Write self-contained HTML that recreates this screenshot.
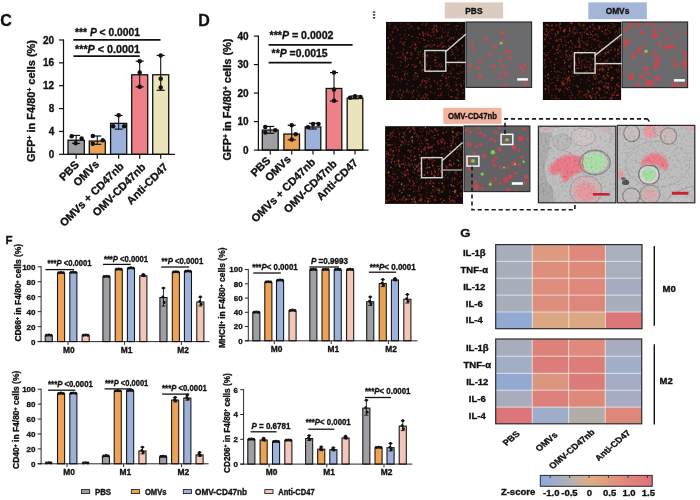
<!DOCTYPE html>
<html><head><meta charset="utf-8"><title>Figure</title>
<style>
html,body{margin:0;padding:0;background:#fff;}
body{width:700px;height:500px;overflow:hidden;font-family:"Liberation Sans",sans-serif;}
svg{display:block;font-family:"Liberation Sans",sans-serif;filter:blur(0.45px);}
</style></head><body>
<svg width="700" height="500" viewBox="0 0 700 500">
<rect width="700" height="500" fill="#fff"/>
<text x="0.30" y="26.00" font-size="16" text-anchor="start" font-weight="bold" fill="#111" stroke="#111" stroke-width="0.32" >C</text>
<rect x="68.00" y="140.23" width="16.30" height="14.07" fill="#9f9fa3" stroke="#111" stroke-width="1.3" />
<line x1="76.15" y1="143.44" x2="76.15" y2="135.44" stroke="#111" stroke-width="1.1" />
<line x1="72.15" y1="143.44" x2="80.15" y2="143.44" stroke="#111" stroke-width="1.2" />
<line x1="72.15" y1="135.44" x2="80.15" y2="135.44" stroke="#111" stroke-width="1.2" />
<circle cx="71.65" cy="136.30" r="2.25" fill="#111"/>
<circle cx="81.65" cy="138.58" r="2.25" fill="#111"/>
<circle cx="75.65" cy="143.16" r="2.25" fill="#111"/>
<rect x="89.30" y="141.08" width="16.00" height="13.22" fill="#eda355" stroke="#111" stroke-width="1.3" />
<line x1="97.30" y1="144.30" x2="97.30" y2="136.01" stroke="#111" stroke-width="1.1" />
<line x1="93.30" y1="144.30" x2="101.30" y2="144.30" stroke="#111" stroke-width="1.2" />
<line x1="93.30" y1="136.01" x2="101.30" y2="136.01" stroke="#111" stroke-width="1.2" />
<circle cx="92.80" cy="136.01" r="2.25" fill="#111"/>
<circle cx="102.80" cy="140.30" r="2.25" fill="#111"/>
<circle cx="92.80" cy="143.73" r="2.25" fill="#111"/>
<rect x="110.60" y="123.37" width="16.10" height="30.93" fill="#9db2da" stroke="#111" stroke-width="1.3" />
<line x1="118.65" y1="129.15" x2="118.65" y2="115.44" stroke="#111" stroke-width="1.1" />
<line x1="114.65" y1="129.15" x2="122.65" y2="129.15" stroke="#111" stroke-width="1.2" />
<line x1="114.65" y1="115.44" x2="122.65" y2="115.44" stroke="#111" stroke-width="1.2" />
<circle cx="113.15" cy="126.30" r="2.25" fill="#111"/>
<circle cx="124.15" cy="126.30" r="2.25" fill="#111"/>
<circle cx="118.65" cy="115.15" r="2.25" fill="#111"/>
<rect x="131.70" y="74.79" width="16.00" height="79.51" fill="#ee8088" stroke="#111" stroke-width="1.3" />
<line x1="139.70" y1="86.86" x2="139.70" y2="61.15" stroke="#111" stroke-width="1.1" />
<line x1="135.70" y1="86.86" x2="143.70" y2="86.86" stroke="#111" stroke-width="1.2" />
<line x1="135.70" y1="61.15" x2="143.70" y2="61.15" stroke="#111" stroke-width="1.2" />
<circle cx="139.70" cy="61.15" r="2.25" fill="#111"/>
<circle cx="139.70" cy="72.58" r="2.25" fill="#111"/>
<circle cx="139.70" cy="86.86" r="2.25" fill="#111"/>
<rect x="152.70" y="74.79" width="16.00" height="79.51" fill="#ebe4bb" stroke="#111" stroke-width="1.3" />
<line x1="160.70" y1="90.29" x2="160.70" y2="55.43" stroke="#111" stroke-width="1.1" />
<line x1="156.70" y1="90.29" x2="164.70" y2="90.29" stroke="#111" stroke-width="1.2" />
<line x1="156.70" y1="55.43" x2="164.70" y2="55.43" stroke="#111" stroke-width="1.2" />
<circle cx="160.70" cy="55.43" r="2.25" fill="#111"/>
<circle cx="160.70" cy="78.86" r="2.25" fill="#111"/>
<circle cx="160.70" cy="87.43" r="2.25" fill="#111"/>
<line x1="63.50" y1="39.40" x2="63.50" y2="154.90" stroke="#111" stroke-width="1.2" />
<line x1="62.90" y1="154.30" x2="175.00" y2="154.30" stroke="#111" stroke-width="1.2" />
<line x1="59.00" y1="154.30" x2="63.50" y2="154.30" stroke="#111" stroke-width="1.2" />
<text x="54.20" y="157.85" font-size="10.0" text-anchor="end" font-weight="bold" fill="#111" stroke="#111" stroke-width="0.32" >0</text>
<line x1="59.00" y1="131.44" x2="63.50" y2="131.44" stroke="#111" stroke-width="1.2" />
<text x="54.20" y="134.99" font-size="10.0" text-anchor="end" font-weight="bold" fill="#111" stroke="#111" stroke-width="0.32" >4</text>
<line x1="59.00" y1="108.58" x2="63.50" y2="108.58" stroke="#111" stroke-width="1.2" />
<text x="54.20" y="112.13" font-size="10.0" text-anchor="end" font-weight="bold" fill="#111" stroke="#111" stroke-width="0.32" >8</text>
<line x1="59.00" y1="85.72" x2="63.50" y2="85.72" stroke="#111" stroke-width="1.2" />
<text x="54.20" y="89.27" font-size="10.0" text-anchor="end" font-weight="bold" fill="#111" stroke="#111" stroke-width="0.32" >12</text>
<line x1="59.00" y1="62.86" x2="63.50" y2="62.86" stroke="#111" stroke-width="1.2" />
<text x="54.20" y="66.41" font-size="10.0" text-anchor="end" font-weight="bold" fill="#111" stroke="#111" stroke-width="0.32" >16</text>
<line x1="59.00" y1="40.00" x2="63.50" y2="40.00" stroke="#111" stroke-width="1.2" />
<text x="54.20" y="43.55" font-size="10.0" text-anchor="end" font-weight="bold" fill="#111" stroke="#111" stroke-width="0.32" >20</text>
<line x1="76.15" y1="154.30" x2="76.15" y2="158.80" stroke="#111" stroke-width="1.2" />
<text x="79.65" y="165.40" font-size="11.0" text-anchor="end" font-weight="bold" fill="#111" stroke="#111" stroke-width="0.32" transform="rotate(-45 79.65 165.40)" >PBS</text>
<line x1="97.30" y1="154.30" x2="97.30" y2="158.80" stroke="#111" stroke-width="1.2" />
<text x="99.80" y="164.90" font-size="11.0" text-anchor="end" font-weight="bold" fill="#111" stroke="#111" stroke-width="0.32" transform="rotate(-45 99.80 164.90)" >OMVs</text>
<line x1="118.65" y1="154.30" x2="118.65" y2="158.80" stroke="#111" stroke-width="1.2" />
<text x="124.45" y="166.90" font-size="11.0" text-anchor="end" font-weight="bold" fill="#111" stroke="#111" stroke-width="0.32" transform="rotate(-45 124.45 166.90)" >OMVs + CD47nb</text>
<line x1="139.70" y1="154.30" x2="139.70" y2="158.80" stroke="#111" stroke-width="1.2" />
<text x="146.40" y="167.70" font-size="11.0" text-anchor="end" font-weight="bold" fill="#111" stroke="#111" stroke-width="0.32" transform="rotate(-45 146.40 167.70)" >OMV-CD47nb</text>
<line x1="160.70" y1="154.30" x2="160.70" y2="158.80" stroke="#111" stroke-width="1.2" />
<text x="168.70" y="167.60" font-size="11.0" text-anchor="end" font-weight="bold" fill="#111" stroke="#111" stroke-width="0.32" transform="rotate(-45 168.70 167.60)" >Anti-CD47</text>
<text x="35.00" y="101.00" font-size="10.6" text-anchor="middle" font-weight="bold" fill="#111" stroke="#111" stroke-width="0.32" transform="rotate(-90 35.00 101.00)" textLength="122.00" lengthAdjust="spacingAndGlyphs" >GFP<tspan font-size="60%" dy="-3.2">+</tspan><tspan dy="3.2"> in F4/80</tspan><tspan font-size="60%" dy="-3.2">+</tspan><tspan dy="3.2"> cells (%)</tspan></text>
<line x1="73.40" y1="39.90" x2="160.50" y2="39.90" stroke="#111" stroke-width="1.75" />
<text x="75.00" y="36.00" font-size="10.6" text-anchor="start" font-weight="bold" fill="#111" stroke="#111" stroke-width="0.32" textLength="65.00" lengthAdjust="spacingAndGlyphs" >*** <tspan font-style="italic">P</tspan> &lt; 0.0001</text>
<line x1="73.40" y1="56.00" x2="139.70" y2="56.00" stroke="#111" stroke-width="1.75" />
<text x="75.00" y="52.50" font-size="10.6" text-anchor="start" font-weight="bold" fill="#111" stroke="#111" stroke-width="0.32" textLength="65.00" lengthAdjust="spacingAndGlyphs" >***<tspan font-style="italic">P</tspan> &lt; 0.0001</text>
<text x="198.30" y="26.00" font-size="16" text-anchor="start" font-weight="bold" fill="#111" stroke="#111" stroke-width="0.32" >D</text>
<rect x="262.30" y="130.08" width="15.90" height="20.02" fill="#9f9fa3" stroke="#111" stroke-width="1.3" />
<line x1="270.25" y1="133.28" x2="270.25" y2="126.44" stroke="#111" stroke-width="1.1" />
<line x1="266.25" y1="133.28" x2="274.25" y2="133.28" stroke="#111" stroke-width="1.2" />
<line x1="266.25" y1="126.44" x2="274.25" y2="126.44" stroke="#111" stroke-width="1.2" />
<circle cx="265.25" cy="127.01" r="2.25" fill="#111"/>
<circle cx="275.25" cy="130.15" r="2.25" fill="#111"/>
<circle cx="265.25" cy="132.43" r="2.25" fill="#111"/>
<rect x="283.90" y="134.07" width="15.60" height="16.03" fill="#eda355" stroke="#111" stroke-width="1.3" />
<line x1="291.70" y1="139.84" x2="291.70" y2="125.30" stroke="#111" stroke-width="1.1" />
<line x1="287.70" y1="139.84" x2="295.70" y2="139.84" stroke="#111" stroke-width="1.2" />
<line x1="287.70" y1="125.30" x2="295.70" y2="125.30" stroke="#111" stroke-width="1.2" />
<circle cx="291.70" cy="125.30" r="2.25" fill="#111"/>
<circle cx="295.70" cy="134.14" r="2.25" fill="#111"/>
<circle cx="291.70" cy="139.56" r="2.25" fill="#111"/>
<rect x="305.20" y="126.94" width="15.60" height="23.16" fill="#9db2da" stroke="#111" stroke-width="1.3" />
<line x1="313.00" y1="129.01" x2="313.00" y2="123.31" stroke="#111" stroke-width="1.1" />
<line x1="309.00" y1="129.01" x2="317.00" y2="129.01" stroke="#111" stroke-width="1.2" />
<line x1="309.00" y1="123.31" x2="317.00" y2="123.31" stroke="#111" stroke-width="1.2" />
<circle cx="308.00" cy="127.30" r="2.25" fill="#111"/>
<circle cx="313.00" cy="123.88" r="2.25" fill="#111"/>
<circle cx="318.50" cy="123.88" r="2.25" fill="#111"/>
<rect x="326.20" y="88.47" width="15.60" height="61.63" fill="#ee8088" stroke="#111" stroke-width="1.3" />
<line x1="334.00" y1="101.08" x2="334.00" y2="72.58" stroke="#111" stroke-width="1.1" />
<line x1="330.00" y1="101.08" x2="338.00" y2="101.08" stroke="#111" stroke-width="1.2" />
<line x1="330.00" y1="72.58" x2="338.00" y2="72.58" stroke="#111" stroke-width="1.2" />
<circle cx="334.00" cy="72.58" r="2.25" fill="#111"/>
<circle cx="334.00" cy="89.39" r="2.25" fill="#111"/>
<circle cx="334.00" cy="100.79" r="2.25" fill="#111"/>
<rect x="347.20" y="98.16" width="15.60" height="51.94" fill="#ebe4bb" stroke="#111" stroke-width="1.3" />
<line x1="355.00" y1="98.80" x2="355.00" y2="95.95" stroke="#111" stroke-width="1.1" />
<line x1="351.00" y1="98.80" x2="359.00" y2="98.80" stroke="#111" stroke-width="1.2" />
<line x1="351.00" y1="95.95" x2="359.00" y2="95.95" stroke="#111" stroke-width="1.2" />
<circle cx="350.00" cy="97.66" r="2.25" fill="#111"/>
<circle cx="355.00" cy="96.23" r="2.25" fill="#111"/>
<circle cx="360.50" cy="97.09" r="2.25" fill="#111"/>
<line x1="258.40" y1="35.50" x2="258.40" y2="150.70" stroke="#111" stroke-width="1.2" />
<line x1="257.80" y1="150.10" x2="368.50" y2="150.10" stroke="#111" stroke-width="1.2" />
<line x1="253.90" y1="150.10" x2="258.40" y2="150.10" stroke="#111" stroke-width="1.2" />
<text x="248.50" y="153.65" font-size="10.0" text-anchor="end" font-weight="bold" fill="#111" stroke="#111" stroke-width="0.32" >0</text>
<line x1="253.90" y1="121.60" x2="258.40" y2="121.60" stroke="#111" stroke-width="1.2" />
<text x="248.50" y="125.15" font-size="10.0" text-anchor="end" font-weight="bold" fill="#111" stroke="#111" stroke-width="0.32" >10</text>
<line x1="253.90" y1="93.10" x2="258.40" y2="93.10" stroke="#111" stroke-width="1.2" />
<text x="248.50" y="96.65" font-size="10.0" text-anchor="end" font-weight="bold" fill="#111" stroke="#111" stroke-width="0.32" >20</text>
<line x1="253.90" y1="64.60" x2="258.40" y2="64.60" stroke="#111" stroke-width="1.2" />
<text x="248.50" y="68.15" font-size="10.0" text-anchor="end" font-weight="bold" fill="#111" stroke="#111" stroke-width="0.32" >30</text>
<line x1="253.90" y1="36.10" x2="258.40" y2="36.10" stroke="#111" stroke-width="1.2" />
<text x="248.50" y="39.65" font-size="10.0" text-anchor="end" font-weight="bold" fill="#111" stroke="#111" stroke-width="0.32" >40</text>
<line x1="270.25" y1="150.10" x2="270.25" y2="154.60" stroke="#111" stroke-width="1.2" />
<text x="271.15" y="161.20" font-size="11.0" text-anchor="end" font-weight="bold" fill="#111" stroke="#111" stroke-width="0.32" transform="rotate(-45 271.15 161.20)" >PBS</text>
<line x1="291.70" y1="150.10" x2="291.70" y2="154.60" stroke="#111" stroke-width="1.2" />
<text x="291.60" y="159.90" font-size="11.0" text-anchor="end" font-weight="bold" fill="#111" stroke="#111" stroke-width="0.32" transform="rotate(-45 291.60 159.90)" >OMVs</text>
<line x1="313.00" y1="150.10" x2="313.00" y2="154.60" stroke="#111" stroke-width="1.2" />
<text x="316.00" y="162.80" font-size="11.0" text-anchor="end" font-weight="bold" fill="#111" stroke="#111" stroke-width="0.32" transform="rotate(-45 316.00 162.80)" >OMVs + CD47nb</text>
<line x1="334.00" y1="150.10" x2="334.00" y2="154.60" stroke="#111" stroke-width="1.2" />
<text x="337.50" y="164.40" font-size="11.0" text-anchor="end" font-weight="bold" fill="#111" stroke="#111" stroke-width="0.32" transform="rotate(-45 337.50 164.40)" >OMV-CD47nb</text>
<line x1="355.00" y1="150.10" x2="355.00" y2="154.60" stroke="#111" stroke-width="1.2" />
<text x="358.50" y="163.40" font-size="11.0" text-anchor="end" font-weight="bold" fill="#111" stroke="#111" stroke-width="0.32" transform="rotate(-45 358.50 163.40)" >Anti-CD47</text>
<text x="231.40" y="99.50" font-size="10.6" text-anchor="middle" font-weight="bold" fill="#111" stroke="#111" stroke-width="0.32" transform="rotate(-90 231.40 99.50)" textLength="122.00" lengthAdjust="spacingAndGlyphs" >GFP<tspan font-size="60%" dy="-3.2">+</tspan><tspan dy="3.2"> in F4/80</tspan><tspan font-size="60%" dy="-3.2">+</tspan><tspan dy="3.2"> cells (%)</tspan></text>
<line x1="268.60" y1="44.80" x2="352.60" y2="44.80" stroke="#111" stroke-width="1.75" />
<text x="269.50" y="39.00" font-size="10.6" text-anchor="start" font-weight="bold" fill="#111" stroke="#111" stroke-width="0.32" textLength="64.00" lengthAdjust="spacingAndGlyphs" >***<tspan font-style="italic">P</tspan> = 0.0002</text>
<line x1="268.60" y1="62.50" x2="331.60" y2="62.50" stroke="#111" stroke-width="1.75" />
<text x="271.60" y="57.40" font-size="10.6" text-anchor="start" font-weight="bold" fill="#111" stroke="#111" stroke-width="0.32" textLength="56.00" lengthAdjust="spacingAndGlyphs" >**<tspan font-style="italic">P</tspan> =0.0015</text>
<text x="5.50" y="243.80" font-size="11.5" text-anchor="start" font-weight="bold" fill="#111" stroke="#111" stroke-width="0.32" >F</text>
<rect x="45.20" y="335.69" width="7.10" height="5.91" fill="#9f9fa3" stroke="#111" stroke-width="1.05" />
<circle cx="46.45" cy="335.24" r="1.45" fill="#111"/>
<circle cx="48.75" cy="334.84" r="1.45" fill="#111"/>
<circle cx="51.05" cy="335.24" r="1.45" fill="#111"/>
<rect x="57.50" y="273.19" width="7.10" height="68.41" fill="#eda355" stroke="#111" stroke-width="1.05" />
<circle cx="58.75" cy="272.74" r="1.45" fill="#111"/>
<circle cx="61.05" cy="272.34" r="1.45" fill="#111"/>
<circle cx="63.35" cy="272.74" r="1.45" fill="#111"/>
<rect x="69.80" y="272.81" width="7.10" height="68.79" fill="#9db2da" stroke="#111" stroke-width="1.05" />
<circle cx="71.05" cy="272.36" r="1.45" fill="#111"/>
<circle cx="73.35" cy="271.96" r="1.45" fill="#111"/>
<circle cx="75.65" cy="272.36" r="1.45" fill="#111"/>
<rect x="82.10" y="335.69" width="7.10" height="5.91" fill="#f3c6ba" stroke="#111" stroke-width="1.05" />
<circle cx="83.35" cy="335.24" r="1.45" fill="#111"/>
<circle cx="85.65" cy="334.84" r="1.45" fill="#111"/>
<circle cx="87.95" cy="335.24" r="1.45" fill="#111"/>
<line x1="68.00" y1="341.60" x2="68.00" y2="344.80" stroke="#111" stroke-width="0.9" />
<text x="68.90" y="352.80" font-size="8.4" text-anchor="middle" font-weight="bold" fill="#111" stroke="#111" stroke-width="0.32" >M0</text>
<rect x="102.90" y="276.93" width="7.10" height="64.67" fill="#9f9fa3" stroke="#111" stroke-width="1.05" />
<circle cx="104.15" cy="276.48" r="1.45" fill="#111"/>
<circle cx="106.45" cy="276.08" r="1.45" fill="#111"/>
<circle cx="108.75" cy="276.48" r="1.45" fill="#111"/>
<rect x="115.20" y="269.74" width="7.10" height="71.86" fill="#eda355" stroke="#111" stroke-width="1.05" />
<circle cx="116.45" cy="269.29" r="1.45" fill="#111"/>
<circle cx="118.75" cy="268.89" r="1.45" fill="#111"/>
<circle cx="121.05" cy="269.29" r="1.45" fill="#111"/>
<rect x="127.40" y="268.55" width="7.10" height="73.05" fill="#9db2da" stroke="#111" stroke-width="1.05" />
<circle cx="128.65" cy="268.10" r="1.45" fill="#111"/>
<circle cx="130.95" cy="267.70" r="1.45" fill="#111"/>
<circle cx="133.25" cy="268.10" r="1.45" fill="#111"/>
<rect x="139.80" y="275.81" width="7.10" height="65.79" fill="#f3c6ba" stroke="#111" stroke-width="1.05" />
<line x1="143.35" y1="274.46" x2="143.35" y2="276.26" stroke="#111" stroke-width="0.9" />
<line x1="141.35" y1="274.46" x2="145.35" y2="274.46" stroke="#111" stroke-width="0.9" />
<line x1="141.35" y1="276.26" x2="145.35" y2="276.26" stroke="#111" stroke-width="0.9" />
<circle cx="143.35" cy="274.46" r="1.45" fill="#111"/>
<circle cx="144.15" cy="275.90" r="1.45" fill="#111"/>
<circle cx="142.75" cy="275.36" r="1.45" fill="#111"/>
<line x1="124.60" y1="341.60" x2="124.60" y2="344.80" stroke="#111" stroke-width="0.9" />
<text x="126.50" y="352.80" font-size="8.4" text-anchor="middle" font-weight="bold" fill="#111" stroke="#111" stroke-width="0.32" >M1</text>
<rect x="159.90" y="297.51" width="7.10" height="44.09" fill="#9f9fa3" stroke="#111" stroke-width="1.05" />
<line x1="163.45" y1="288.08" x2="163.45" y2="306.05" stroke="#111" stroke-width="0.9" />
<line x1="161.45" y1="288.08" x2="165.45" y2="288.08" stroke="#111" stroke-width="0.9" />
<line x1="161.45" y1="306.05" x2="165.45" y2="306.05" stroke="#111" stroke-width="0.9" />
<circle cx="163.45" cy="288.08" r="1.45" fill="#111"/>
<circle cx="164.25" cy="302.45" r="1.45" fill="#111"/>
<circle cx="162.85" cy="297.06" r="1.45" fill="#111"/>
<rect x="172.30" y="272.44" width="7.10" height="69.16" fill="#eda355" stroke="#111" stroke-width="1.05" />
<circle cx="173.55" cy="271.99" r="1.45" fill="#111"/>
<circle cx="175.85" cy="271.59" r="1.45" fill="#111"/>
<circle cx="178.15" cy="271.99" r="1.45" fill="#111"/>
<rect x="184.40" y="271.69" width="7.10" height="69.91" fill="#9db2da" stroke="#111" stroke-width="1.05" />
<circle cx="185.65" cy="271.24" r="1.45" fill="#111"/>
<circle cx="187.95" cy="270.84" r="1.45" fill="#111"/>
<circle cx="190.25" cy="271.24" r="1.45" fill="#111"/>
<rect x="196.80" y="302.01" width="7.10" height="39.59" fill="#f3c6ba" stroke="#111" stroke-width="1.05" />
<line x1="200.35" y1="297.06" x2="200.35" y2="306.05" stroke="#111" stroke-width="0.9" />
<line x1="198.35" y1="297.06" x2="202.35" y2="297.06" stroke="#111" stroke-width="0.9" />
<line x1="198.35" y1="306.05" x2="202.35" y2="306.05" stroke="#111" stroke-width="0.9" />
<circle cx="200.35" cy="297.06" r="1.45" fill="#111"/>
<circle cx="201.15" cy="304.25" r="1.45" fill="#111"/>
<circle cx="199.75" cy="301.56" r="1.45" fill="#111"/>
<line x1="181.40" y1="341.60" x2="181.40" y2="344.80" stroke="#111" stroke-width="0.9" />
<text x="183.00" y="352.80" font-size="8.4" text-anchor="middle" font-weight="bold" fill="#111" stroke="#111" stroke-width="0.32" >M2</text>
<line x1="41.10" y1="266.30" x2="41.10" y2="342.05" stroke="#111" stroke-width="0.9" />
<line x1="37.70" y1="341.60" x2="209.60" y2="341.60" stroke="#111" stroke-width="0.9" />
<line x1="37.70" y1="341.60" x2="41.10" y2="341.60" stroke="#111" stroke-width="0.9" />
<text x="35.50" y="344.50" font-size="8.0" text-anchor="end" font-weight="bold" fill="#111" stroke="#111" stroke-width="0.32" >0</text>
<line x1="37.70" y1="326.63" x2="41.10" y2="326.63" stroke="#111" stroke-width="0.9" />
<text x="35.50" y="329.53" font-size="8.0" text-anchor="end" font-weight="bold" fill="#111" stroke="#111" stroke-width="0.32" >20</text>
<line x1="37.70" y1="311.66" x2="41.10" y2="311.66" stroke="#111" stroke-width="0.9" />
<text x="35.50" y="314.56" font-size="8.0" text-anchor="end" font-weight="bold" fill="#111" stroke="#111" stroke-width="0.32" >40</text>
<line x1="37.70" y1="296.69" x2="41.10" y2="296.69" stroke="#111" stroke-width="0.9" />
<text x="35.50" y="299.59" font-size="8.0" text-anchor="end" font-weight="bold" fill="#111" stroke="#111" stroke-width="0.32" >60</text>
<line x1="37.70" y1="281.72" x2="41.10" y2="281.72" stroke="#111" stroke-width="0.9" />
<text x="35.50" y="284.62" font-size="8.0" text-anchor="end" font-weight="bold" fill="#111" stroke="#111" stroke-width="0.32" >80</text>
<line x1="37.70" y1="266.75" x2="41.10" y2="266.75" stroke="#111" stroke-width="0.9" />
<text x="35.50" y="269.65" font-size="8.0" text-anchor="end" font-weight="bold" fill="#111" stroke="#111" stroke-width="0.32" >100</text>
<text x="21.20" y="292.80" font-size="8.4" text-anchor="middle" font-weight="bold" fill="#111" stroke="#111" stroke-width="0.32" transform="rotate(-90 21.20 292.80)" textLength="97.60" lengthAdjust="spacingAndGlyphs" >CD86<tspan font-size="60%" dy="-2.6">+</tspan><tspan dy="2.6"> in F4/80</tspan><tspan font-size="60%" dy="-2.6">+</tspan><tspan dy="2.6"> cells (%)</tspan></text>
<line x1="45.50" y1="269.60" x2="74.10" y2="269.60" stroke="#111" stroke-width="1.3" />
<text x="47.60" y="266.00" font-size="8.4" text-anchor="start" font-weight="bold" fill="#111" stroke="#111" stroke-width="0.32" textLength="44.00" lengthAdjust="spacingAndGlyphs" >***<tspan font-style="italic">P</tspan> &lt;0.0001</text>
<line x1="103.00" y1="264.40" x2="130.70" y2="264.40" stroke="#111" stroke-width="1.3" />
<text x="103.90" y="261.60" font-size="8.4" text-anchor="start" font-weight="bold" fill="#111" stroke="#111" stroke-width="0.32" textLength="44.20" lengthAdjust="spacingAndGlyphs" >***<tspan font-style="italic">P</tspan> &lt;0.0001</text>
<line x1="161.10" y1="267.00" x2="189.20" y2="267.00" stroke="#111" stroke-width="1.3" />
<text x="161.60" y="264.00" font-size="8.4" text-anchor="start" font-weight="bold" fill="#111" stroke="#111" stroke-width="0.32" textLength="41.60" lengthAdjust="spacingAndGlyphs" >**<tspan font-style="italic">P</tspan> &lt;0.0001</text>
<rect x="252.80" y="312.75" width="7.10" height="28.05" fill="#9f9fa3" stroke="#111" stroke-width="1.05" />
<circle cx="254.05" cy="312.30" r="1.45" fill="#111"/>
<circle cx="256.35" cy="311.90" r="1.45" fill="#111"/>
<circle cx="258.65" cy="312.30" r="1.45" fill="#111"/>
<rect x="264.80" y="282.47" width="7.10" height="58.33" fill="#eda355" stroke="#111" stroke-width="1.05" />
<circle cx="266.05" cy="282.02" r="1.45" fill="#111"/>
<circle cx="268.35" cy="281.62" r="1.45" fill="#111"/>
<circle cx="270.65" cy="282.02" r="1.45" fill="#111"/>
<rect x="276.50" y="280.69" width="7.10" height="60.11" fill="#9db2da" stroke="#111" stroke-width="1.05" />
<circle cx="277.75" cy="280.24" r="1.45" fill="#111"/>
<circle cx="280.05" cy="279.84" r="1.45" fill="#111"/>
<circle cx="282.35" cy="280.24" r="1.45" fill="#111"/>
<rect x="289.00" y="310.90" width="7.10" height="29.90" fill="#f3c6ba" stroke="#111" stroke-width="1.05" />
<circle cx="290.25" cy="310.45" r="1.45" fill="#111"/>
<circle cx="292.55" cy="310.05" r="1.45" fill="#111"/>
<circle cx="294.85" cy="310.45" r="1.45" fill="#111"/>
<line x1="274.30" y1="340.80" x2="274.30" y2="344.00" stroke="#111" stroke-width="0.9" />
<text x="276.50" y="352.00" font-size="8.4" text-anchor="middle" font-weight="bold" fill="#111" stroke="#111" stroke-width="0.32" >M0</text>
<rect x="309.80" y="270.00" width="7.10" height="70.80" fill="#9f9fa3" stroke="#111" stroke-width="1.05" />
<circle cx="311.05" cy="269.55" r="1.45" fill="#111"/>
<circle cx="313.35" cy="269.15" r="1.45" fill="#111"/>
<circle cx="315.65" cy="269.55" r="1.45" fill="#111"/>
<rect x="322.00" y="270.00" width="7.10" height="70.80" fill="#eda355" stroke="#111" stroke-width="1.05" />
<circle cx="323.25" cy="269.55" r="1.45" fill="#111"/>
<circle cx="325.55" cy="269.15" r="1.45" fill="#111"/>
<circle cx="327.85" cy="269.55" r="1.45" fill="#111"/>
<rect x="334.20" y="270.00" width="7.10" height="70.80" fill="#9db2da" stroke="#111" stroke-width="1.05" />
<circle cx="335.45" cy="269.55" r="1.45" fill="#111"/>
<circle cx="337.75" cy="269.15" r="1.45" fill="#111"/>
<circle cx="340.05" cy="269.55" r="1.45" fill="#111"/>
<rect x="346.60" y="270.00" width="7.10" height="70.80" fill="#f3c6ba" stroke="#111" stroke-width="1.05" />
<circle cx="347.85" cy="269.55" r="1.45" fill="#111"/>
<circle cx="350.15" cy="269.15" r="1.45" fill="#111"/>
<circle cx="352.45" cy="269.55" r="1.45" fill="#111"/>
<line x1="331.20" y1="340.80" x2="331.20" y2="344.00" stroke="#111" stroke-width="0.9" />
<text x="333.30" y="352.00" font-size="8.4" text-anchor="middle" font-weight="bold" fill="#111" stroke="#111" stroke-width="0.32" >M1</text>
<rect x="366.70" y="301.71" width="7.10" height="39.09" fill="#9f9fa3" stroke="#111" stroke-width="1.05" />
<line x1="370.25" y1="296.98" x2="370.25" y2="305.53" stroke="#111" stroke-width="0.9" />
<line x1="368.25" y1="296.98" x2="372.25" y2="296.98" stroke="#111" stroke-width="0.9" />
<line x1="368.25" y1="305.53" x2="372.25" y2="305.53" stroke="#111" stroke-width="0.9" />
<circle cx="370.25" cy="296.98" r="1.45" fill="#111"/>
<circle cx="371.05" cy="303.82" r="1.45" fill="#111"/>
<circle cx="369.65" cy="301.26" r="1.45" fill="#111"/>
<rect x="379.20" y="283.54" width="7.10" height="57.26" fill="#eda355" stroke="#111" stroke-width="1.05" />
<line x1="382.75" y1="279.53" x2="382.75" y2="286.65" stroke="#111" stroke-width="0.9" />
<line x1="380.75" y1="279.53" x2="384.75" y2="279.53" stroke="#111" stroke-width="0.9" />
<line x1="380.75" y1="286.65" x2="384.75" y2="286.65" stroke="#111" stroke-width="0.9" />
<circle cx="382.75" cy="279.53" r="1.45" fill="#111"/>
<circle cx="383.55" cy="285.23" r="1.45" fill="#111"/>
<circle cx="382.15" cy="283.09" r="1.45" fill="#111"/>
<rect x="391.40" y="279.98" width="7.10" height="60.82" fill="#9db2da" stroke="#111" stroke-width="1.05" />
<line x1="394.95" y1="278.46" x2="394.95" y2="280.59" stroke="#111" stroke-width="0.9" />
<line x1="392.95" y1="278.46" x2="396.95" y2="278.46" stroke="#111" stroke-width="0.9" />
<line x1="392.95" y1="280.59" x2="396.95" y2="280.59" stroke="#111" stroke-width="0.9" />
<circle cx="394.95" cy="278.46" r="1.45" fill="#111"/>
<circle cx="395.75" cy="280.17" r="1.45" fill="#111"/>
<circle cx="394.35" cy="279.53" r="1.45" fill="#111"/>
<rect x="403.80" y="299.21" width="7.10" height="41.59" fill="#f3c6ba" stroke="#111" stroke-width="1.05" />
<line x1="407.35" y1="294.49" x2="407.35" y2="303.04" stroke="#111" stroke-width="0.9" />
<line x1="405.35" y1="294.49" x2="409.35" y2="294.49" stroke="#111" stroke-width="0.9" />
<line x1="405.35" y1="303.04" x2="409.35" y2="303.04" stroke="#111" stroke-width="0.9" />
<circle cx="407.35" cy="294.49" r="1.45" fill="#111"/>
<circle cx="408.15" cy="301.33" r="1.45" fill="#111"/>
<circle cx="406.75" cy="298.76" r="1.45" fill="#111"/>
<line x1="388.40" y1="340.80" x2="388.40" y2="344.00" stroke="#111" stroke-width="0.9" />
<text x="391.00" y="352.00" font-size="8.4" text-anchor="middle" font-weight="bold" fill="#111" stroke="#111" stroke-width="0.32" >M2</text>
<line x1="248.30" y1="269.10" x2="248.30" y2="341.25" stroke="#111" stroke-width="0.9" />
<line x1="244.90" y1="340.80" x2="417.50" y2="340.80" stroke="#111" stroke-width="0.9" />
<line x1="244.90" y1="340.80" x2="248.30" y2="340.80" stroke="#111" stroke-width="0.9" />
<text x="242.70" y="343.70" font-size="8.0" text-anchor="end" font-weight="bold" fill="#111" stroke="#111" stroke-width="0.32" >0</text>
<line x1="244.90" y1="326.55" x2="248.30" y2="326.55" stroke="#111" stroke-width="0.9" />
<text x="242.70" y="329.45" font-size="8.0" text-anchor="end" font-weight="bold" fill="#111" stroke="#111" stroke-width="0.32" >20</text>
<line x1="244.90" y1="312.30" x2="248.30" y2="312.30" stroke="#111" stroke-width="0.9" />
<text x="242.70" y="315.20" font-size="8.0" text-anchor="end" font-weight="bold" fill="#111" stroke="#111" stroke-width="0.32" >40</text>
<line x1="244.90" y1="298.05" x2="248.30" y2="298.05" stroke="#111" stroke-width="0.9" />
<text x="242.70" y="300.95" font-size="8.0" text-anchor="end" font-weight="bold" fill="#111" stroke="#111" stroke-width="0.32" >60</text>
<line x1="244.90" y1="283.80" x2="248.30" y2="283.80" stroke="#111" stroke-width="0.9" />
<text x="242.70" y="286.70" font-size="8.0" text-anchor="end" font-weight="bold" fill="#111" stroke="#111" stroke-width="0.32" >80</text>
<line x1="244.90" y1="269.55" x2="248.30" y2="269.55" stroke="#111" stroke-width="0.9" />
<text x="242.70" y="272.45" font-size="8.0" text-anchor="end" font-weight="bold" fill="#111" stroke="#111" stroke-width="0.32" >100</text>
<text x="225.40" y="297.80" font-size="8.4" text-anchor="middle" font-weight="bold" fill="#111" stroke="#111" stroke-width="0.32" transform="rotate(-90 225.40 297.80)" textLength="100.60" lengthAdjust="spacingAndGlyphs" >MHCII<tspan font-size="60%" dy="-2.6">+</tspan><tspan dy="2.6"> in F4/80</tspan><tspan font-size="60%" dy="-2.6">+</tspan><tspan dy="2.6"> cells (%)</tspan></text>
<line x1="253.20" y1="273.00" x2="280.80" y2="273.00" stroke="#111" stroke-width="1.3" />
<text x="252.20" y="269.50" font-size="8.4" text-anchor="start" font-weight="bold" fill="#111" stroke="#111" stroke-width="0.32" textLength="45.50" lengthAdjust="spacingAndGlyphs" >***<tspan font-style="italic">P</tspan>&lt; 0.0001</text>
<line x1="309.40" y1="267.00" x2="339.00" y2="267.00" stroke="#111" stroke-width="1.3" />
<text x="310.90" y="263.60" font-size="8.4" text-anchor="start" font-weight="bold" fill="#111" stroke="#111" stroke-width="0.32" textLength="37.20" lengthAdjust="spacingAndGlyphs" ><tspan font-style="italic">P</tspan> =0.9993</text>
<line x1="368.90" y1="272.20" x2="396.20" y2="272.20" stroke="#111" stroke-width="1.3" />
<text x="369.70" y="269.50" font-size="8.4" text-anchor="start" font-weight="bold" fill="#111" stroke="#111" stroke-width="0.32" textLength="46.00" lengthAdjust="spacingAndGlyphs" >***<tspan font-style="italic">P</tspan>&lt; 0.0001</text>
<circle cx="46.45" cy="463.05" r="1.45" fill="#111"/>
<circle cx="48.75" cy="462.65" r="1.45" fill="#111"/>
<circle cx="51.05" cy="463.05" r="1.45" fill="#111"/>
<rect x="57.50" y="393.90" width="7.10" height="69.90" fill="#eda355" stroke="#111" stroke-width="1.05" />
<circle cx="58.75" cy="393.45" r="1.45" fill="#111"/>
<circle cx="61.05" cy="393.05" r="1.45" fill="#111"/>
<circle cx="63.35" cy="393.45" r="1.45" fill="#111"/>
<rect x="69.80" y="393.68" width="7.10" height="70.12" fill="#9db2da" stroke="#111" stroke-width="1.05" />
<circle cx="71.05" cy="393.23" r="1.45" fill="#111"/>
<circle cx="73.35" cy="392.83" r="1.45" fill="#111"/>
<circle cx="75.65" cy="393.23" r="1.45" fill="#111"/>
<circle cx="83.35" cy="463.05" r="1.45" fill="#111"/>
<circle cx="85.65" cy="462.65" r="1.45" fill="#111"/>
<circle cx="87.95" cy="463.05" r="1.45" fill="#111"/>
<line x1="67.00" y1="463.80" x2="67.00" y2="467.00" stroke="#111" stroke-width="0.9" />
<text x="69.00" y="475.00" font-size="8.4" text-anchor="middle" font-weight="bold" fill="#111" stroke="#111" stroke-width="0.32" >M0</text>
<rect x="102.40" y="456.42" width="7.10" height="7.38" fill="#9f9fa3" stroke="#111" stroke-width="1.05" />
<circle cx="103.65" cy="455.97" r="1.45" fill="#111"/>
<circle cx="105.95" cy="455.57" r="1.45" fill="#111"/>
<circle cx="108.25" cy="455.97" r="1.45" fill="#111"/>
<rect x="114.20" y="391.29" width="7.10" height="72.51" fill="#eda355" stroke="#111" stroke-width="1.05" />
<circle cx="115.45" cy="390.84" r="1.45" fill="#111"/>
<circle cx="117.75" cy="390.44" r="1.45" fill="#111"/>
<circle cx="120.05" cy="390.84" r="1.45" fill="#111"/>
<rect x="126.60" y="390.99" width="7.10" height="72.81" fill="#9db2da" stroke="#111" stroke-width="1.05" />
<circle cx="127.85" cy="390.54" r="1.45" fill="#111"/>
<circle cx="130.15" cy="390.14" r="1.45" fill="#111"/>
<circle cx="132.45" cy="390.54" r="1.45" fill="#111"/>
<rect x="138.90" y="450.97" width="7.10" height="12.83" fill="#f3c6ba" stroke="#111" stroke-width="1.05" />
<line x1="142.45" y1="447.16" x2="142.45" y2="453.88" stroke="#111" stroke-width="0.9" />
<line x1="140.45" y1="447.16" x2="144.45" y2="447.16" stroke="#111" stroke-width="0.9" />
<line x1="140.45" y1="453.88" x2="144.45" y2="453.88" stroke="#111" stroke-width="0.9" />
<circle cx="142.45" cy="447.16" r="1.45" fill="#111"/>
<circle cx="143.25" cy="452.54" r="1.45" fill="#111"/>
<circle cx="141.85" cy="450.52" r="1.45" fill="#111"/>
<line x1="123.60" y1="463.80" x2="123.60" y2="467.00" stroke="#111" stroke-width="0.9" />
<text x="125.40" y="475.00" font-size="8.4" text-anchor="middle" font-weight="bold" fill="#111" stroke="#111" stroke-width="0.32" >M1</text>
<rect x="159.60" y="456.94" width="7.10" height="6.86" fill="#9f9fa3" stroke="#111" stroke-width="1.05" />
<circle cx="160.85" cy="456.49" r="1.45" fill="#111"/>
<circle cx="163.15" cy="456.09" r="1.45" fill="#111"/>
<circle cx="165.45" cy="456.49" r="1.45" fill="#111"/>
<rect x="171.60" y="400.09" width="7.10" height="63.71" fill="#eda355" stroke="#111" stroke-width="1.05" />
<line x1="175.15" y1="397.41" x2="175.15" y2="401.88" stroke="#111" stroke-width="0.9" />
<line x1="173.15" y1="397.41" x2="177.15" y2="397.41" stroke="#111" stroke-width="0.9" />
<line x1="173.15" y1="401.88" x2="177.15" y2="401.88" stroke="#111" stroke-width="0.9" />
<circle cx="175.15" cy="397.41" r="1.45" fill="#111"/>
<circle cx="175.95" cy="400.99" r="1.45" fill="#111"/>
<circle cx="174.55" cy="399.64" r="1.45" fill="#111"/>
<rect x="183.80" y="398.01" width="7.10" height="65.79" fill="#9db2da" stroke="#111" stroke-width="1.05" />
<line x1="187.35" y1="394.94" x2="187.35" y2="400.17" stroke="#111" stroke-width="0.9" />
<line x1="185.35" y1="394.94" x2="189.35" y2="394.94" stroke="#111" stroke-width="0.9" />
<line x1="185.35" y1="400.17" x2="189.35" y2="400.17" stroke="#111" stroke-width="0.9" />
<circle cx="187.35" cy="394.94" r="1.45" fill="#111"/>
<circle cx="188.15" cy="399.12" r="1.45" fill="#111"/>
<circle cx="186.75" cy="397.56" r="1.45" fill="#111"/>
<rect x="196.00" y="454.85" width="7.10" height="8.95" fill="#f3c6ba" stroke="#111" stroke-width="1.05" />
<line x1="199.55" y1="452.54" x2="199.55" y2="456.27" stroke="#111" stroke-width="0.9" />
<line x1="197.55" y1="452.54" x2="201.55" y2="452.54" stroke="#111" stroke-width="0.9" />
<line x1="197.55" y1="456.27" x2="201.55" y2="456.27" stroke="#111" stroke-width="0.9" />
<circle cx="199.55" cy="452.54" r="1.45" fill="#111"/>
<circle cx="200.35" cy="455.52" r="1.45" fill="#111"/>
<circle cx="198.95" cy="454.40" r="1.45" fill="#111"/>
<line x1="181.60" y1="463.80" x2="181.60" y2="467.00" stroke="#111" stroke-width="0.9" />
<text x="183.40" y="475.00" font-size="8.4" text-anchor="middle" font-weight="bold" fill="#111" stroke="#111" stroke-width="0.32" >M2</text>
<line x1="41.10" y1="388.75" x2="41.10" y2="464.25" stroke="#111" stroke-width="0.9" />
<line x1="37.70" y1="463.80" x2="208.60" y2="463.80" stroke="#111" stroke-width="0.9" />
<line x1="37.70" y1="463.80" x2="41.10" y2="463.80" stroke="#111" stroke-width="0.9" />
<text x="35.50" y="466.70" font-size="8.0" text-anchor="end" font-weight="bold" fill="#111" stroke="#111" stroke-width="0.32" >0</text>
<line x1="37.70" y1="448.88" x2="41.10" y2="448.88" stroke="#111" stroke-width="0.9" />
<text x="35.50" y="451.78" font-size="8.0" text-anchor="end" font-weight="bold" fill="#111" stroke="#111" stroke-width="0.32" >20</text>
<line x1="37.70" y1="433.96" x2="41.10" y2="433.96" stroke="#111" stroke-width="0.9" />
<text x="35.50" y="436.86" font-size="8.0" text-anchor="end" font-weight="bold" fill="#111" stroke="#111" stroke-width="0.32" >40</text>
<line x1="37.70" y1="419.04" x2="41.10" y2="419.04" stroke="#111" stroke-width="0.9" />
<text x="35.50" y="421.94" font-size="8.0" text-anchor="end" font-weight="bold" fill="#111" stroke="#111" stroke-width="0.32" >60</text>
<line x1="37.70" y1="404.12" x2="41.10" y2="404.12" stroke="#111" stroke-width="0.9" />
<text x="35.50" y="407.02" font-size="8.0" text-anchor="end" font-weight="bold" fill="#111" stroke="#111" stroke-width="0.32" >80</text>
<line x1="37.70" y1="389.20" x2="41.10" y2="389.20" stroke="#111" stroke-width="0.9" />
<text x="35.50" y="392.10" font-size="8.0" text-anchor="end" font-weight="bold" fill="#111" stroke="#111" stroke-width="0.32" >100</text>
<text x="19.20" y="419.85" font-size="8.4" text-anchor="middle" font-weight="bold" fill="#111" stroke="#111" stroke-width="0.32" transform="rotate(-90 19.20 419.85)" textLength="98.30" lengthAdjust="spacingAndGlyphs" >CD40<tspan font-size="60%" dy="-2.6">+</tspan><tspan dy="2.6"> in F4/80</tspan><tspan font-size="60%" dy="-2.6">+</tspan><tspan dy="2.6"> cells (%)</tspan></text>
<line x1="48.10" y1="390.20" x2="75.40" y2="390.20" stroke="#111" stroke-width="1.3" />
<text x="48.10" y="386.50" font-size="8.4" text-anchor="start" font-weight="bold" fill="#111" stroke="#111" stroke-width="0.32" textLength="44.70" lengthAdjust="spacingAndGlyphs" >***<tspan font-style="italic">P</tspan> &lt;0.0001</text>
<line x1="104.60" y1="388.90" x2="132.20" y2="388.90" stroke="#111" stroke-width="1.3" />
<text x="104.90" y="385.70" font-size="8.4" text-anchor="start" font-weight="bold" fill="#111" stroke="#111" stroke-width="0.32" textLength="43.40" lengthAdjust="spacingAndGlyphs" >***<tspan font-style="italic">P</tspan> &lt;0.0001</text>
<line x1="162.10" y1="394.10" x2="189.10" y2="394.10" stroke="#111" stroke-width="1.3" />
<text x="162.10" y="391.00" font-size="8.4" text-anchor="start" font-weight="bold" fill="#111" stroke="#111" stroke-width="0.32" textLength="44.70" lengthAdjust="spacingAndGlyphs" >***<tspan font-style="italic">P</tspan> &lt;0.0001</text>
<rect x="247.80" y="439.75" width="7.10" height="24.35" fill="#9f9fa3" stroke="#111" stroke-width="1.05" />
<circle cx="249.05" cy="439.30" r="1.45" fill="#111"/>
<circle cx="251.35" cy="438.90" r="1.45" fill="#111"/>
<circle cx="253.65" cy="439.30" r="1.45" fill="#111"/>
<rect x="260.10" y="440.00" width="7.10" height="24.10" fill="#eda355" stroke="#111" stroke-width="1.05" />
<line x1="263.65" y1="438.31" x2="263.65" y2="440.79" stroke="#111" stroke-width="0.9" />
<line x1="261.65" y1="438.31" x2="265.65" y2="438.31" stroke="#111" stroke-width="0.9" />
<line x1="261.65" y1="440.79" x2="265.65" y2="440.79" stroke="#111" stroke-width="0.9" />
<circle cx="263.65" cy="438.31" r="1.45" fill="#111"/>
<circle cx="264.45" cy="440.29" r="1.45" fill="#111"/>
<circle cx="263.05" cy="439.55" r="1.45" fill="#111"/>
<rect x="272.50" y="441.98" width="7.10" height="22.12" fill="#9db2da" stroke="#111" stroke-width="1.05" />
<circle cx="273.75" cy="441.53" r="1.45" fill="#111"/>
<circle cx="276.05" cy="441.13" r="1.45" fill="#111"/>
<circle cx="278.35" cy="441.53" r="1.45" fill="#111"/>
<rect x="284.80" y="440.74" width="7.10" height="23.36" fill="#f3c6ba" stroke="#111" stroke-width="1.05" />
<circle cx="286.05" cy="440.29" r="1.45" fill="#111"/>
<circle cx="288.35" cy="439.89" r="1.45" fill="#111"/>
<circle cx="290.65" cy="440.29" r="1.45" fill="#111"/>
<line x1="269.10" y1="464.10" x2="269.10" y2="467.30" stroke="#111" stroke-width="0.9" />
<text x="271.60" y="475.30" font-size="8.4" text-anchor="middle" font-weight="bold" fill="#111" stroke="#111" stroke-width="0.32" >M0</text>
<rect x="305.60" y="438.51" width="7.10" height="25.59" fill="#9f9fa3" stroke="#111" stroke-width="1.05" />
<line x1="309.15" y1="435.58" x2="309.15" y2="440.54" stroke="#111" stroke-width="0.9" />
<line x1="307.15" y1="435.58" x2="311.15" y2="435.58" stroke="#111" stroke-width="0.9" />
<line x1="307.15" y1="440.54" x2="311.15" y2="440.54" stroke="#111" stroke-width="0.9" />
<circle cx="309.15" cy="435.58" r="1.45" fill="#111"/>
<circle cx="309.95" cy="439.55" r="1.45" fill="#111"/>
<circle cx="308.55" cy="438.06" r="1.45" fill="#111"/>
<rect x="317.70" y="449.17" width="7.10" height="14.93" fill="#eda355" stroke="#111" stroke-width="1.05" />
<line x1="321.25" y1="446.86" x2="321.25" y2="450.58" stroke="#111" stroke-width="0.9" />
<line x1="319.25" y1="446.86" x2="323.25" y2="446.86" stroke="#111" stroke-width="0.9" />
<line x1="319.25" y1="450.58" x2="323.25" y2="450.58" stroke="#111" stroke-width="0.9" />
<circle cx="321.25" cy="446.86" r="1.45" fill="#111"/>
<circle cx="322.05" cy="449.84" r="1.45" fill="#111"/>
<circle cx="320.65" cy="448.72" r="1.45" fill="#111"/>
<rect x="329.80" y="449.67" width="7.10" height="14.43" fill="#9db2da" stroke="#111" stroke-width="1.05" />
<line x1="333.35" y1="447.73" x2="333.35" y2="450.71" stroke="#111" stroke-width="0.9" />
<line x1="331.35" y1="447.73" x2="335.35" y2="447.73" stroke="#111" stroke-width="0.9" />
<line x1="331.35" y1="450.71" x2="335.35" y2="450.71" stroke="#111" stroke-width="0.9" />
<circle cx="333.35" cy="447.73" r="1.45" fill="#111"/>
<circle cx="334.15" cy="450.11" r="1.45" fill="#111"/>
<circle cx="332.75" cy="449.22" r="1.45" fill="#111"/>
<rect x="342.00" y="438.01" width="7.10" height="26.09" fill="#f3c6ba" stroke="#111" stroke-width="1.05" />
<line x1="345.55" y1="436.32" x2="345.55" y2="438.80" stroke="#111" stroke-width="0.9" />
<line x1="343.55" y1="436.32" x2="347.55" y2="436.32" stroke="#111" stroke-width="0.9" />
<line x1="343.55" y1="438.80" x2="347.55" y2="438.80" stroke="#111" stroke-width="0.9" />
<circle cx="345.55" cy="436.32" r="1.45" fill="#111"/>
<circle cx="346.35" cy="438.31" r="1.45" fill="#111"/>
<circle cx="344.95" cy="437.56" r="1.45" fill="#111"/>
<line x1="326.80" y1="464.10" x2="326.80" y2="467.30" stroke="#111" stroke-width="0.9" />
<text x="329.10" y="475.30" font-size="8.4" text-anchor="middle" font-weight="bold" fill="#111" stroke="#111" stroke-width="0.32" >M1</text>
<rect x="362.80" y="408.13" width="7.10" height="55.97" fill="#9f9fa3" stroke="#111" stroke-width="1.05" />
<line x1="366.35" y1="400.24" x2="366.35" y2="415.12" stroke="#111" stroke-width="0.9" />
<line x1="364.35" y1="400.24" x2="368.35" y2="400.24" stroke="#111" stroke-width="0.9" />
<line x1="364.35" y1="415.12" x2="368.35" y2="415.12" stroke="#111" stroke-width="0.9" />
<circle cx="366.35" cy="400.24" r="1.45" fill="#111"/>
<circle cx="367.15" cy="412.14" r="1.45" fill="#111"/>
<circle cx="365.75" cy="407.68" r="1.45" fill="#111"/>
<rect x="375.00" y="447.93" width="7.10" height="16.17" fill="#eda355" stroke="#111" stroke-width="1.05" />
<circle cx="376.25" cy="447.48" r="1.45" fill="#111"/>
<circle cx="378.55" cy="447.08" r="1.45" fill="#111"/>
<circle cx="380.85" cy="447.48" r="1.45" fill="#111"/>
<rect x="387.00" y="447.69" width="7.10" height="16.41" fill="#9db2da" stroke="#111" stroke-width="1.05" />
<line x1="390.55" y1="443.52" x2="390.55" y2="450.96" stroke="#111" stroke-width="0.9" />
<line x1="388.55" y1="443.52" x2="392.55" y2="443.52" stroke="#111" stroke-width="0.9" />
<line x1="388.55" y1="450.96" x2="392.55" y2="450.96" stroke="#111" stroke-width="0.9" />
<circle cx="390.55" cy="443.52" r="1.45" fill="#111"/>
<circle cx="391.35" cy="449.47" r="1.45" fill="#111"/>
<circle cx="389.95" cy="447.24" r="1.45" fill="#111"/>
<rect x="399.20" y="426.11" width="7.10" height="37.99" fill="#f3c6ba" stroke="#111" stroke-width="1.05" />
<line x1="402.75" y1="420.70" x2="402.75" y2="430.62" stroke="#111" stroke-width="0.9" />
<line x1="400.75" y1="420.70" x2="404.75" y2="420.70" stroke="#111" stroke-width="0.9" />
<line x1="400.75" y1="430.62" x2="404.75" y2="430.62" stroke="#111" stroke-width="0.9" />
<circle cx="402.75" cy="420.70" r="1.45" fill="#111"/>
<circle cx="403.55" cy="428.64" r="1.45" fill="#111"/>
<circle cx="402.15" cy="425.66" r="1.45" fill="#111"/>
<line x1="384.00" y1="464.10" x2="384.00" y2="467.30" stroke="#111" stroke-width="0.9" />
<text x="386.50" y="475.30" font-size="8.4" text-anchor="middle" font-weight="bold" fill="#111" stroke="#111" stroke-width="0.32" >M2</text>
<line x1="243.60" y1="389.25" x2="243.60" y2="464.55" stroke="#111" stroke-width="0.9" />
<line x1="240.20" y1="464.10" x2="412.30" y2="464.10" stroke="#111" stroke-width="0.9" />
<line x1="240.20" y1="464.10" x2="243.60" y2="464.10" stroke="#111" stroke-width="0.9" />
<text x="238.00" y="467.00" font-size="8.0" text-anchor="end" font-weight="bold" fill="#111" stroke="#111" stroke-width="0.32" >0</text>
<line x1="240.20" y1="439.30" x2="243.60" y2="439.30" stroke="#111" stroke-width="0.9" />
<text x="238.00" y="442.20" font-size="8.0" text-anchor="end" font-weight="bold" fill="#111" stroke="#111" stroke-width="0.32" >2</text>
<line x1="240.20" y1="414.50" x2="243.60" y2="414.50" stroke="#111" stroke-width="0.9" />
<text x="238.00" y="417.40" font-size="8.0" text-anchor="end" font-weight="bold" fill="#111" stroke="#111" stroke-width="0.32" >4</text>
<line x1="240.20" y1="389.70" x2="243.60" y2="389.70" stroke="#111" stroke-width="0.9" />
<text x="238.00" y="392.60" font-size="8.0" text-anchor="end" font-weight="bold" fill="#111" stroke="#111" stroke-width="0.32" >6</text>
<text x="229.70" y="423.10" font-size="8.4" text-anchor="middle" font-weight="bold" fill="#111" stroke="#111" stroke-width="0.32" transform="rotate(-90 229.70 423.10)" textLength="99.60" lengthAdjust="spacingAndGlyphs" >CD206<tspan font-size="60%" dy="-2.6">+</tspan><tspan dy="2.6"> in F4/80</tspan><tspan font-size="60%" dy="-2.6">+</tspan><tspan dy="2.6"> cells (%)</tspan></text>
<line x1="250.60" y1="431.80" x2="276.60" y2="431.80" stroke="#111" stroke-width="1.3" />
<text x="251.40" y="429.20" font-size="8.4" text-anchor="start" font-weight="bold" fill="#111" stroke="#111" stroke-width="0.32" textLength="39.00" lengthAdjust="spacingAndGlyphs" ><tspan font-style="italic">P</tspan> = 0.6781</text>
<line x1="308.30" y1="429.20" x2="334.30" y2="429.20" stroke="#111" stroke-width="1.3" />
<text x="305.70" y="425.30" font-size="8.4" text-anchor="start" font-weight="bold" fill="#111" stroke="#111" stroke-width="0.32" textLength="45.00" lengthAdjust="spacingAndGlyphs" >***<tspan font-style="italic">P</tspan>&lt; 0.0001</text>
<line x1="365.00" y1="397.50" x2="391.00" y2="397.50" stroke="#111" stroke-width="1.3" />
<text x="365.00" y="393.60" font-size="8.4" text-anchor="start" font-weight="bold" fill="#111" stroke="#111" stroke-width="0.32" textLength="45.50" lengthAdjust="spacingAndGlyphs" >***<tspan font-style="italic">P</tspan>&lt; 0.0001</text>
<rect x="81.50" y="489.60" width="8.20" height="4.00" fill="#9f9fa3" stroke="#111" stroke-width="0.8" />
<text x="94.90" y="494.60" font-size="8.4" text-anchor="start" font-weight="bold" fill="#111" stroke="#111" stroke-width="0.32" textLength="16.20" lengthAdjust="spacingAndGlyphs" >PBS</text>
<rect x="131.30" y="489.60" width="8.20" height="4.00" fill="#eda355" stroke="#111" stroke-width="0.8" />
<text x="144.90" y="494.60" font-size="8.4" text-anchor="start" font-weight="bold" fill="#111" stroke="#111" stroke-width="0.32" textLength="21.60" lengthAdjust="spacingAndGlyphs" >OMVs</text>
<rect x="183.30" y="489.60" width="8.20" height="4.00" fill="#9db2da" stroke="#111" stroke-width="0.8" />
<text x="195.10" y="494.60" font-size="8.4" text-anchor="start" font-weight="bold" fill="#111" stroke="#111" stroke-width="0.32" textLength="52.00" lengthAdjust="spacingAndGlyphs" >OMV-CD47nb</text>
<rect x="264.80" y="489.60" width="8.20" height="4.00" fill="#f3c6ba" stroke="#111" stroke-width="0.8" />
<text x="278.20" y="494.60" font-size="8.4" text-anchor="start" font-weight="bold" fill="#111" stroke="#111" stroke-width="0.32" textLength="36.40" lengthAdjust="spacingAndGlyphs" >Anti-CD47</text>
<defs>
<filter id="b3" x="-5%" y="-5%" width="110%" height="110%"><feGaussianBlur stdDeviation="0.35"/></filter>
<filter id="b6" x="-5%" y="-5%" width="110%" height="110%"><feGaussianBlur stdDeviation="0.6"/></filter>
<filter id="b8" x="-5%" y="-5%" width="110%" height="110%"><feGaussianBlur stdDeviation="0.8"/></filter>
<filter id="b12" x="-10%" y="-10%" width="120%" height="120%"><feGaussianBlur stdDeviation="1.2"/></filter>
<filter id="noise" x="0" y="0" width="100%" height="100%"><feTurbulence type="fractalNoise" baseFrequency="0.42" numOctaves="2" seed="4"/><feColorMatrix type="matrix" values="2.2 0 0 0 -0.4  2.2 0 0 0 -0.4  2.2 0 0 0 -0.4  0 0 0 0 1"/></filter>
<filter id="noise2" x="0" y="0" width="100%" height="100%"><feTurbulence type="fractalNoise" baseFrequency="0.42" numOctaves="2" seed="9"/><feColorMatrix type="matrix" values="2.2 0 0 0 -0.4  2.2 0 0 0 -0.4  2.2 0 0 0 -0.4  0 0 0 0 1"/></filter>
</defs>
<rect x="444.80" y="2.40" width="58.30" height="16.10" fill="#dccbc0" />
<text x="473.90" y="13.60" font-size="8.4" text-anchor="middle" font-weight="bold" fill="#111" stroke="#111" stroke-width="0.3">PBS</text>
<rect x="588.30" y="2.40" width="58.50" height="16.80" fill="#a5b5d7" />
<text x="617.50" y="13.80" font-size="8.4" text-anchor="middle" font-weight="bold" fill="#111" stroke="#111" stroke-width="0.3">OMVs</text>
<rect x="443.30" y="107.80" width="58.20" height="16.00" fill="#f1b29e" />
<text x="472.40" y="118.90" font-size="8.4" text-anchor="middle" font-weight="bold" fill="#111" stroke="#111" stroke-width="0.3" textLength="49.00" lengthAdjust="spacingAndGlyphs">OMV-CD47nb</text>
<rect x="373.00" y="11.40" width="2.20" height="1.30" fill="#111" />
<rect x="373.00" y="14.30" width="2.20" height="1.30" fill="#111" />
<rect x="373.00" y="17.20" width="2.20" height="1.30" fill="#111" />
<rect x="386.00" y="21.90" width="79.20" height="78.10" fill="#120a09" />
<g filter="url(#b3)">
<path d="M421.0 65.5a0.9 0.9 0 1 0 1.7 0a0.9 0.9 0 1 0 -1.7 0M422.2 61.5a0.7 0.7 0 1 0 1.5 0a0.7 0.7 0 1 0 -1.5 0M400.4 61.9a0.8 0.8 0 1 0 1.5 0a0.8 0.8 0 1 0 -1.5 0M447.7 30.0a0.6 0.6 0 1 0 1.2 0a0.6 0.6 0 1 0 -1.2 0M393.1 84.6a0.8 0.8 0 1 0 1.6 0a0.8 0.8 0 1 0 -1.6 0M389.3 97.7a0.9 0.9 0 1 0 1.8 0a0.9 0.9 0 1 0 -1.8 0M437.0 69.8a0.6 0.6 0 1 0 1.1 0a0.6 0.6 0 1 0 -1.1 0M387.5 63.1a0.5 0.5 0 1 0 1.0 0a0.5 0.5 0 1 0 -1.0 0M401.1 41.3a0.5 0.5 0 1 0 1.0 0a0.5 0.5 0 1 0 -1.0 0M422.0 56.4a0.8 0.8 0 1 0 1.7 0a0.8 0.8 0 1 0 -1.7 0M426.4 71.7a0.7 0.7 0 1 0 1.4 0a0.7 0.7 0 1 0 -1.4 0M437.6 57.7a0.6 0.6 0 1 0 1.2 0a0.6 0.6 0 1 0 -1.2 0M463.3 98.8a0.8 0.8 0 1 0 1.7 0a0.8 0.8 0 1 0 -1.7 0M441.1 46.9a0.6 0.6 0 1 0 1.2 0a0.6 0.6 0 1 0 -1.2 0M408.5 28.2a0.8 0.8 0 1 0 1.6 0a0.8 0.8 0 1 0 -1.6 0M417.2 87.4a0.7 0.7 0 1 0 1.3 0a0.7 0.7 0 1 0 -1.3 0M460.6 87.4a0.5 0.5 0 1 0 1.0 0a0.5 0.5 0 1 0 -1.0 0M402.4 92.3a0.7 0.7 0 1 0 1.4 0a0.7 0.7 0 1 0 -1.4 0M462.3 53.1a0.5 0.5 0 1 0 1.1 0a0.5 0.5 0 1 0 -1.1 0M435.0 82.2a0.6 0.6 0 1 0 1.2 0a0.6 0.6 0 1 0 -1.2 0M392.8 48.2a0.9 0.9 0 1 0 1.8 0a0.9 0.9 0 1 0 -1.8 0M445.0 31.8a0.6 0.6 0 1 0 1.2 0a0.6 0.6 0 1 0 -1.2 0M393.9 27.4a0.8 0.8 0 1 0 1.6 0a0.8 0.8 0 1 0 -1.6 0M400.0 65.5a0.7 0.7 0 1 0 1.4 0a0.7 0.7 0 1 0 -1.4 0M401.1 78.6a0.6 0.6 0 1 0 1.1 0a0.6 0.6 0 1 0 -1.1 0M436.1 31.7a0.7 0.7 0 1 0 1.3 0a0.7 0.7 0 1 0 -1.3 0M402.5 43.4a0.9 0.9 0 1 0 1.8 0a0.9 0.9 0 1 0 -1.8 0M448.2 46.0a0.9 0.9 0 1 0 1.7 0a0.9 0.9 0 1 0 -1.7 0M402.4 52.9a0.8 0.8 0 1 0 1.7 0a0.8 0.8 0 1 0 -1.7 0M435.7 30.5a0.9 0.9 0 1 0 1.8 0a0.9 0.9 0 1 0 -1.8 0M402.6 42.5a0.8 0.8 0 1 0 1.6 0a0.8 0.8 0 1 0 -1.6 0M411.8 45.4a0.5 0.5 0 1 0 1.1 0a0.5 0.5 0 1 0 -1.1 0M393.3 67.3a0.6 0.6 0 1 0 1.2 0a0.6 0.6 0 1 0 -1.2 0M432.8 51.2a0.7 0.7 0 1 0 1.4 0a0.7 0.7 0 1 0 -1.4 0M460.4 59.7a0.7 0.7 0 1 0 1.5 0a0.7 0.7 0 1 0 -1.5 0M453.4 36.7a0.6 0.6 0 1 0 1.1 0a0.6 0.6 0 1 0 -1.1 0M456.6 85.2a0.6 0.6 0 1 0 1.2 0a0.6 0.6 0 1 0 -1.2 0M400.7 79.2a0.9 0.9 0 1 0 1.8 0a0.9 0.9 0 1 0 -1.8 0M401.3 95.3a0.9 0.9 0 1 0 1.7 0a0.9 0.9 0 1 0 -1.7 0M433.1 55.0a0.5 0.5 0 1 0 1.1 0a0.5 0.5 0 1 0 -1.1 0M389.3 96.3a0.6 0.6 0 1 0 1.2 0a0.6 0.6 0 1 0 -1.2 0M440.6 42.4a0.8 0.8 0 1 0 1.7 0a0.8 0.8 0 1 0 -1.7 0M432.5 45.2a0.6 0.6 0 1 0 1.1 0a0.6 0.6 0 1 0 -1.1 0M442.1 28.0a0.6 0.6 0 1 0 1.2 0a0.6 0.6 0 1 0 -1.2 0M429.4 87.8a0.7 0.7 0 1 0 1.5 0a0.7 0.7 0 1 0 -1.5 0M408.0 92.8a0.6 0.6 0 1 0 1.2 0a0.6 0.6 0 1 0 -1.2 0M387.5 43.3a0.7 0.7 0 1 0 1.4 0a0.7 0.7 0 1 0 -1.4 0M390.9 36.2a0.6 0.6 0 1 0 1.3 0a0.6 0.6 0 1 0 -1.3 0M430.5 32.8a0.6 0.6 0 1 0 1.3 0a0.6 0.6 0 1 0 -1.3 0M455.1 97.6a0.8 0.8 0 1 0 1.5 0a0.8 0.8 0 1 0 -1.5 0M439.8 67.4a0.6 0.6 0 1 0 1.1 0a0.6 0.6 0 1 0 -1.1 0M388.8 24.2a0.9 0.9 0 1 0 1.7 0a0.9 0.9 0 1 0 -1.7 0M440.6 96.3a0.5 0.5 0 1 0 1.0 0a0.5 0.5 0 1 0 -1.0 0M435.3 59.6a0.8 0.8 0 1 0 1.6 0a0.8 0.8 0 1 0 -1.6 0M411.1 99.1a0.5 0.5 0 1 0 1.1 0a0.5 0.5 0 1 0 -1.1 0M428.3 79.0a0.9 0.9 0 1 0 1.7 0a0.9 0.9 0 1 0 -1.7 0M443.1 76.5a0.8 0.8 0 1 0 1.6 0a0.8 0.8 0 1 0 -1.6 0M456.9 49.6a0.8 0.8 0 1 0 1.5 0a0.8 0.8 0 1 0 -1.5 0M456.0 89.3a0.7 0.7 0 1 0 1.3 0a0.7 0.7 0 1 0 -1.3 0M447.4 88.7a0.7 0.7 0 1 0 1.5 0a0.7 0.7 0 1 0 -1.5 0M434.5 52.0a0.7 0.7 0 1 0 1.5 0a0.7 0.7 0 1 0 -1.5 0M433.3 28.9a0.8 0.8 0 1 0 1.5 0a0.8 0.8 0 1 0 -1.5 0M463.0 89.9a0.8 0.8 0 1 0 1.6 0a0.8 0.8 0 1 0 -1.6 0M416.2 78.9a0.7 0.7 0 1 0 1.5 0a0.7 0.7 0 1 0 -1.5 0M420.5 86.8a0.5 0.5 0 1 0 1.1 0a0.5 0.5 0 1 0 -1.1 0M444.2 25.1a0.7 0.7 0 1 0 1.5 0a0.7 0.7 0 1 0 -1.5 0M423.3 40.4a0.8 0.8 0 1 0 1.6 0a0.8 0.8 0 1 0 -1.6 0M424.5 69.7a0.9 0.9 0 1 0 1.7 0a0.9 0.9 0 1 0 -1.7 0M406.1 23.7a0.6 0.6 0 1 0 1.2 0a0.6 0.6 0 1 0 -1.2 0M438.8 38.3a0.6 0.6 0 1 0 1.1 0a0.6 0.6 0 1 0 -1.1 0M456.3 73.2a0.7 0.7 0 1 0 1.4 0a0.7 0.7 0 1 0 -1.4 0M455.2 47.7a0.8 0.8 0 1 0 1.5 0a0.8 0.8 0 1 0 -1.5 0M401.4 55.7a0.8 0.8 0 1 0 1.6 0a0.8 0.8 0 1 0 -1.6 0M457.0 90.0a0.7 0.7 0 1 0 1.3 0a0.7 0.7 0 1 0 -1.3 0M431.5 46.9a0.6 0.6 0 1 0 1.1 0a0.6 0.6 0 1 0 -1.1 0M424.5 86.7a0.8 0.8 0 1 0 1.7 0a0.8 0.8 0 1 0 -1.7 0M441.3 95.3a0.6 0.6 0 1 0 1.2 0a0.6 0.6 0 1 0 -1.2 0M399.4 57.2a0.6 0.6 0 1 0 1.2 0a0.6 0.6 0 1 0 -1.2 0M402.7 54.4a0.8 0.8 0 1 0 1.5 0a0.8 0.8 0 1 0 -1.5 0M424.3 46.9a0.8 0.8 0 1 0 1.7 0a0.8 0.8 0 1 0 -1.7 0M462.4 57.3a0.5 0.5 0 1 0 1.1 0a0.5 0.5 0 1 0 -1.1 0M388.8 89.4a0.5 0.5 0 1 0 1.0 0a0.5 0.5 0 1 0 -1.0 0M441.1 66.3a0.6 0.6 0 1 0 1.2 0a0.6 0.6 0 1 0 -1.2 0M447.6 24.3a0.6 0.6 0 1 0 1.1 0a0.6 0.6 0 1 0 -1.1 0M421.3 24.7a0.8 0.8 0 1 0 1.7 0a0.8 0.8 0 1 0 -1.7 0M404.8 33.5a0.5 0.5 0 1 0 1.0 0a0.5 0.5 0 1 0 -1.0 0M434.8 56.9a0.8 0.8 0 1 0 1.5 0a0.8 0.8 0 1 0 -1.5 0M436.7 84.4a0.9 0.9 0 1 0 1.8 0a0.9 0.9 0 1 0 -1.8 0M439.2 38.0a0.7 0.7 0 1 0 1.4 0a0.7 0.7 0 1 0 -1.4 0M400.0 23.6a0.7 0.7 0 1 0 1.4 0a0.7 0.7 0 1 0 -1.4 0M441.6 36.5a0.6 0.6 0 1 0 1.2 0a0.6 0.6 0 1 0 -1.2 0M413.0 76.0a0.7 0.7 0 1 0 1.4 0a0.7 0.7 0 1 0 -1.4 0M433.8 80.5a0.7 0.7 0 1 0 1.3 0a0.7 0.7 0 1 0 -1.3 0M447.7 91.9a0.5 0.5 0 1 0 1.1 0a0.5 0.5 0 1 0 -1.1 0M458.5 77.9a0.6 0.6 0 1 0 1.1 0a0.6 0.6 0 1 0 -1.1 0M421.1 70.5a0.9 0.9 0 1 0 1.7 0a0.9 0.9 0 1 0 -1.7 0M415.2 66.2a0.9 0.9 0 1 0 1.7 0a0.9 0.9 0 1 0 -1.7 0M447.9 94.8a0.7 0.7 0 1 0 1.4 0a0.7 0.7 0 1 0 -1.4 0M436.5 38.4a0.8 0.8 0 1 0 1.6 0a0.8 0.8 0 1 0 -1.6 0M449.5 71.8a0.8 0.8 0 1 0 1.6 0a0.8 0.8 0 1 0 -1.6 0M402.5 91.5a0.9 0.9 0 1 0 1.8 0a0.9 0.9 0 1 0 -1.8 0M461.7 63.8a0.8 0.8 0 1 0 1.6 0a0.8 0.8 0 1 0 -1.6 0M410.9 92.2a0.8 0.8 0 1 0 1.7 0a0.8 0.8 0 1 0 -1.7 0M413.2 29.1a0.7 0.7 0 1 0 1.4 0a0.7 0.7 0 1 0 -1.4 0M428.8 81.4a0.7 0.7 0 1 0 1.4 0a0.7 0.7 0 1 0 -1.4 0M388.6 84.5a0.5 0.5 0 1 0 1.1 0a0.5 0.5 0 1 0 -1.1 0M448.2 36.0a0.6 0.6 0 1 0 1.3 0a0.6 0.6 0 1 0 -1.3 0M447.3 33.5a0.6 0.6 0 1 0 1.1 0a0.6 0.6 0 1 0 -1.1 0M426.0 78.0a0.8 0.8 0 1 0 1.7 0a0.8 0.8 0 1 0 -1.7 0M439.6 95.0a0.7 0.7 0 1 0 1.4 0a0.7 0.7 0 1 0 -1.4 0M459.8 29.4a0.6 0.6 0 1 0 1.2 0a0.6 0.6 0 1 0 -1.2 0M426.9 44.9a0.8 0.8 0 1 0 1.6 0a0.8 0.8 0 1 0 -1.6 0M435.5 62.7a0.8 0.8 0 1 0 1.7 0a0.8 0.8 0 1 0 -1.7 0M429.6 46.6a0.7 0.7 0 1 0 1.3 0a0.7 0.7 0 1 0 -1.3 0M451.7 91.5a0.6 0.6 0 1 0 1.2 0a0.6 0.6 0 1 0 -1.2 0M452.0 96.7a0.7 0.7 0 1 0 1.4 0a0.7 0.7 0 1 0 -1.4 0M430.5 38.1a0.7 0.7 0 1 0 1.4 0a0.7 0.7 0 1 0 -1.4 0M425.3 69.0a0.5 0.5 0 1 0 1.0 0a0.5 0.5 0 1 0 -1.0 0M461.3 62.2a0.7 0.7 0 1 0 1.3 0a0.7 0.7 0 1 0 -1.3 0M448.2 65.7a0.7 0.7 0 1 0 1.4 0a0.7 0.7 0 1 0 -1.4 0M439.7 27.8a0.7 0.7 0 1 0 1.4 0a0.7 0.7 0 1 0 -1.4 0M418.1 95.8a0.9 0.9 0 1 0 1.7 0a0.9 0.9 0 1 0 -1.7 0M407.2 58.9a0.6 0.6 0 1 0 1.1 0a0.6 0.6 0 1 0 -1.1 0M419.6 85.0a0.9 0.9 0 1 0 1.7 0a0.9 0.9 0 1 0 -1.7 0M423.2 47.0a0.6 0.6 0 1 0 1.2 0a0.6 0.6 0 1 0 -1.2 0M434.2 93.4a0.6 0.6 0 1 0 1.1 0a0.6 0.6 0 1 0 -1.1 0M446.6 24.5a0.6 0.6 0 1 0 1.2 0a0.6 0.6 0 1 0 -1.2 0M403.9 75.2a0.6 0.6 0 1 0 1.3 0a0.6 0.6 0 1 0 -1.3 0M413.9 70.1a0.5 0.5 0 1 0 1.1 0a0.5 0.5 0 1 0 -1.1 0M442.8 32.2a0.7 0.7 0 1 0 1.4 0a0.7 0.7 0 1 0 -1.4 0M405.6 37.9a0.7 0.7 0 1 0 1.4 0a0.7 0.7 0 1 0 -1.4 0M420.0 51.5a0.7 0.7 0 1 0 1.3 0a0.7 0.7 0 1 0 -1.3 0M427.3 35.0a0.6 0.6 0 1 0 1.2 0a0.6 0.6 0 1 0 -1.2 0M435.1 71.5a0.7 0.7 0 1 0 1.4 0a0.7 0.7 0 1 0 -1.4 0M451.9 69.5a0.8 0.8 0 1 0 1.7 0a0.8 0.8 0 1 0 -1.7 0M404.1 79.3a0.8 0.8 0 1 0 1.6 0a0.8 0.8 0 1 0 -1.6 0M456.1 46.9a0.6 0.6 0 1 0 1.3 0a0.6 0.6 0 1 0 -1.3 0M457.4 39.4a0.9 0.9 0 1 0 1.8 0a0.9 0.9 0 1 0 -1.8 0M455.0 33.0a0.6 0.6 0 1 0 1.2 0a0.6 0.6 0 1 0 -1.2 0M442.6 42.6a0.5 0.5 0 1 0 1.1 0a0.5 0.5 0 1 0 -1.1 0M450.5 55.0a0.8 0.8 0 1 0 1.6 0a0.8 0.8 0 1 0 -1.6 0M395.9 53.5a0.8 0.8 0 1 0 1.5 0a0.8 0.8 0 1 0 -1.5 0M387.5 38.1a0.8 0.8 0 1 0 1.5 0a0.8 0.8 0 1 0 -1.5 0M456.9 96.7a0.5 0.5 0 1 0 1.1 0a0.5 0.5 0 1 0 -1.1 0M425.3 80.6a0.7 0.7 0 1 0 1.4 0a0.7 0.7 0 1 0 -1.4 0M439.4 37.2a0.5 0.5 0 1 0 1.1 0a0.5 0.5 0 1 0 -1.1 0M394.4 25.7a0.7 0.7 0 1 0 1.4 0a0.7 0.7 0 1 0 -1.4 0M426.2 66.2a0.6 0.6 0 1 0 1.1 0a0.6 0.6 0 1 0 -1.1 0M400.3 38.4a0.8 0.8 0 1 0 1.7 0a0.8 0.8 0 1 0 -1.7 0M463.0 93.5a0.5 0.5 0 1 0 1.1 0a0.5 0.5 0 1 0 -1.1 0M391.0 95.4a0.7 0.7 0 1 0 1.4 0a0.7 0.7 0 1 0 -1.4 0M445.4 47.7a0.7 0.7 0 1 0 1.4 0a0.7 0.7 0 1 0 -1.4 0M426.0 55.6a0.7 0.7 0 1 0 1.5 0a0.7 0.7 0 1 0 -1.5 0M387.1 76.3a0.8 0.8 0 1 0 1.7 0a0.8 0.8 0 1 0 -1.7 0M400.1 57.4a0.8 0.8 0 1 0 1.6 0a0.8 0.8 0 1 0 -1.6 0M417.7 37.7a0.6 0.6 0 1 0 1.1 0a0.6 0.6 0 1 0 -1.1 0M425.7 24.0a0.9 0.9 0 1 0 1.7 0a0.9 0.9 0 1 0 -1.7 0M448.1 76.6a0.8 0.8 0 1 0 1.7 0a0.8 0.8 0 1 0 -1.7 0M434.9 53.7a0.7 0.7 0 1 0 1.5 0a0.7 0.7 0 1 0 -1.5 0M425.1 97.8a0.8 0.8 0 1 0 1.6 0a0.8 0.8 0 1 0 -1.6 0M406.1 92.3a0.8 0.8 0 1 0 1.6 0a0.8 0.8 0 1 0 -1.6 0M446.5 85.0a0.7 0.7 0 1 0 1.3 0a0.7 0.7 0 1 0 -1.3 0M455.5 89.9a0.8 0.8 0 1 0 1.6 0a0.8 0.8 0 1 0 -1.6 0M445.6 81.2a0.7 0.7 0 1 0 1.3 0a0.7 0.7 0 1 0 -1.3 0M442.2 28.2a0.6 0.6 0 1 0 1.3 0a0.6 0.6 0 1 0 -1.3 0M422.5 23.6a0.6 0.6 0 1 0 1.3 0a0.6 0.6 0 1 0 -1.3 0M435.7 70.4a0.6 0.6 0 1 0 1.2 0a0.6 0.6 0 1 0 -1.2 0M459.4 73.6a0.6 0.6 0 1 0 1.3 0a0.6 0.6 0 1 0 -1.3 0M437.3 66.3a0.7 0.7 0 1 0 1.4 0a0.7 0.7 0 1 0 -1.4 0M416.3 99.1a0.8 0.8 0 1 0 1.5 0a0.8 0.8 0 1 0 -1.5 0M440.3 80.9a0.9 0.9 0 1 0 1.8 0a0.9 0.9 0 1 0 -1.8 0M387.9 69.8a0.8 0.8 0 1 0 1.6 0a0.8 0.8 0 1 0 -1.6 0M406.2 53.4a0.5 0.5 0 1 0 1.0 0a0.5 0.5 0 1 0 -1.0 0M401.5 51.5a0.5 0.5 0 1 0 1.1 0a0.5 0.5 0 1 0 -1.1 0M405.6 91.9a0.7 0.7 0 1 0 1.4 0a0.7 0.7 0 1 0 -1.4 0M425.5 96.6a0.7 0.7 0 1 0 1.5 0a0.7 0.7 0 1 0 -1.5 0M463.1 71.5a0.8 0.8 0 1 0 1.6 0a0.8 0.8 0 1 0 -1.6 0M392.0 68.4a0.8 0.8 0 1 0 1.6 0a0.8 0.8 0 1 0 -1.6 0M389.8 93.8a0.6 0.6 0 1 0 1.1 0a0.6 0.6 0 1 0 -1.1 0M422.7 35.7a0.7 0.7 0 1 0 1.4 0a0.7 0.7 0 1 0 -1.4 0M433.3 27.3a0.9 0.9 0 1 0 1.8 0a0.9 0.9 0 1 0 -1.8 0M418.7 63.0a0.7 0.7 0 1 0 1.5 0a0.7 0.7 0 1 0 -1.5 0M414.4 44.6a0.8 0.8 0 1 0 1.5 0a0.8 0.8 0 1 0 -1.5 0M429.5 44.4a0.8 0.8 0 1 0 1.6 0a0.8 0.8 0 1 0 -1.6 0M409.2 23.9a0.6 0.6 0 1 0 1.2 0a0.6 0.6 0 1 0 -1.2 0M389.4 34.7a0.8 0.8 0 1 0 1.6 0a0.8 0.8 0 1 0 -1.6 0M416.3 91.3a0.8 0.8 0 1 0 1.6 0a0.8 0.8 0 1 0 -1.6 0M389.9 98.2a0.9 0.9 0 1 0 1.8 0a0.9 0.9 0 1 0 -1.8 0M391.9 91.9a0.7 0.7 0 1 0 1.3 0a0.7 0.7 0 1 0 -1.3 0M423.3 97.1a0.6 0.6 0 1 0 1.2 0a0.6 0.6 0 1 0 -1.2 0M426.6 94.3a0.8 0.8 0 1 0 1.6 0a0.8 0.8 0 1 0 -1.6 0M422.3 97.5a0.8 0.8 0 1 0 1.7 0a0.8 0.8 0 1 0 -1.7 0M432.9 31.6a0.7 0.7 0 1 0 1.5 0a0.7 0.7 0 1 0 -1.5 0M421.6 38.3a0.5 0.5 0 1 0 1.0 0a0.5 0.5 0 1 0 -1.0 0M427.1 32.3a0.7 0.7 0 1 0 1.4 0a0.7 0.7 0 1 0 -1.4 0M438.0 57.6a0.6 0.6 0 1 0 1.2 0a0.6 0.6 0 1 0 -1.2 0M431.2 54.8a0.8 0.8 0 1 0 1.6 0a0.8 0.8 0 1 0 -1.6 0M427.1 98.9a0.9 0.9 0 1 0 1.8 0a0.9 0.9 0 1 0 -1.8 0M443.2 41.0a0.5 0.5 0 1 0 1.1 0a0.5 0.5 0 1 0 -1.1 0M455.2 82.6a0.7 0.7 0 1 0 1.5 0a0.7 0.7 0 1 0 -1.5 0M413.9 43.5a0.8 0.8 0 1 0 1.5 0a0.8 0.8 0 1 0 -1.5 0M429.9 67.9a0.8 0.8 0 1 0 1.5 0a0.8 0.8 0 1 0 -1.5 0M444.6 37.3a0.6 0.6 0 1 0 1.2 0a0.6 0.6 0 1 0 -1.2 0M461.9 92.7a0.9 0.9 0 1 0 1.7 0a0.9 0.9 0 1 0 -1.7 0M389.3 27.4a0.6 0.6 0 1 0 1.2 0a0.6 0.6 0 1 0 -1.2 0M419.3 70.4a0.5 0.5 0 1 0 1.1 0a0.5 0.5 0 1 0 -1.1 0M428.3 28.3a0.5 0.5 0 1 0 1.1 0a0.5 0.5 0 1 0 -1.1 0M438.5 64.8a0.8 0.8 0 1 0 1.5 0a0.8 0.8 0 1 0 -1.5 0M415.2 59.3a0.6 0.6 0 1 0 1.2 0a0.6 0.6 0 1 0 -1.2 0M412.7 79.6a0.8 0.8 0 1 0 1.7 0a0.8 0.8 0 1 0 -1.7 0M391.8 31.9a0.8 0.8 0 1 0 1.6 0a0.8 0.8 0 1 0 -1.6 0M434.6 81.5a0.6 0.6 0 1 0 1.2 0a0.6 0.6 0 1 0 -1.2 0M418.9 42.5a0.8 0.8 0 1 0 1.6 0a0.8 0.8 0 1 0 -1.6 0M414.6 72.7a0.9 0.9 0 1 0 1.8 0a0.9 0.9 0 1 0 -1.8 0M411.3 64.7a0.8 0.8 0 1 0 1.6 0a0.8 0.8 0 1 0 -1.6 0M457.5 55.4a0.6 0.6 0 1 0 1.3 0a0.6 0.6 0 1 0 -1.3 0M393.9 89.6a0.5 0.5 0 1 0 1.1 0a0.5 0.5 0 1 0 -1.1 0M392.6 65.8a0.7 0.7 0 1 0 1.4 0a0.7 0.7 0 1 0 -1.4 0M439.1 45.6a0.8 0.8 0 1 0 1.6 0a0.8 0.8 0 1 0 -1.6 0M392.0 39.1a0.8 0.8 0 1 0 1.5 0a0.8 0.8 0 1 0 -1.5 0M392.4 46.0a0.8 0.8 0 1 0 1.6 0a0.8 0.8 0 1 0 -1.6 0M440.1 44.4a0.6 0.6 0 1 0 1.1 0a0.6 0.6 0 1 0 -1.1 0M413.9 78.2a0.6 0.6 0 1 0 1.3 0a0.6 0.6 0 1 0 -1.3 0M395.3 76.9a0.7 0.7 0 1 0 1.5 0a0.7 0.7 0 1 0 -1.5 0M457.1 94.5a0.9 0.9 0 1 0 1.7 0a0.9 0.9 0 1 0 -1.7 0M420.2 84.1a0.6 0.6 0 1 0 1.2 0a0.6 0.6 0 1 0 -1.2 0M410.6 53.3a0.9 0.9 0 1 0 1.7 0a0.9 0.9 0 1 0 -1.7 0M455.5 41.7a0.6 0.6 0 1 0 1.3 0a0.6 0.6 0 1 0 -1.3 0M414.5 50.5a0.7 0.7 0 1 0 1.3 0a0.7 0.7 0 1 0 -1.3 0M416.2 37.7a0.7 0.7 0 1 0 1.5 0a0.7 0.7 0 1 0 -1.5 0M447.8 64.0a0.8 0.8 0 1 0 1.7 0a0.8 0.8 0 1 0 -1.7 0M429.7 36.3a0.8 0.8 0 1 0 1.6 0a0.8 0.8 0 1 0 -1.6 0M454.6 44.3a0.5 0.5 0 1 0 1.0 0a0.5 0.5 0 1 0 -1.0 0M426.1 64.3a0.7 0.7 0 1 0 1.5 0a0.7 0.7 0 1 0 -1.5 0M460.9 72.5a0.8 0.8 0 1 0 1.6 0a0.8 0.8 0 1 0 -1.6 0M391.0 64.5a0.8 0.8 0 1 0 1.6 0a0.8 0.8 0 1 0 -1.6 0M392.6 29.0a0.8 0.8 0 1 0 1.6 0a0.8 0.8 0 1 0 -1.6 0M455.7 29.3a0.8 0.8 0 1 0 1.5 0a0.8 0.8 0 1 0 -1.5 0M397.3 79.7a0.8 0.8 0 1 0 1.5 0a0.8 0.8 0 1 0 -1.5 0M405.1 39.6a0.8 0.8 0 1 0 1.6 0a0.8 0.8 0 1 0 -1.6 0M426.6 81.1a0.7 0.7 0 1 0 1.3 0a0.7 0.7 0 1 0 -1.3 0M412.3 96.7a0.8 0.8 0 1 0 1.5 0a0.8 0.8 0 1 0 -1.5 0M424.3 63.8a0.8 0.8 0 1 0 1.6 0a0.8 0.8 0 1 0 -1.6 0M441.0 92.6a0.7 0.7 0 1 0 1.3 0a0.7 0.7 0 1 0 -1.3 0M450.0 73.7a0.8 0.8 0 1 0 1.7 0a0.8 0.8 0 1 0 -1.7 0M448.4 86.4a0.9 0.9 0 1 0 1.7 0a0.9 0.9 0 1 0 -1.7 0M460.3 71.7a0.7 0.7 0 1 0 1.4 0a0.7 0.7 0 1 0 -1.4 0M441.2 84.0a0.7 0.7 0 1 0 1.3 0a0.7 0.7 0 1 0 -1.3 0M418.6 34.0a0.8 0.8 0 1 0 1.6 0a0.8 0.8 0 1 0 -1.6 0M463.0 51.5a0.6 0.6 0 1 0 1.1 0a0.6 0.6 0 1 0 -1.1 0M402.1 55.2a0.6 0.6 0 1 0 1.2 0a0.6 0.6 0 1 0 -1.2 0M461.3 27.3a0.6 0.6 0 1 0 1.2 0a0.6 0.6 0 1 0 -1.2 0M395.0 72.2a0.8 0.8 0 1 0 1.6 0a0.8 0.8 0 1 0 -1.6 0M400.1 27.6a0.7 0.7 0 1 0 1.4 0a0.7 0.7 0 1 0 -1.4 0M431.6 92.2a0.5 0.5 0 1 0 1.0 0a0.5 0.5 0 1 0 -1.0 0M394.7 36.9a0.6 0.6 0 1 0 1.2 0a0.6 0.6 0 1 0 -1.2 0M404.4 77.5a0.7 0.7 0 1 0 1.5 0a0.7 0.7 0 1 0 -1.5 0M403.6 36.9a0.6 0.6 0 1 0 1.2 0a0.6 0.6 0 1 0 -1.2 0M399.6 80.6a0.6 0.6 0 1 0 1.2 0a0.6 0.6 0 1 0 -1.2 0M428.6 85.1a0.7 0.7 0 1 0 1.4 0a0.7 0.7 0 1 0 -1.4 0M406.2 90.5a0.9 0.9 0 1 0 1.7 0a0.9 0.9 0 1 0 -1.7 0M412.5 64.6a0.9 0.9 0 1 0 1.8 0a0.9 0.9 0 1 0 -1.8 0M423.7 39.7a0.5 0.5 0 1 0 1.0 0a0.5 0.5 0 1 0 -1.0 0M459.6 83.9a0.7 0.7 0 1 0 1.3 0a0.7 0.7 0 1 0 -1.3 0M427.1 62.2a0.6 0.6 0 1 0 1.2 0a0.6 0.6 0 1 0 -1.2 0M462.9 73.0a0.6 0.6 0 1 0 1.2 0a0.6 0.6 0 1 0 -1.2 0M387.1 58.9a0.6 0.6 0 1 0 1.3 0a0.6 0.6 0 1 0 -1.3 0M447.8 77.2a0.7 0.7 0 1 0 1.5 0a0.7 0.7 0 1 0 -1.5 0M398.4 34.8a0.6 0.6 0 1 0 1.3 0a0.6 0.6 0 1 0 -1.3 0M406.3 89.1a0.7 0.7 0 1 0 1.4 0a0.7 0.7 0 1 0 -1.4 0M435.6 98.6a0.6 0.6 0 1 0 1.2 0a0.6 0.6 0 1 0 -1.2 0M427.5 34.3a0.8 0.8 0 1 0 1.6 0a0.8 0.8 0 1 0 -1.6 0M386.2 85.5a0.8 0.8 0 1 0 1.7 0a0.8 0.8 0 1 0 -1.7 0M449.9 29.1a0.6 0.6 0 1 0 1.2 0a0.6 0.6 0 1 0 -1.2 0M441.7 30.2a0.7 0.7 0 1 0 1.4 0a0.7 0.7 0 1 0 -1.4 0M422.4 95.7a0.7 0.7 0 1 0 1.5 0a0.7 0.7 0 1 0 -1.5 0" fill="#64201b" opacity="0.85"/>
<path d="M452.4 46.0a0.8 0.8 0 1 0 1.6 0a0.8 0.8 0 1 0 -1.6 0M418.6 92.7a0.5 0.5 0 1 0 1.1 0a0.5 0.5 0 1 0 -1.1 0M450.1 38.7a0.7 0.7 0 1 0 1.4 0a0.7 0.7 0 1 0 -1.4 0M426.8 34.8a0.8 0.8 0 1 0 1.7 0a0.8 0.8 0 1 0 -1.7 0M410.5 46.5a0.5 0.5 0 1 0 1.1 0a0.5 0.5 0 1 0 -1.1 0M409.8 58.4a0.8 0.8 0 1 0 1.6 0a0.8 0.8 0 1 0 -1.6 0M414.2 75.2a0.5 0.5 0 1 0 1.1 0a0.5 0.5 0 1 0 -1.1 0M416.5 58.0a0.9 0.9 0 1 0 1.8 0a0.9 0.9 0 1 0 -1.8 0M450.6 72.7a0.5 0.5 0 1 0 1.0 0a0.5 0.5 0 1 0 -1.0 0M415.5 77.0a0.6 0.6 0 1 0 1.2 0a0.6 0.6 0 1 0 -1.2 0M430.1 57.8a0.5 0.5 0 1 0 1.0 0a0.5 0.5 0 1 0 -1.0 0M463.1 83.8a0.6 0.6 0 1 0 1.2 0a0.6 0.6 0 1 0 -1.2 0M433.9 45.0a0.7 0.7 0 1 0 1.3 0a0.7 0.7 0 1 0 -1.3 0M428.0 45.6a0.6 0.6 0 1 0 1.3 0a0.6 0.6 0 1 0 -1.3 0M416.7 73.7a0.6 0.6 0 1 0 1.2 0a0.6 0.6 0 1 0 -1.2 0M401.7 78.6a0.6 0.6 0 1 0 1.3 0a0.6 0.6 0 1 0 -1.3 0M459.3 65.7a0.8 0.8 0 1 0 1.6 0a0.8 0.8 0 1 0 -1.6 0M412.0 85.9a0.5 0.5 0 1 0 1.1 0a0.5 0.5 0 1 0 -1.1 0M397.0 30.0a0.8 0.8 0 1 0 1.5 0a0.8 0.8 0 1 0 -1.5 0M441.1 36.5a0.7 0.7 0 1 0 1.3 0a0.7 0.7 0 1 0 -1.3 0M451.1 68.0a0.5 0.5 0 1 0 1.1 0a0.5 0.5 0 1 0 -1.1 0M403.9 34.8a0.5 0.5 0 1 0 1.1 0a0.5 0.5 0 1 0 -1.1 0M417.5 28.3a0.9 0.9 0 1 0 1.7 0a0.9 0.9 0 1 0 -1.7 0M419.2 61.8a0.8 0.8 0 1 0 1.5 0a0.8 0.8 0 1 0 -1.5 0M445.6 85.5a0.7 0.7 0 1 0 1.3 0a0.7 0.7 0 1 0 -1.3 0M412.0 54.2a0.5 0.5 0 1 0 1.0 0a0.5 0.5 0 1 0 -1.0 0M417.0 76.2a0.9 0.9 0 1 0 1.8 0a0.9 0.9 0 1 0 -1.8 0M447.3 73.2a0.7 0.7 0 1 0 1.5 0a0.7 0.7 0 1 0 -1.5 0M387.7 48.1a0.6 0.6 0 1 0 1.3 0a0.6 0.6 0 1 0 -1.3 0M436.6 30.9a0.7 0.7 0 1 0 1.3 0a0.7 0.7 0 1 0 -1.3 0M425.5 83.0a0.8 0.8 0 1 0 1.7 0a0.8 0.8 0 1 0 -1.7 0M433.4 34.9a0.8 0.8 0 1 0 1.6 0a0.8 0.8 0 1 0 -1.6 0M456.2 64.6a0.6 0.6 0 1 0 1.3 0a0.6 0.6 0 1 0 -1.3 0M424.8 33.6a0.8 0.8 0 1 0 1.6 0a0.8 0.8 0 1 0 -1.6 0M462.5 62.2a0.8 0.8 0 1 0 1.6 0a0.8 0.8 0 1 0 -1.6 0M450.7 37.8a0.9 0.9 0 1 0 1.8 0a0.9 0.9 0 1 0 -1.8 0M434.9 37.9a0.5 0.5 0 1 0 1.1 0a0.5 0.5 0 1 0 -1.1 0M405.1 66.8a0.8 0.8 0 1 0 1.6 0a0.8 0.8 0 1 0 -1.6 0M411.7 93.7a0.6 0.6 0 1 0 1.3 0a0.6 0.6 0 1 0 -1.3 0M421.8 32.3a0.9 0.9 0 1 0 1.8 0a0.9 0.9 0 1 0 -1.8 0M396.7 91.8a0.7 0.7 0 1 0 1.4 0a0.7 0.7 0 1 0 -1.4 0M429.7 65.6a0.6 0.6 0 1 0 1.2 0a0.6 0.6 0 1 0 -1.2 0M456.5 98.5a0.8 0.8 0 1 0 1.7 0a0.8 0.8 0 1 0 -1.7 0M432.6 32.2a0.8 0.8 0 1 0 1.7 0a0.8 0.8 0 1 0 -1.7 0M408.6 91.2a0.6 0.6 0 1 0 1.2 0a0.6 0.6 0 1 0 -1.2 0M430.7 86.2a0.6 0.6 0 1 0 1.1 0a0.6 0.6 0 1 0 -1.1 0M428.8 28.6a0.5 0.5 0 1 0 1.0 0a0.5 0.5 0 1 0 -1.0 0M400.0 98.1a0.9 0.9 0 1 0 1.8 0a0.9 0.9 0 1 0 -1.8 0M437.1 46.3a0.8 0.8 0 1 0 1.5 0a0.8 0.8 0 1 0 -1.5 0M443.3 51.9a0.7 0.7 0 1 0 1.5 0a0.7 0.7 0 1 0 -1.5 0M448.5 24.0a0.6 0.6 0 1 0 1.2 0a0.6 0.6 0 1 0 -1.2 0M422.5 33.7a0.7 0.7 0 1 0 1.3 0a0.7 0.7 0 1 0 -1.3 0M430.3 36.1a0.7 0.7 0 1 0 1.4 0a0.7 0.7 0 1 0 -1.4 0M406.7 66.1a0.6 0.6 0 1 0 1.3 0a0.6 0.6 0 1 0 -1.3 0M435.8 25.7a0.8 0.8 0 1 0 1.5 0a0.8 0.8 0 1 0 -1.5 0M397.4 96.0a0.7 0.7 0 1 0 1.5 0a0.7 0.7 0 1 0 -1.5 0M422.5 54.2a0.7 0.7 0 1 0 1.5 0a0.7 0.7 0 1 0 -1.5 0M439.5 80.6a0.8 0.8 0 1 0 1.6 0a0.8 0.8 0 1 0 -1.6 0M423.7 98.7a0.8 0.8 0 1 0 1.7 0a0.8 0.8 0 1 0 -1.7 0M452.4 54.0a0.7 0.7 0 1 0 1.3 0a0.7 0.7 0 1 0 -1.3 0M430.0 91.9a0.7 0.7 0 1 0 1.4 0a0.7 0.7 0 1 0 -1.4 0M426.7 55.8a0.9 0.9 0 1 0 1.7 0a0.9 0.9 0 1 0 -1.7 0M410.9 27.0a0.8 0.8 0 1 0 1.6 0a0.8 0.8 0 1 0 -1.6 0M455.8 78.7a0.7 0.7 0 1 0 1.5 0a0.7 0.7 0 1 0 -1.5 0M444.4 46.1a0.7 0.7 0 1 0 1.5 0a0.7 0.7 0 1 0 -1.5 0M391.6 32.3a0.7 0.7 0 1 0 1.4 0a0.7 0.7 0 1 0 -1.4 0M425.3 53.1a0.5 0.5 0 1 0 1.0 0a0.5 0.5 0 1 0 -1.0 0M440.1 63.0a0.6 0.6 0 1 0 1.2 0a0.6 0.6 0 1 0 -1.2 0M410.0 53.0a0.6 0.6 0 1 0 1.2 0a0.6 0.6 0 1 0 -1.2 0M391.3 92.3a0.9 0.9 0 1 0 1.8 0a0.9 0.9 0 1 0 -1.8 0M437.8 88.9a0.7 0.7 0 1 0 1.3 0a0.7 0.7 0 1 0 -1.3 0M448.4 39.7a0.8 0.8 0 1 0 1.6 0a0.8 0.8 0 1 0 -1.6 0M430.2 91.7a0.5 0.5 0 1 0 1.1 0a0.5 0.5 0 1 0 -1.1 0M447.5 32.2a0.7 0.7 0 1 0 1.4 0a0.7 0.7 0 1 0 -1.4 0M459.9 22.8a0.6 0.6 0 1 0 1.2 0a0.6 0.6 0 1 0 -1.2 0M409.5 47.6a0.5 0.5 0 1 0 1.1 0a0.5 0.5 0 1 0 -1.1 0M455.5 85.0a0.7 0.7 0 1 0 1.3 0a0.7 0.7 0 1 0 -1.3 0M414.0 67.5a0.5 0.5 0 1 0 1.0 0a0.5 0.5 0 1 0 -1.0 0M388.7 91.4a0.6 0.6 0 1 0 1.2 0a0.6 0.6 0 1 0 -1.2 0M424.6 94.1a0.9 0.9 0 1 0 1.8 0a0.9 0.9 0 1 0 -1.8 0M422.9 38.6a0.6 0.6 0 1 0 1.2 0a0.6 0.6 0 1 0 -1.2 0M457.7 91.2a0.6 0.6 0 1 0 1.2 0a0.6 0.6 0 1 0 -1.2 0M451.1 49.8a0.7 0.7 0 1 0 1.4 0a0.7 0.7 0 1 0 -1.4 0M399.3 89.9a0.9 0.9 0 1 0 1.8 0a0.9 0.9 0 1 0 -1.8 0M402.0 71.1a0.6 0.6 0 1 0 1.2 0a0.6 0.6 0 1 0 -1.2 0M454.5 26.6a0.5 0.5 0 1 0 1.1 0a0.5 0.5 0 1 0 -1.1 0M442.2 46.7a0.9 0.9 0 1 0 1.7 0a0.9 0.9 0 1 0 -1.7 0M453.7 77.2a0.6 0.6 0 1 0 1.1 0a0.6 0.6 0 1 0 -1.1 0M440.1 94.4a0.7 0.7 0 1 0 1.4 0a0.7 0.7 0 1 0 -1.4 0M392.4 39.8a0.6 0.6 0 1 0 1.2 0a0.6 0.6 0 1 0 -1.2 0M441.3 37.8a0.6 0.6 0 1 0 1.1 0a0.6 0.6 0 1 0 -1.1 0M404.3 73.5a0.8 0.8 0 1 0 1.6 0a0.8 0.8 0 1 0 -1.6 0M414.9 73.3a0.9 0.9 0 1 0 1.7 0a0.9 0.9 0 1 0 -1.7 0M431.9 40.3a0.6 0.6 0 1 0 1.2 0a0.6 0.6 0 1 0 -1.2 0M458.0 73.7a0.6 0.6 0 1 0 1.2 0a0.6 0.6 0 1 0 -1.2 0M435.5 29.7a0.9 0.9 0 1 0 1.8 0a0.9 0.9 0 1 0 -1.8 0M420.3 63.1a0.7 0.7 0 1 0 1.4 0a0.7 0.7 0 1 0 -1.4 0M389.8 68.6a0.6 0.6 0 1 0 1.2 0a0.6 0.6 0 1 0 -1.2 0M405.8 84.1a0.5 0.5 0 1 0 1.1 0a0.5 0.5 0 1 0 -1.1 0M408.4 80.5a0.6 0.6 0 1 0 1.2 0a0.6 0.6 0 1 0 -1.2 0M407.9 64.6a0.6 0.6 0 1 0 1.1 0a0.6 0.6 0 1 0 -1.1 0M455.8 98.2a0.5 0.5 0 1 0 1.0 0a0.5 0.5 0 1 0 -1.0 0M422.0 80.1a0.7 0.7 0 1 0 1.3 0a0.7 0.7 0 1 0 -1.3 0M458.3 60.9a0.6 0.6 0 1 0 1.1 0a0.6 0.6 0 1 0 -1.1 0M429.3 72.0a0.6 0.6 0 1 0 1.3 0a0.6 0.6 0 1 0 -1.3 0M437.1 82.5a0.7 0.7 0 1 0 1.4 0a0.7 0.7 0 1 0 -1.4 0M425.3 87.3a0.8 0.8 0 1 0 1.5 0a0.8 0.8 0 1 0 -1.5 0M426.6 95.4a0.6 0.6 0 1 0 1.1 0a0.6 0.6 0 1 0 -1.1 0M446.5 35.4a0.7 0.7 0 1 0 1.5 0a0.7 0.7 0 1 0 -1.5 0M404.3 56.4a0.8 0.8 0 1 0 1.6 0a0.8 0.8 0 1 0 -1.6 0M447.2 83.2a0.6 0.6 0 1 0 1.2 0a0.6 0.6 0 1 0 -1.2 0M424.0 39.7a0.7 0.7 0 1 0 1.5 0a0.7 0.7 0 1 0 -1.5 0M424.8 25.5a0.7 0.7 0 1 0 1.5 0a0.7 0.7 0 1 0 -1.5 0M441.4 66.5a0.8 0.8 0 1 0 1.7 0a0.8 0.8 0 1 0 -1.7 0M400.3 34.4a0.5 0.5 0 1 0 1.0 0a0.5 0.5 0 1 0 -1.0 0M424.6 56.0a0.7 0.7 0 1 0 1.4 0a0.7 0.7 0 1 0 -1.4 0M406.7 83.7a0.5 0.5 0 1 0 1.1 0a0.5 0.5 0 1 0 -1.1 0M456.4 66.2a0.7 0.7 0 1 0 1.4 0a0.7 0.7 0 1 0 -1.4 0M447.6 41.0a0.6 0.6 0 1 0 1.1 0a0.6 0.6 0 1 0 -1.1 0M410.3 26.0a0.6 0.6 0 1 0 1.3 0a0.6 0.6 0 1 0 -1.3 0M434.4 62.9a0.6 0.6 0 1 0 1.2 0a0.6 0.6 0 1 0 -1.2 0M431.6 29.6a0.8 0.8 0 1 0 1.7 0a0.8 0.8 0 1 0 -1.7 0M399.6 42.2a0.6 0.6 0 1 0 1.1 0a0.6 0.6 0 1 0 -1.1 0M439.5 86.2a0.8 0.8 0 1 0 1.6 0a0.8 0.8 0 1 0 -1.6 0M391.0 54.1a0.6 0.6 0 1 0 1.3 0a0.6 0.6 0 1 0 -1.3 0M403.1 96.9a0.5 0.5 0 1 0 1.0 0a0.5 0.5 0 1 0 -1.0 0M423.9 80.9a0.9 0.9 0 1 0 1.8 0a0.9 0.9 0 1 0 -1.8 0M397.3 57.5a0.8 0.8 0 1 0 1.6 0a0.8 0.8 0 1 0 -1.6 0M389.1 41.2a0.9 0.9 0 1 0 1.7 0a0.9 0.9 0 1 0 -1.7 0M397.2 52.8a0.6 0.6 0 1 0 1.2 0a0.6 0.6 0 1 0 -1.2 0M419.2 28.6a0.5 0.5 0 1 0 1.0 0a0.5 0.5 0 1 0 -1.0 0M463.2 81.0a0.8 0.8 0 1 0 1.6 0a0.8 0.8 0 1 0 -1.6 0M404.0 42.1a0.7 0.7 0 1 0 1.4 0a0.7 0.7 0 1 0 -1.4 0M404.7 58.0a0.9 0.9 0 1 0 1.7 0a0.9 0.9 0 1 0 -1.7 0M414.2 48.5a0.9 0.9 0 1 0 1.8 0a0.9 0.9 0 1 0 -1.8 0M433.5 25.8a0.7 0.7 0 1 0 1.3 0a0.7 0.7 0 1 0 -1.3 0M436.6 27.3a0.6 0.6 0 1 0 1.3 0a0.6 0.6 0 1 0 -1.3 0M439.9 88.8a0.7 0.7 0 1 0 1.5 0a0.7 0.7 0 1 0 -1.5 0M454.8 58.1a0.7 0.7 0 1 0 1.3 0a0.7 0.7 0 1 0 -1.3 0M451.3 51.9a0.8 0.8 0 1 0 1.6 0a0.8 0.8 0 1 0 -1.6 0M403.0 49.3a0.6 0.6 0 1 0 1.1 0a0.6 0.6 0 1 0 -1.1 0M428.9 35.3a0.6 0.6 0 1 0 1.2 0a0.6 0.6 0 1 0 -1.2 0M402.9 58.5a0.6 0.6 0 1 0 1.2 0a0.6 0.6 0 1 0 -1.2 0M420.7 98.6a0.8 0.8 0 1 0 1.5 0a0.8 0.8 0 1 0 -1.5 0M453.0 38.4a0.7 0.7 0 1 0 1.3 0a0.7 0.7 0 1 0 -1.3 0M391.9 75.6a0.6 0.6 0 1 0 1.3 0a0.6 0.6 0 1 0 -1.3 0M407.6 24.2a0.6 0.6 0 1 0 1.1 0a0.6 0.6 0 1 0 -1.1 0M406.3 52.8a0.9 0.9 0 1 0 1.7 0a0.9 0.9 0 1 0 -1.7 0M441.6 43.3a0.6 0.6 0 1 0 1.3 0a0.6 0.6 0 1 0 -1.3 0M398.1 94.3a0.6 0.6 0 1 0 1.3 0a0.6 0.6 0 1 0 -1.3 0M445.3 78.0a0.9 0.9 0 1 0 1.7 0a0.9 0.9 0 1 0 -1.7 0M387.8 47.4a0.7 0.7 0 1 0 1.3 0a0.7 0.7 0 1 0 -1.3 0M392.7 90.1a0.6 0.6 0 1 0 1.3 0a0.6 0.6 0 1 0 -1.3 0M446.0 62.4a0.5 0.5 0 1 0 1.0 0a0.5 0.5 0 1 0 -1.0 0M416.9 41.0a0.5 0.5 0 1 0 1.0 0a0.5 0.5 0 1 0 -1.0 0M398.1 68.2a0.5 0.5 0 1 0 1.0 0a0.5 0.5 0 1 0 -1.0 0M410.4 55.2a0.7 0.7 0 1 0 1.4 0a0.7 0.7 0 1 0 -1.4 0M396.8 76.7a0.6 0.6 0 1 0 1.2 0a0.6 0.6 0 1 0 -1.2 0M442.5 73.6a0.6 0.6 0 1 0 1.1 0a0.6 0.6 0 1 0 -1.1 0M402.0 44.2a0.8 0.8 0 1 0 1.6 0a0.8 0.8 0 1 0 -1.6 0M417.4 52.3a0.8 0.8 0 1 0 1.7 0a0.8 0.8 0 1 0 -1.7 0M403.8 45.1a0.6 0.6 0 1 0 1.3 0a0.6 0.6 0 1 0 -1.3 0M403.1 25.9a0.5 0.5 0 1 0 1.0 0a0.5 0.5 0 1 0 -1.0 0M434.9 66.0a0.8 0.8 0 1 0 1.6 0a0.8 0.8 0 1 0 -1.6 0M461.6 45.5a0.8 0.8 0 1 0 1.5 0a0.8 0.8 0 1 0 -1.5 0M457.3 39.3a0.8 0.8 0 1 0 1.6 0a0.8 0.8 0 1 0 -1.6 0M437.6 95.7a0.8 0.8 0 1 0 1.7 0a0.8 0.8 0 1 0 -1.7 0M404.5 71.1a0.5 0.5 0 1 0 1.1 0a0.5 0.5 0 1 0 -1.1 0M419.5 52.7a0.5 0.5 0 1 0 1.0 0a0.5 0.5 0 1 0 -1.0 0M415.9 47.8a0.7 0.7 0 1 0 1.4 0a0.7 0.7 0 1 0 -1.4 0M407.9 34.9a0.7 0.7 0 1 0 1.3 0a0.7 0.7 0 1 0 -1.3 0M422.9 35.5a0.8 0.8 0 1 0 1.5 0a0.8 0.8 0 1 0 -1.5 0M404.8 29.9a0.6 0.6 0 1 0 1.3 0a0.6 0.6 0 1 0 -1.3 0M418.9 34.3a0.7 0.7 0 1 0 1.5 0a0.7 0.7 0 1 0 -1.5 0M440.4 65.0a0.8 0.8 0 1 0 1.6 0a0.8 0.8 0 1 0 -1.6 0M388.0 52.7a0.6 0.6 0 1 0 1.3 0a0.6 0.6 0 1 0 -1.3 0M391.2 53.7a0.5 0.5 0 1 0 1.0 0a0.5 0.5 0 1 0 -1.0 0M424.6 67.5a0.7 0.7 0 1 0 1.4 0a0.7 0.7 0 1 0 -1.4 0M411.6 42.1a0.5 0.5 0 1 0 1.0 0a0.5 0.5 0 1 0 -1.0 0M413.0 90.8a0.7 0.7 0 1 0 1.5 0a0.7 0.7 0 1 0 -1.5 0M406.6 73.8a0.6 0.6 0 1 0 1.1 0a0.6 0.6 0 1 0 -1.1 0M422.3 69.7a0.9 0.9 0 1 0 1.8 0a0.9 0.9 0 1 0 -1.8 0M414.1 66.8a0.9 0.9 0 1 0 1.8 0a0.9 0.9 0 1 0 -1.8 0M445.9 70.7a0.7 0.7 0 1 0 1.5 0a0.7 0.7 0 1 0 -1.5 0" fill="#8a2b25" opacity="0.85"/>
<path d="M418.1 54.5a0.6 0.6 0 1 0 1.2 0a0.6 0.6 0 1 0 -1.2 0M450.4 89.9a0.7 0.7 0 1 0 1.3 0a0.7 0.7 0 1 0 -1.3 0M456.7 25.8a0.6 0.6 0 1 0 1.1 0a0.6 0.6 0 1 0 -1.1 0M425.5 46.4a0.7 0.7 0 1 0 1.3 0a0.7 0.7 0 1 0 -1.3 0M461.9 34.3a0.6 0.6 0 1 0 1.2 0a0.6 0.6 0 1 0 -1.2 0M404.0 74.7a0.6 0.6 0 1 0 1.2 0a0.6 0.6 0 1 0 -1.2 0M386.3 64.3a0.7 0.7 0 1 0 1.4 0a0.7 0.7 0 1 0 -1.4 0M404.7 60.5a0.8 0.8 0 1 0 1.6 0a0.8 0.8 0 1 0 -1.6 0M428.6 70.4a0.8 0.8 0 1 0 1.5 0a0.8 0.8 0 1 0 -1.5 0M450.5 96.7a0.7 0.7 0 1 0 1.3 0a0.7 0.7 0 1 0 -1.3 0M413.1 90.4a0.6 0.6 0 1 0 1.3 0a0.6 0.6 0 1 0 -1.3 0M441.5 75.8a0.8 0.8 0 1 0 1.6 0a0.8 0.8 0 1 0 -1.6 0M460.9 85.7a0.6 0.6 0 1 0 1.1 0a0.6 0.6 0 1 0 -1.1 0M434.2 60.2a0.8 0.8 0 1 0 1.5 0a0.8 0.8 0 1 0 -1.5 0M414.7 44.6a0.8 0.8 0 1 0 1.7 0a0.8 0.8 0 1 0 -1.7 0M427.6 40.9a0.6 0.6 0 1 0 1.2 0a0.6 0.6 0 1 0 -1.2 0M411.3 36.4a0.7 0.7 0 1 0 1.5 0a0.7 0.7 0 1 0 -1.5 0M396.2 27.7a0.5 0.5 0 1 0 1.1 0a0.5 0.5 0 1 0 -1.1 0M394.3 76.6a0.6 0.6 0 1 0 1.1 0a0.6 0.6 0 1 0 -1.1 0M421.1 81.7a0.7 0.7 0 1 0 1.4 0a0.7 0.7 0 1 0 -1.4 0" fill="#b8302a" opacity="0.9"/>
</g>
<rect x="466.00" y="22.00" width="65.60" height="65.40" fill="#6b6b6d" />
<clipPath id="ci466"><rect x="466" y="22" width="65.60000000000002" height="65.4"/></clipPath>
<g clip-path="url(#ci466)"><g filter="url(#b6)">
<circle cx="502.3" cy="32.5" r="1.9" fill="#cf4a48" opacity="0.8"/>
<circle cx="485.7" cy="39.5" r="2.0" fill="#cf4a48" opacity="0.8"/>
<circle cx="503.9" cy="40.6" r="1.8" fill="#cf4a48" opacity="0.8"/>
<circle cx="472.1" cy="44.9" r="1.8" fill="#cf4a48" opacity="0.8"/>
<circle cx="495.3" cy="46.6" r="1.9" fill="#cf4a48" opacity="0.8"/>
<circle cx="473.5" cy="50.9" r="1.6" fill="#cf4a48" opacity="0.8"/>
<circle cx="505.2" cy="52.3" r="1.8" fill="#cf4a48" opacity="0.8"/>
<circle cx="509.7" cy="51.7" r="1.9" fill="#cf4a48" opacity="0.8"/>
<circle cx="490.1" cy="54.3" r="2.0" fill="#cf4a48" opacity="0.8"/>
<circle cx="509.7" cy="58.0" r="2.0" fill="#cf4a48" opacity="0.8"/>
<circle cx="500.5" cy="60.6" r="1.5" fill="#cf4a48" opacity="0.8"/>
<circle cx="479.8" cy="61.2" r="1.6" fill="#cf4a48" opacity="0.8"/>
<circle cx="470.1" cy="65.7" r="2.0" fill="#cf4a48" opacity="0.8"/>
<circle cx="478.3" cy="68.3" r="1.9" fill="#cf4a48" opacity="0.8"/>
<circle cx="493.5" cy="66.8" r="2.1" fill="#cf4a48" opacity="0.8"/>
<circle cx="503.9" cy="65.4" r="1.9" fill="#cf4a48" opacity="0.8"/>
<circle cx="520.5" cy="67.6" r="1.9" fill="#cf4a48" opacity="0.8"/>
<circle cx="524.9" cy="65.7" r="1.9" fill="#cf4a48" opacity="0.8"/>
<circle cx="523.4" cy="70.5" r="1.7" fill="#cf4a48" opacity="0.8"/>
<circle cx="500.8" cy="73.1" r="1.6" fill="#cf4a48" opacity="0.8"/>
<circle cx="506.4" cy="73.5" r="1.9" fill="#cf4a48" opacity="0.8"/>
<circle cx="480.2" cy="76.8" r="2.2" fill="#cf4a48" opacity="0.8"/>
<circle cx="500.2" cy="78.4" r="1.7" fill="#cf4a48" opacity="0.8"/>
<circle cx="506.4" cy="84.2" r="1.6" fill="#cf4a48" opacity="0.8"/>
<circle cx="525.6" cy="83.9" r="1.9" fill="#cf4a48" opacity="0.8"/>
<circle cx="502.7" cy="86.4" r="1.4" fill="#cf4a48" opacity="0.8"/>
<circle cx="468.0" cy="40.5" r="1.1" fill="#cf4a48" opacity="0.8"/>
<circle cx="482.0" cy="60.5" r="1.2" fill="#cf4a48" opacity="0.8"/>
<circle cx="501.2" cy="43.2" r="1.4" fill="#86d24a" opacity="0.95"/>
</g></g>
<rect x="466.00" y="22.00" width="65.60" height="65.40" fill="none" stroke="#262424" stroke-width="1.1" />
<rect x="424.90" y="50.50" width="20.90" height="20.70" fill="none" stroke="#d4d4d4" stroke-width="1.4" />
<line x1="445.80" y1="51.50" x2="466.00" y2="34.00" stroke="#d4d4d4" stroke-width="1.4" />
<line x1="445.80" y1="62.40" x2="466.00" y2="62.40" stroke="#d4d4d4" stroke-width="1.4" />
<rect x="517.20" y="78.20" width="10.70" height="2.40" fill="#fff" />
<rect x="542.90" y="21.90" width="78.20" height="78.10" fill="#120a09" />
<g filter="url(#b3)">
<path d="M555.4 88.9a0.8 0.8 0 1 0 1.7 0a0.8 0.8 0 1 0 -1.7 0M547.2 42.2a0.7 0.7 0 1 0 1.4 0a0.7 0.7 0 1 0 -1.4 0M603.9 52.7a0.8 0.8 0 1 0 1.6 0a0.8 0.8 0 1 0 -1.6 0M562.4 77.4a0.6 0.6 0 1 0 1.3 0a0.6 0.6 0 1 0 -1.3 0M568.5 80.7a0.8 0.8 0 1 0 1.7 0a0.8 0.8 0 1 0 -1.7 0M606.4 66.1a0.7 0.7 0 1 0 1.3 0a0.7 0.7 0 1 0 -1.3 0M597.0 70.3a0.8 0.8 0 1 0 1.7 0a0.8 0.8 0 1 0 -1.7 0M604.4 32.4a0.7 0.7 0 1 0 1.3 0a0.7 0.7 0 1 0 -1.3 0M594.4 40.4a0.6 0.6 0 1 0 1.1 0a0.6 0.6 0 1 0 -1.1 0M544.0 67.5a0.9 0.9 0 1 0 1.8 0a0.9 0.9 0 1 0 -1.8 0M617.2 33.0a0.8 0.8 0 1 0 1.6 0a0.8 0.8 0 1 0 -1.6 0M575.2 71.0a0.7 0.7 0 1 0 1.3 0a0.7 0.7 0 1 0 -1.3 0M614.6 98.2a0.5 0.5 0 1 0 1.0 0a0.5 0.5 0 1 0 -1.0 0M597.8 31.8a0.5 0.5 0 1 0 1.0 0a0.5 0.5 0 1 0 -1.0 0M564.8 78.6a0.9 0.9 0 1 0 1.8 0a0.9 0.9 0 1 0 -1.8 0M552.5 48.0a0.5 0.5 0 1 0 1.0 0a0.5 0.5 0 1 0 -1.0 0M584.6 59.7a0.6 0.6 0 1 0 1.3 0a0.6 0.6 0 1 0 -1.3 0M566.6 83.9a0.8 0.8 0 1 0 1.7 0a0.8 0.8 0 1 0 -1.7 0M564.7 52.7a0.7 0.7 0 1 0 1.5 0a0.7 0.7 0 1 0 -1.5 0M601.6 97.6a0.7 0.7 0 1 0 1.3 0a0.7 0.7 0 1 0 -1.3 0M596.0 64.5a0.8 0.8 0 1 0 1.6 0a0.8 0.8 0 1 0 -1.6 0M554.5 36.2a0.5 0.5 0 1 0 1.1 0a0.5 0.5 0 1 0 -1.1 0M614.4 42.0a0.7 0.7 0 1 0 1.4 0a0.7 0.7 0 1 0 -1.4 0M552.5 47.5a0.5 0.5 0 1 0 1.0 0a0.5 0.5 0 1 0 -1.0 0M586.3 33.8a0.8 0.8 0 1 0 1.5 0a0.8 0.8 0 1 0 -1.5 0M564.0 40.2a0.7 0.7 0 1 0 1.4 0a0.7 0.7 0 1 0 -1.4 0M571.2 42.6a0.5 0.5 0 1 0 1.0 0a0.5 0.5 0 1 0 -1.0 0M548.1 90.9a0.6 0.6 0 1 0 1.2 0a0.6 0.6 0 1 0 -1.2 0M549.1 36.7a0.7 0.7 0 1 0 1.4 0a0.7 0.7 0 1 0 -1.4 0M619.1 38.2a0.8 0.8 0 1 0 1.7 0a0.8 0.8 0 1 0 -1.7 0M580.0 54.4a0.8 0.8 0 1 0 1.6 0a0.8 0.8 0 1 0 -1.6 0M573.3 27.2a0.7 0.7 0 1 0 1.4 0a0.7 0.7 0 1 0 -1.4 0M593.4 70.3a0.6 0.6 0 1 0 1.2 0a0.6 0.6 0 1 0 -1.2 0M614.6 88.8a0.9 0.9 0 1 0 1.8 0a0.9 0.9 0 1 0 -1.8 0M576.9 86.4a0.8 0.8 0 1 0 1.6 0a0.8 0.8 0 1 0 -1.6 0M556.7 24.8a0.6 0.6 0 1 0 1.1 0a0.6 0.6 0 1 0 -1.1 0M552.2 28.5a0.6 0.6 0 1 0 1.3 0a0.6 0.6 0 1 0 -1.3 0M600.7 46.5a0.7 0.7 0 1 0 1.4 0a0.7 0.7 0 1 0 -1.4 0M543.7 38.8a0.9 0.9 0 1 0 1.8 0a0.9 0.9 0 1 0 -1.8 0M543.8 63.0a0.8 0.8 0 1 0 1.6 0a0.8 0.8 0 1 0 -1.6 0M603.7 78.9a0.7 0.7 0 1 0 1.3 0a0.7 0.7 0 1 0 -1.3 0M604.3 86.0a0.8 0.8 0 1 0 1.6 0a0.8 0.8 0 1 0 -1.6 0M618.2 30.5a0.9 0.9 0 1 0 1.8 0a0.9 0.9 0 1 0 -1.8 0M573.9 76.6a0.6 0.6 0 1 0 1.2 0a0.6 0.6 0 1 0 -1.2 0M612.6 24.6a0.7 0.7 0 1 0 1.5 0a0.7 0.7 0 1 0 -1.5 0M560.5 52.4a0.6 0.6 0 1 0 1.3 0a0.6 0.6 0 1 0 -1.3 0M593.3 84.7a0.6 0.6 0 1 0 1.3 0a0.6 0.6 0 1 0 -1.3 0M591.9 49.8a0.6 0.6 0 1 0 1.2 0a0.6 0.6 0 1 0 -1.2 0M612.4 47.3a0.5 0.5 0 1 0 1.1 0a0.5 0.5 0 1 0 -1.1 0M568.8 79.4a0.6 0.6 0 1 0 1.2 0a0.6 0.6 0 1 0 -1.2 0M599.8 64.5a0.8 0.8 0 1 0 1.5 0a0.8 0.8 0 1 0 -1.5 0M556.8 30.9a0.6 0.6 0 1 0 1.1 0a0.6 0.6 0 1 0 -1.1 0M570.1 55.7a0.5 0.5 0 1 0 1.0 0a0.5 0.5 0 1 0 -1.0 0M581.6 53.6a0.6 0.6 0 1 0 1.3 0a0.6 0.6 0 1 0 -1.3 0M584.3 95.5a0.6 0.6 0 1 0 1.2 0a0.6 0.6 0 1 0 -1.2 0M610.3 47.3a0.8 0.8 0 1 0 1.6 0a0.8 0.8 0 1 0 -1.6 0M551.4 98.1a0.7 0.7 0 1 0 1.3 0a0.7 0.7 0 1 0 -1.3 0M616.7 39.6a0.7 0.7 0 1 0 1.3 0a0.7 0.7 0 1 0 -1.3 0M597.1 36.4a0.6 0.6 0 1 0 1.2 0a0.6 0.6 0 1 0 -1.2 0M594.9 95.1a0.6 0.6 0 1 0 1.3 0a0.6 0.6 0 1 0 -1.3 0M556.9 50.1a0.9 0.9 0 1 0 1.8 0a0.9 0.9 0 1 0 -1.8 0M554.5 71.2a0.7 0.7 0 1 0 1.3 0a0.7 0.7 0 1 0 -1.3 0M592.2 39.0a0.7 0.7 0 1 0 1.5 0a0.7 0.7 0 1 0 -1.5 0M610.9 88.1a0.8 0.8 0 1 0 1.5 0a0.8 0.8 0 1 0 -1.5 0M581.8 66.1a0.5 0.5 0 1 0 1.1 0a0.5 0.5 0 1 0 -1.1 0M607.1 75.4a0.7 0.7 0 1 0 1.4 0a0.7 0.7 0 1 0 -1.4 0M594.0 54.8a0.7 0.7 0 1 0 1.3 0a0.7 0.7 0 1 0 -1.3 0M560.6 68.6a0.7 0.7 0 1 0 1.5 0a0.7 0.7 0 1 0 -1.5 0M582.4 25.3a0.8 0.8 0 1 0 1.5 0a0.8 0.8 0 1 0 -1.5 0M577.2 68.1a0.7 0.7 0 1 0 1.5 0a0.7 0.7 0 1 0 -1.5 0M614.3 34.4a0.7 0.7 0 1 0 1.4 0a0.7 0.7 0 1 0 -1.4 0M619.0 79.1a0.6 0.6 0 1 0 1.3 0a0.6 0.6 0 1 0 -1.3 0M599.4 98.3a0.7 0.7 0 1 0 1.3 0a0.7 0.7 0 1 0 -1.3 0M609.2 32.5a0.9 0.9 0 1 0 1.8 0a0.9 0.9 0 1 0 -1.8 0M580.5 40.7a0.8 0.8 0 1 0 1.7 0a0.8 0.8 0 1 0 -1.7 0M592.6 94.3a0.8 0.8 0 1 0 1.7 0a0.8 0.8 0 1 0 -1.7 0M603.8 61.8a0.9 0.9 0 1 0 1.8 0a0.9 0.9 0 1 0 -1.8 0M548.0 89.2a0.8 0.8 0 1 0 1.6 0a0.8 0.8 0 1 0 -1.6 0M562.3 84.4a0.7 0.7 0 1 0 1.4 0a0.7 0.7 0 1 0 -1.4 0M584.2 88.8a0.6 0.6 0 1 0 1.2 0a0.6 0.6 0 1 0 -1.2 0M564.6 71.9a0.5 0.5 0 1 0 1.1 0a0.5 0.5 0 1 0 -1.1 0M585.5 82.9a0.7 0.7 0 1 0 1.4 0a0.7 0.7 0 1 0 -1.4 0M561.4 83.8a0.8 0.8 0 1 0 1.7 0a0.8 0.8 0 1 0 -1.7 0M601.8 64.7a0.9 0.9 0 1 0 1.7 0a0.9 0.9 0 1 0 -1.7 0M604.0 34.4a0.6 0.6 0 1 0 1.3 0a0.6 0.6 0 1 0 -1.3 0M550.8 25.6a0.6 0.6 0 1 0 1.3 0a0.6 0.6 0 1 0 -1.3 0M609.3 86.4a0.5 0.5 0 1 0 1.1 0a0.5 0.5 0 1 0 -1.1 0M556.8 52.5a0.8 0.8 0 1 0 1.7 0a0.8 0.8 0 1 0 -1.7 0M590.4 91.6a0.5 0.5 0 1 0 1.1 0a0.5 0.5 0 1 0 -1.1 0M618.5 38.6a0.8 0.8 0 1 0 1.5 0a0.8 0.8 0 1 0 -1.5 0M610.2 78.3a0.6 0.6 0 1 0 1.2 0a0.6 0.6 0 1 0 -1.2 0M594.4 55.7a0.5 0.5 0 1 0 1.0 0a0.5 0.5 0 1 0 -1.0 0M569.0 46.9a0.8 0.8 0 1 0 1.5 0a0.8 0.8 0 1 0 -1.5 0M564.3 68.8a0.8 0.8 0 1 0 1.6 0a0.8 0.8 0 1 0 -1.6 0M556.8 32.6a0.8 0.8 0 1 0 1.6 0a0.8 0.8 0 1 0 -1.6 0M578.9 32.7a0.5 0.5 0 1 0 1.1 0a0.5 0.5 0 1 0 -1.1 0M615.1 69.3a0.6 0.6 0 1 0 1.3 0a0.6 0.6 0 1 0 -1.3 0M558.0 98.7a0.8 0.8 0 1 0 1.6 0a0.8 0.8 0 1 0 -1.6 0M599.4 50.3a0.6 0.6 0 1 0 1.2 0a0.6 0.6 0 1 0 -1.2 0M574.2 34.0a0.8 0.8 0 1 0 1.5 0a0.8 0.8 0 1 0 -1.5 0M575.6 85.4a0.7 0.7 0 1 0 1.3 0a0.7 0.7 0 1 0 -1.3 0M577.8 61.4a0.9 0.9 0 1 0 1.8 0a0.9 0.9 0 1 0 -1.8 0M569.7 76.5a0.6 0.6 0 1 0 1.2 0a0.6 0.6 0 1 0 -1.2 0M587.2 44.5a0.8 0.8 0 1 0 1.7 0a0.8 0.8 0 1 0 -1.7 0M564.9 88.0a0.8 0.8 0 1 0 1.5 0a0.8 0.8 0 1 0 -1.5 0M577.9 94.0a0.7 0.7 0 1 0 1.3 0a0.7 0.7 0 1 0 -1.3 0M599.9 68.7a0.7 0.7 0 1 0 1.4 0a0.7 0.7 0 1 0 -1.4 0M548.1 54.8a0.6 0.6 0 1 0 1.2 0a0.6 0.6 0 1 0 -1.2 0M576.9 95.6a0.6 0.6 0 1 0 1.2 0a0.6 0.6 0 1 0 -1.2 0M596.3 74.1a0.6 0.6 0 1 0 1.2 0a0.6 0.6 0 1 0 -1.2 0M574.4 32.9a0.9 0.9 0 1 0 1.7 0a0.9 0.9 0 1 0 -1.7 0M562.4 54.9a0.6 0.6 0 1 0 1.3 0a0.6 0.6 0 1 0 -1.3 0M605.8 87.7a0.7 0.7 0 1 0 1.5 0a0.7 0.7 0 1 0 -1.5 0M584.7 30.4a0.9 0.9 0 1 0 1.7 0a0.9 0.9 0 1 0 -1.7 0M549.9 50.5a0.6 0.6 0 1 0 1.3 0a0.6 0.6 0 1 0 -1.3 0M598.4 73.9a0.6 0.6 0 1 0 1.3 0a0.6 0.6 0 1 0 -1.3 0M611.9 95.3a0.5 0.5 0 1 0 1.0 0a0.5 0.5 0 1 0 -1.0 0M591.5 58.6a0.6 0.6 0 1 0 1.3 0a0.6 0.6 0 1 0 -1.3 0M578.5 46.9a0.8 0.8 0 1 0 1.5 0a0.8 0.8 0 1 0 -1.5 0M589.2 96.8a0.9 0.9 0 1 0 1.8 0a0.9 0.9 0 1 0 -1.8 0M618.8 52.9a0.8 0.8 0 1 0 1.7 0a0.8 0.8 0 1 0 -1.7 0M592.6 76.3a0.9 0.9 0 1 0 1.8 0a0.9 0.9 0 1 0 -1.8 0M548.2 58.1a0.7 0.7 0 1 0 1.3 0a0.7 0.7 0 1 0 -1.3 0M593.0 39.4a0.9 0.9 0 1 0 1.8 0a0.9 0.9 0 1 0 -1.8 0M559.2 51.0a0.6 0.6 0 1 0 1.1 0a0.6 0.6 0 1 0 -1.1 0M573.4 79.4a0.5 0.5 0 1 0 1.1 0a0.5 0.5 0 1 0 -1.1 0M555.8 72.3a0.7 0.7 0 1 0 1.5 0a0.7 0.7 0 1 0 -1.5 0M599.7 42.1a0.8 0.8 0 1 0 1.6 0a0.8 0.8 0 1 0 -1.6 0M599.1 82.0a0.5 0.5 0 1 0 1.1 0a0.5 0.5 0 1 0 -1.1 0M578.8 24.0a0.8 0.8 0 1 0 1.7 0a0.8 0.8 0 1 0 -1.7 0M615.5 91.2a0.5 0.5 0 1 0 1.0 0a0.5 0.5 0 1 0 -1.0 0M569.9 63.7a0.7 0.7 0 1 0 1.4 0a0.7 0.7 0 1 0 -1.4 0M551.7 83.0a0.6 0.6 0 1 0 1.2 0a0.6 0.6 0 1 0 -1.2 0M581.8 32.3a0.7 0.7 0 1 0 1.5 0a0.7 0.7 0 1 0 -1.5 0M553.0 29.5a0.7 0.7 0 1 0 1.4 0a0.7 0.7 0 1 0 -1.4 0M565.7 82.1a0.6 0.6 0 1 0 1.2 0a0.6 0.6 0 1 0 -1.2 0M574.8 26.9a0.6 0.6 0 1 0 1.2 0a0.6 0.6 0 1 0 -1.2 0M577.6 65.4a0.7 0.7 0 1 0 1.4 0a0.7 0.7 0 1 0 -1.4 0M608.0 30.8a0.8 0.8 0 1 0 1.7 0a0.8 0.8 0 1 0 -1.7 0M554.9 96.8a0.7 0.7 0 1 0 1.4 0a0.7 0.7 0 1 0 -1.4 0M574.0 69.5a0.8 0.8 0 1 0 1.7 0a0.8 0.8 0 1 0 -1.7 0M616.9 54.3a0.5 0.5 0 1 0 1.0 0a0.5 0.5 0 1 0 -1.0 0M554.8 85.2a0.8 0.8 0 1 0 1.6 0a0.8 0.8 0 1 0 -1.6 0M597.5 34.7a0.7 0.7 0 1 0 1.4 0a0.7 0.7 0 1 0 -1.4 0M545.4 31.2a0.6 0.6 0 1 0 1.2 0a0.6 0.6 0 1 0 -1.2 0M616.8 71.9a0.8 0.8 0 1 0 1.7 0a0.8 0.8 0 1 0 -1.7 0M546.8 54.6a0.5 0.5 0 1 0 1.1 0a0.5 0.5 0 1 0 -1.1 0M562.9 31.3a0.9 0.9 0 1 0 1.7 0a0.9 0.9 0 1 0 -1.7 0M568.2 60.1a0.8 0.8 0 1 0 1.5 0a0.8 0.8 0 1 0 -1.5 0M610.8 95.0a0.7 0.7 0 1 0 1.5 0a0.7 0.7 0 1 0 -1.5 0M581.4 91.8a0.7 0.7 0 1 0 1.3 0a0.7 0.7 0 1 0 -1.3 0M566.1 79.2a0.6 0.6 0 1 0 1.2 0a0.6 0.6 0 1 0 -1.2 0M571.2 55.6a0.7 0.7 0 1 0 1.4 0a0.7 0.7 0 1 0 -1.4 0M570.5 55.6a0.7 0.7 0 1 0 1.4 0a0.7 0.7 0 1 0 -1.4 0M547.1 86.6a0.5 0.5 0 1 0 1.0 0a0.5 0.5 0 1 0 -1.0 0M583.5 64.6a0.7 0.7 0 1 0 1.3 0a0.7 0.7 0 1 0 -1.3 0M560.2 30.4a0.6 0.6 0 1 0 1.3 0a0.6 0.6 0 1 0 -1.3 0M567.2 59.7a0.6 0.6 0 1 0 1.2 0a0.6 0.6 0 1 0 -1.2 0M600.6 60.0a0.5 0.5 0 1 0 1.0 0a0.5 0.5 0 1 0 -1.0 0M574.4 96.5a0.5 0.5 0 1 0 1.0 0a0.5 0.5 0 1 0 -1.0 0M588.5 96.1a0.6 0.6 0 1 0 1.3 0a0.6 0.6 0 1 0 -1.3 0M588.9 50.9a0.6 0.6 0 1 0 1.2 0a0.6 0.6 0 1 0 -1.2 0M589.7 67.8a0.6 0.6 0 1 0 1.3 0a0.6 0.6 0 1 0 -1.3 0M581.0 62.2a0.8 0.8 0 1 0 1.6 0a0.8 0.8 0 1 0 -1.6 0M547.3 29.9a0.6 0.6 0 1 0 1.2 0a0.6 0.6 0 1 0 -1.2 0M563.8 83.5a0.7 0.7 0 1 0 1.3 0a0.7 0.7 0 1 0 -1.3 0M608.9 53.5a0.6 0.6 0 1 0 1.2 0a0.6 0.6 0 1 0 -1.2 0M594.8 29.3a0.9 0.9 0 1 0 1.8 0a0.9 0.9 0 1 0 -1.8 0M606.7 47.8a0.6 0.6 0 1 0 1.3 0a0.6 0.6 0 1 0 -1.3 0M605.6 82.9a0.8 0.8 0 1 0 1.5 0a0.8 0.8 0 1 0 -1.5 0M547.6 81.1a0.5 0.5 0 1 0 1.0 0a0.5 0.5 0 1 0 -1.0 0M590.7 64.9a0.9 0.9 0 1 0 1.7 0a0.9 0.9 0 1 0 -1.7 0M591.7 24.5a0.9 0.9 0 1 0 1.7 0a0.9 0.9 0 1 0 -1.7 0M600.8 67.0a0.5 0.5 0 1 0 1.0 0a0.5 0.5 0 1 0 -1.0 0M599.3 54.7a0.8 0.8 0 1 0 1.5 0a0.8 0.8 0 1 0 -1.5 0M618.4 92.7a0.5 0.5 0 1 0 1.1 0a0.5 0.5 0 1 0 -1.1 0M602.7 56.4a0.8 0.8 0 1 0 1.6 0a0.8 0.8 0 1 0 -1.6 0M572.0 57.0a0.7 0.7 0 1 0 1.3 0a0.7 0.7 0 1 0 -1.3 0M552.0 47.2a0.8 0.8 0 1 0 1.6 0a0.8 0.8 0 1 0 -1.6 0M548.4 31.6a0.8 0.8 0 1 0 1.7 0a0.8 0.8 0 1 0 -1.7 0M594.2 64.6a0.5 0.5 0 1 0 1.1 0a0.5 0.5 0 1 0 -1.1 0M552.0 46.5a0.9 0.9 0 1 0 1.8 0a0.9 0.9 0 1 0 -1.8 0M586.0 93.2a0.6 0.6 0 1 0 1.2 0a0.6 0.6 0 1 0 -1.2 0M574.7 63.7a0.8 0.8 0 1 0 1.7 0a0.8 0.8 0 1 0 -1.7 0M552.5 89.5a0.7 0.7 0 1 0 1.4 0a0.7 0.7 0 1 0 -1.4 0M545.5 55.8a0.7 0.7 0 1 0 1.3 0a0.7 0.7 0 1 0 -1.3 0M594.6 93.6a0.7 0.7 0 1 0 1.4 0a0.7 0.7 0 1 0 -1.4 0M595.7 52.4a0.8 0.8 0 1 0 1.6 0a0.8 0.8 0 1 0 -1.6 0M551.3 79.4a0.6 0.6 0 1 0 1.1 0a0.6 0.6 0 1 0 -1.1 0M587.9 38.2a0.6 0.6 0 1 0 1.3 0a0.6 0.6 0 1 0 -1.3 0M555.6 49.5a0.7 0.7 0 1 0 1.5 0a0.7 0.7 0 1 0 -1.5 0M582.8 52.4a0.7 0.7 0 1 0 1.5 0a0.7 0.7 0 1 0 -1.5 0M607.4 50.1a0.7 0.7 0 1 0 1.5 0a0.7 0.7 0 1 0 -1.5 0M579.9 97.6a0.6 0.6 0 1 0 1.3 0a0.6 0.6 0 1 0 -1.3 0M596.5 40.6a0.6 0.6 0 1 0 1.2 0a0.6 0.6 0 1 0 -1.2 0M599.0 66.7a0.6 0.6 0 1 0 1.2 0a0.6 0.6 0 1 0 -1.2 0M548.1 85.7a0.7 0.7 0 1 0 1.3 0a0.7 0.7 0 1 0 -1.3 0M597.8 55.8a0.7 0.7 0 1 0 1.5 0a0.7 0.7 0 1 0 -1.5 0M585.7 97.2a0.9 0.9 0 1 0 1.7 0a0.9 0.9 0 1 0 -1.7 0M578.0 59.9a0.6 0.6 0 1 0 1.2 0a0.6 0.6 0 1 0 -1.2 0M600.7 30.6a0.6 0.6 0 1 0 1.2 0a0.6 0.6 0 1 0 -1.2 0M607.8 25.5a0.8 0.8 0 1 0 1.6 0a0.8 0.8 0 1 0 -1.6 0M586.6 64.9a0.6 0.6 0 1 0 1.3 0a0.6 0.6 0 1 0 -1.3 0M554.6 95.3a0.8 0.8 0 1 0 1.6 0a0.8 0.8 0 1 0 -1.6 0M604.5 30.3a0.8 0.8 0 1 0 1.6 0a0.8 0.8 0 1 0 -1.6 0M559.8 38.0a0.7 0.7 0 1 0 1.4 0a0.7 0.7 0 1 0 -1.4 0M589.6 32.0a0.8 0.8 0 1 0 1.6 0a0.8 0.8 0 1 0 -1.6 0M587.4 91.4a0.9 0.9 0 1 0 1.7 0a0.9 0.9 0 1 0 -1.7 0M595.6 50.6a0.9 0.9 0 1 0 1.8 0a0.9 0.9 0 1 0 -1.8 0M597.9 45.0a0.8 0.8 0 1 0 1.7 0a0.8 0.8 0 1 0 -1.7 0M598.7 43.0a0.6 0.6 0 1 0 1.2 0a0.6 0.6 0 1 0 -1.2 0M544.8 63.8a0.6 0.6 0 1 0 1.2 0a0.6 0.6 0 1 0 -1.2 0M565.6 42.1a0.6 0.6 0 1 0 1.1 0a0.6 0.6 0 1 0 -1.1 0M580.2 43.6a0.6 0.6 0 1 0 1.2 0a0.6 0.6 0 1 0 -1.2 0M564.2 61.7a0.8 0.8 0 1 0 1.7 0a0.8 0.8 0 1 0 -1.7 0M555.2 88.4a0.8 0.8 0 1 0 1.7 0a0.8 0.8 0 1 0 -1.7 0M589.6 64.3a0.8 0.8 0 1 0 1.6 0a0.8 0.8 0 1 0 -1.6 0M583.8 73.2a0.9 0.9 0 1 0 1.7 0a0.9 0.9 0 1 0 -1.7 0M602.5 42.6a0.5 0.5 0 1 0 1.0 0a0.5 0.5 0 1 0 -1.0 0M614.5 50.5a0.8 0.8 0 1 0 1.6 0a0.8 0.8 0 1 0 -1.6 0M561.0 57.4a0.6 0.6 0 1 0 1.3 0a0.6 0.6 0 1 0 -1.3 0M598.8 94.8a0.7 0.7 0 1 0 1.4 0a0.7 0.7 0 1 0 -1.4 0M586.5 49.4a0.6 0.6 0 1 0 1.2 0a0.6 0.6 0 1 0 -1.2 0M615.5 31.2a0.9 0.9 0 1 0 1.8 0a0.9 0.9 0 1 0 -1.8 0M593.1 28.3a0.9 0.9 0 1 0 1.7 0a0.9 0.9 0 1 0 -1.7 0M551.0 65.9a0.5 0.5 0 1 0 1.1 0a0.5 0.5 0 1 0 -1.1 0M618.5 46.4a0.8 0.8 0 1 0 1.7 0a0.8 0.8 0 1 0 -1.7 0M548.0 73.6a0.5 0.5 0 1 0 1.1 0a0.5 0.5 0 1 0 -1.1 0M545.2 66.4a0.9 0.9 0 1 0 1.8 0a0.9 0.9 0 1 0 -1.8 0M595.3 88.1a0.8 0.8 0 1 0 1.6 0a0.8 0.8 0 1 0 -1.6 0M582.9 28.7a0.7 0.7 0 1 0 1.4 0a0.7 0.7 0 1 0 -1.4 0M557.3 63.0a0.6 0.6 0 1 0 1.3 0a0.6 0.6 0 1 0 -1.3 0M581.1 37.9a0.8 0.8 0 1 0 1.6 0a0.8 0.8 0 1 0 -1.6 0M575.1 59.9a0.5 0.5 0 1 0 1.1 0a0.5 0.5 0 1 0 -1.1 0M580.1 65.3a0.9 0.9 0 1 0 1.8 0a0.9 0.9 0 1 0 -1.8 0M586.1 33.1a0.6 0.6 0 1 0 1.2 0a0.6 0.6 0 1 0 -1.2 0M568.6 76.4a0.9 0.9 0 1 0 1.8 0a0.9 0.9 0 1 0 -1.8 0M617.5 95.3a0.9 0.9 0 1 0 1.7 0a0.9 0.9 0 1 0 -1.7 0M608.9 94.1a0.5 0.5 0 1 0 1.0 0a0.5 0.5 0 1 0 -1.0 0M580.4 67.9a0.8 0.8 0 1 0 1.5 0a0.8 0.8 0 1 0 -1.5 0M589.7 69.6a0.9 0.9 0 1 0 1.7 0a0.9 0.9 0 1 0 -1.7 0M549.5 62.4a0.9 0.9 0 1 0 1.8 0a0.9 0.9 0 1 0 -1.8 0M545.4 31.3a0.8 0.8 0 1 0 1.7 0a0.8 0.8 0 1 0 -1.7 0M616.4 24.6a0.5 0.5 0 1 0 1.0 0a0.5 0.5 0 1 0 -1.0 0M606.5 75.3a0.7 0.7 0 1 0 1.4 0a0.7 0.7 0 1 0 -1.4 0M587.3 80.6a0.8 0.8 0 1 0 1.6 0a0.8 0.8 0 1 0 -1.6 0M543.0 28.0a0.8 0.8 0 1 0 1.6 0a0.8 0.8 0 1 0 -1.6 0M617.7 86.4a0.7 0.7 0 1 0 1.3 0a0.7 0.7 0 1 0 -1.3 0M568.9 49.3a0.5 0.5 0 1 0 1.0 0a0.5 0.5 0 1 0 -1.0 0M601.9 42.8a0.7 0.7 0 1 0 1.5 0a0.7 0.7 0 1 0 -1.5 0M583.2 48.4a0.8 0.8 0 1 0 1.5 0a0.8 0.8 0 1 0 -1.5 0M577.7 40.7a0.9 0.9 0 1 0 1.7 0a0.9 0.9 0 1 0 -1.7 0M556.6 34.2a0.6 0.6 0 1 0 1.2 0a0.6 0.6 0 1 0 -1.2 0M579.8 82.6a0.6 0.6 0 1 0 1.3 0a0.6 0.6 0 1 0 -1.3 0M561.4 72.7a0.6 0.6 0 1 0 1.2 0a0.6 0.6 0 1 0 -1.2 0M582.9 42.3a0.9 0.9 0 1 0 1.7 0a0.9 0.9 0 1 0 -1.7 0M557.3 40.5a0.6 0.6 0 1 0 1.2 0a0.6 0.6 0 1 0 -1.2 0M568.2 78.2a0.8 0.8 0 1 0 1.5 0a0.8 0.8 0 1 0 -1.5 0M603.6 64.0a0.5 0.5 0 1 0 1.1 0a0.5 0.5 0 1 0 -1.1 0M601.5 41.5a0.6 0.6 0 1 0 1.2 0a0.6 0.6 0 1 0 -1.2 0M574.8 98.3a0.6 0.6 0 1 0 1.3 0a0.6 0.6 0 1 0 -1.3 0M570.1 92.3a0.9 0.9 0 1 0 1.8 0a0.9 0.9 0 1 0 -1.8 0M572.6 33.1a0.8 0.8 0 1 0 1.6 0a0.8 0.8 0 1 0 -1.6 0M602.8 48.6a0.8 0.8 0 1 0 1.6 0a0.8 0.8 0 1 0 -1.6 0M572.1 44.7a0.7 0.7 0 1 0 1.5 0a0.7 0.7 0 1 0 -1.5 0M599.6 59.1a0.8 0.8 0 1 0 1.7 0a0.8 0.8 0 1 0 -1.7 0M544.2 60.9a0.7 0.7 0 1 0 1.3 0a0.7 0.7 0 1 0 -1.3 0M548.2 92.6a0.6 0.6 0 1 0 1.1 0a0.6 0.6 0 1 0 -1.1 0M558.6 89.8a0.9 0.9 0 1 0 1.8 0a0.9 0.9 0 1 0 -1.8 0M614.1 48.9a0.9 0.9 0 1 0 1.7 0a0.9 0.9 0 1 0 -1.7 0M553.8 77.3a0.9 0.9 0 1 0 1.8 0a0.9 0.9 0 1 0 -1.8 0M557.7 33.2a0.8 0.8 0 1 0 1.5 0a0.8 0.8 0 1 0 -1.5 0M610.3 78.2a0.9 0.9 0 1 0 1.8 0a0.9 0.9 0 1 0 -1.8 0M577.9 51.2a0.5 0.5 0 1 0 1.1 0a0.5 0.5 0 1 0 -1.1 0M564.1 94.4a0.5 0.5 0 1 0 1.1 0a0.5 0.5 0 1 0 -1.1 0M557.4 49.3a0.5 0.5 0 1 0 1.0 0a0.5 0.5 0 1 0 -1.0 0M566.7 36.8a0.5 0.5 0 1 0 1.1 0a0.5 0.5 0 1 0 -1.1 0M583.3 64.0a0.7 0.7 0 1 0 1.5 0a0.7 0.7 0 1 0 -1.5 0M601.2 63.0a0.9 0.9 0 1 0 1.8 0a0.9 0.9 0 1 0 -1.8 0M549.5 39.8a0.5 0.5 0 1 0 1.1 0a0.5 0.5 0 1 0 -1.1 0M566.6 80.8a0.9 0.9 0 1 0 1.7 0a0.9 0.9 0 1 0 -1.7 0M581.7 35.0a0.6 0.6 0 1 0 1.3 0a0.6 0.6 0 1 0 -1.3 0M586.4 45.3a0.8 0.8 0 1 0 1.6 0a0.8 0.8 0 1 0 -1.6 0M617.4 57.9a0.7 0.7 0 1 0 1.5 0a0.7 0.7 0 1 0 -1.5 0M607.9 58.3a0.6 0.6 0 1 0 1.2 0a0.6 0.6 0 1 0 -1.2 0M615.4 97.4a0.5 0.5 0 1 0 1.0 0a0.5 0.5 0 1 0 -1.0 0M601.5 53.4a0.5 0.5 0 1 0 1.0 0a0.5 0.5 0 1 0 -1.0 0M555.4 36.0a0.8 0.8 0 1 0 1.6 0a0.8 0.8 0 1 0 -1.6 0M559.4 24.3a0.6 0.6 0 1 0 1.2 0a0.6 0.6 0 1 0 -1.2 0M604.1 60.9a0.8 0.8 0 1 0 1.5 0a0.8 0.8 0 1 0 -1.5 0M578.8 36.7a0.5 0.5 0 1 0 1.0 0a0.5 0.5 0 1 0 -1.0 0M566.4 26.0a0.6 0.6 0 1 0 1.2 0a0.6 0.6 0 1 0 -1.2 0M590.4 51.0a0.7 0.7 0 1 0 1.4 0a0.7 0.7 0 1 0 -1.4 0M590.8 47.0a0.6 0.6 0 1 0 1.3 0a0.6 0.6 0 1 0 -1.3 0M610.7 67.1a0.7 0.7 0 1 0 1.3 0a0.7 0.7 0 1 0 -1.3 0M584.4 57.9a0.6 0.6 0 1 0 1.3 0a0.6 0.6 0 1 0 -1.3 0M612.7 40.6a0.9 0.9 0 1 0 1.7 0a0.9 0.9 0 1 0 -1.7 0M608.4 90.1a0.6 0.6 0 1 0 1.1 0a0.6 0.6 0 1 0 -1.1 0M582.1 97.9a0.6 0.6 0 1 0 1.2 0a0.6 0.6 0 1 0 -1.2 0M556.3 78.0a0.6 0.6 0 1 0 1.2 0a0.6 0.6 0 1 0 -1.2 0M587.5 34.8a0.9 0.9 0 1 0 1.8 0a0.9 0.9 0 1 0 -1.8 0M564.7 30.2a0.8 0.8 0 1 0 1.5 0a0.8 0.8 0 1 0 -1.5 0M569.6 65.5a0.7 0.7 0 1 0 1.4 0a0.7 0.7 0 1 0 -1.4 0M613.6 62.0a0.7 0.7 0 1 0 1.3 0a0.7 0.7 0 1 0 -1.3 0M543.3 60.7a0.6 0.6 0 1 0 1.2 0a0.6 0.6 0 1 0 -1.2 0M587.0 71.0a0.7 0.7 0 1 0 1.4 0a0.7 0.7 0 1 0 -1.4 0M550.0 60.8a0.7 0.7 0 1 0 1.4 0a0.7 0.7 0 1 0 -1.4 0M592.2 96.8a0.6 0.6 0 1 0 1.2 0a0.6 0.6 0 1 0 -1.2 0M576.8 29.3a0.8 0.8 0 1 0 1.6 0a0.8 0.8 0 1 0 -1.6 0M560.9 86.1a0.8 0.8 0 1 0 1.6 0a0.8 0.8 0 1 0 -1.6 0M562.6 91.7a0.7 0.7 0 1 0 1.4 0a0.7 0.7 0 1 0 -1.4 0M575.5 65.2a0.9 0.9 0 1 0 1.8 0a0.9 0.9 0 1 0 -1.8 0M580.6 59.6a0.6 0.6 0 1 0 1.2 0a0.6 0.6 0 1 0 -1.2 0M607.4 61.2a0.6 0.6 0 1 0 1.3 0a0.6 0.6 0 1 0 -1.3 0M558.0 39.2a0.8 0.8 0 1 0 1.7 0a0.8 0.8 0 1 0 -1.7 0M604.3 97.5a0.9 0.9 0 1 0 1.7 0a0.9 0.9 0 1 0 -1.7 0M595.4 83.6a0.8 0.8 0 1 0 1.6 0a0.8 0.8 0 1 0 -1.6 0M605.1 83.9a0.6 0.6 0 1 0 1.1 0a0.6 0.6 0 1 0 -1.1 0M605.4 45.9a0.6 0.6 0 1 0 1.2 0a0.6 0.6 0 1 0 -1.2 0M613.3 24.5a0.7 0.7 0 1 0 1.4 0a0.7 0.7 0 1 0 -1.4 0M569.3 83.2a0.7 0.7 0 1 0 1.5 0a0.7 0.7 0 1 0 -1.5 0M612.6 93.9a0.8 0.8 0 1 0 1.5 0a0.8 0.8 0 1 0 -1.5 0M548.2 73.7a0.5 0.5 0 1 0 1.1 0a0.5 0.5 0 1 0 -1.1 0M618.2 89.3a0.6 0.6 0 1 0 1.2 0a0.6 0.6 0 1 0 -1.2 0M557.2 75.8a0.8 0.8 0 1 0 1.6 0a0.8 0.8 0 1 0 -1.6 0M618.5 70.3a0.6 0.6 0 1 0 1.1 0a0.6 0.6 0 1 0 -1.1 0M598.5 27.3a0.8 0.8 0 1 0 1.7 0a0.8 0.8 0 1 0 -1.7 0M601.7 82.7a0.8 0.8 0 1 0 1.7 0a0.8 0.8 0 1 0 -1.7 0M586.5 94.8a0.8 0.8 0 1 0 1.5 0a0.8 0.8 0 1 0 -1.5 0M580.7 52.1a0.6 0.6 0 1 0 1.3 0a0.6 0.6 0 1 0 -1.3 0M544.7 35.1a0.8 0.8 0 1 0 1.6 0a0.8 0.8 0 1 0 -1.6 0M560.5 72.7a0.8 0.8 0 1 0 1.6 0a0.8 0.8 0 1 0 -1.6 0M596.2 62.2a0.6 0.6 0 1 0 1.3 0a0.6 0.6 0 1 0 -1.3 0M563.9 37.1a0.8 0.8 0 1 0 1.5 0a0.8 0.8 0 1 0 -1.5 0M595.6 94.7a0.6 0.6 0 1 0 1.3 0a0.6 0.6 0 1 0 -1.3 0M614.0 92.3a0.6 0.6 0 1 0 1.2 0a0.6 0.6 0 1 0 -1.2 0M615.7 70.1a0.9 0.9 0 1 0 1.8 0a0.9 0.9 0 1 0 -1.8 0M602.3 48.2a0.6 0.6 0 1 0 1.2 0a0.6 0.6 0 1 0 -1.2 0M583.2 60.0a0.5 0.5 0 1 0 1.0 0a0.5 0.5 0 1 0 -1.0 0M609.0 63.7a0.7 0.7 0 1 0 1.4 0a0.7 0.7 0 1 0 -1.4 0M600.1 41.9a0.6 0.6 0 1 0 1.2 0a0.6 0.6 0 1 0 -1.2 0M587.5 41.2a0.6 0.6 0 1 0 1.3 0a0.6 0.6 0 1 0 -1.3 0M548.5 26.8a0.6 0.6 0 1 0 1.3 0a0.6 0.6 0 1 0 -1.3 0M583.3 95.2a0.8 0.8 0 1 0 1.5 0a0.8 0.8 0 1 0 -1.5 0M574.9 53.8a0.6 0.6 0 1 0 1.2 0a0.6 0.6 0 1 0 -1.2 0M579.5 96.0a0.5 0.5 0 1 0 1.1 0a0.5 0.5 0 1 0 -1.1 0M576.1 75.1a0.8 0.8 0 1 0 1.6 0a0.8 0.8 0 1 0 -1.6 0M585.3 71.7a0.9 0.9 0 1 0 1.8 0a0.9 0.9 0 1 0 -1.8 0M612.0 42.0a0.7 0.7 0 1 0 1.4 0a0.7 0.7 0 1 0 -1.4 0M619.4 63.1a0.6 0.6 0 1 0 1.2 0a0.6 0.6 0 1 0 -1.2 0M601.8 27.1a0.6 0.6 0 1 0 1.1 0a0.6 0.6 0 1 0 -1.1 0M585.1 43.6a0.8 0.8 0 1 0 1.6 0a0.8 0.8 0 1 0 -1.6 0M598.5 47.2a0.8 0.8 0 1 0 1.6 0a0.8 0.8 0 1 0 -1.6 0M592.6 76.7a0.7 0.7 0 1 0 1.4 0a0.7 0.7 0 1 0 -1.4 0M576.2 30.9a0.7 0.7 0 1 0 1.4 0a0.7 0.7 0 1 0 -1.4 0M616.2 90.6a0.5 0.5 0 1 0 1.0 0a0.5 0.5 0 1 0 -1.0 0M548.4 43.4a0.8 0.8 0 1 0 1.6 0a0.8 0.8 0 1 0 -1.6 0M576.6 32.6a0.7 0.7 0 1 0 1.3 0a0.7 0.7 0 1 0 -1.3 0M586.9 79.6a0.7 0.7 0 1 0 1.3 0a0.7 0.7 0 1 0 -1.3 0M592.7 74.8a0.7 0.7 0 1 0 1.5 0a0.7 0.7 0 1 0 -1.5 0M546.8 77.0a0.6 0.6 0 1 0 1.1 0a0.6 0.6 0 1 0 -1.1 0M547.5 58.9a0.5 0.5 0 1 0 1.0 0a0.5 0.5 0 1 0 -1.0 0M548.7 52.6a0.7 0.7 0 1 0 1.4 0a0.7 0.7 0 1 0 -1.4 0M551.0 95.6a0.8 0.8 0 1 0 1.7 0a0.8 0.8 0 1 0 -1.7 0M580.4 67.6a0.6 0.6 0 1 0 1.3 0a0.6 0.6 0 1 0 -1.3 0M618.3 31.9a0.6 0.6 0 1 0 1.2 0a0.6 0.6 0 1 0 -1.2 0M560.0 88.9a0.7 0.7 0 1 0 1.4 0a0.7 0.7 0 1 0 -1.4 0M574.3 53.2a0.9 0.9 0 1 0 1.7 0a0.9 0.9 0 1 0 -1.7 0M562.7 83.2a0.8 0.8 0 1 0 1.6 0a0.8 0.8 0 1 0 -1.6 0M577.4 50.7a0.7 0.7 0 1 0 1.3 0a0.7 0.7 0 1 0 -1.3 0M577.7 46.9a0.7 0.7 0 1 0 1.5 0a0.7 0.7 0 1 0 -1.5 0M574.4 46.0a0.8 0.8 0 1 0 1.6 0a0.8 0.8 0 1 0 -1.6 0M577.7 58.9a0.9 0.9 0 1 0 1.7 0a0.9 0.9 0 1 0 -1.7 0M577.7 51.5a0.9 0.9 0 1 0 1.7 0a0.9 0.9 0 1 0 -1.7 0M617.7 82.7a0.7 0.7 0 1 0 1.3 0a0.7 0.7 0 1 0 -1.3 0M594.5 79.3a0.6 0.6 0 1 0 1.2 0a0.6 0.6 0 1 0 -1.2 0M598.4 95.3a0.8 0.8 0 1 0 1.5 0a0.8 0.8 0 1 0 -1.5 0M594.1 56.0a0.8 0.8 0 1 0 1.5 0a0.8 0.8 0 1 0 -1.5 0M560.3 81.6a0.7 0.7 0 1 0 1.4 0a0.7 0.7 0 1 0 -1.4 0M617.9 48.9a0.8 0.8 0 1 0 1.6 0a0.8 0.8 0 1 0 -1.6 0M544.3 54.6a0.8 0.8 0 1 0 1.6 0a0.8 0.8 0 1 0 -1.6 0M563.0 69.6a0.6 0.6 0 1 0 1.2 0a0.6 0.6 0 1 0 -1.2 0M573.7 98.6a0.6 0.6 0 1 0 1.2 0a0.6 0.6 0 1 0 -1.2 0M612.8 27.4a0.7 0.7 0 1 0 1.5 0a0.7 0.7 0 1 0 -1.5 0M605.9 86.7a0.7 0.7 0 1 0 1.3 0a0.7 0.7 0 1 0 -1.3 0M588.1 77.1a0.8 0.8 0 1 0 1.6 0a0.8 0.8 0 1 0 -1.6 0M600.2 67.0a0.6 0.6 0 1 0 1.2 0a0.6 0.6 0 1 0 -1.2 0M597.0 65.6a0.7 0.7 0 1 0 1.4 0a0.7 0.7 0 1 0 -1.4 0M618.4 33.2a0.8 0.8 0 1 0 1.6 0a0.8 0.8 0 1 0 -1.6 0M567.7 78.2a0.9 0.9 0 1 0 1.8 0a0.9 0.9 0 1 0 -1.8 0M564.1 66.1a0.7 0.7 0 1 0 1.4 0a0.7 0.7 0 1 0 -1.4 0M580.9 35.5a0.8 0.8 0 1 0 1.5 0a0.8 0.8 0 1 0 -1.5 0M611.4 73.4a0.6 0.6 0 1 0 1.2 0a0.6 0.6 0 1 0 -1.2 0M604.8 54.8a0.6 0.6 0 1 0 1.1 0a0.6 0.6 0 1 0 -1.1 0M589.4 57.9a0.7 0.7 0 1 0 1.4 0a0.7 0.7 0 1 0 -1.4 0M618.6 66.2a0.9 0.9 0 1 0 1.8 0a0.9 0.9 0 1 0 -1.8 0M570.2 80.7a0.5 0.5 0 1 0 1.1 0a0.5 0.5 0 1 0 -1.1 0M566.0 75.6a0.8 0.8 0 1 0 1.6 0a0.8 0.8 0 1 0 -1.6 0M606.5 51.8a0.6 0.6 0 1 0 1.2 0a0.6 0.6 0 1 0 -1.2 0M570.7 63.8a0.5 0.5 0 1 0 1.0 0a0.5 0.5 0 1 0 -1.0 0M571.9 72.9a0.6 0.6 0 1 0 1.1 0a0.6 0.6 0 1 0 -1.1 0M566.7 89.4a0.9 0.9 0 1 0 1.7 0a0.9 0.9 0 1 0 -1.7 0M562.3 36.4a0.5 0.5 0 1 0 1.1 0a0.5 0.5 0 1 0 -1.1 0M549.6 83.4a0.8 0.8 0 1 0 1.6 0a0.8 0.8 0 1 0 -1.6 0M563.2 60.1a0.8 0.8 0 1 0 1.6 0a0.8 0.8 0 1 0 -1.6 0M545.1 85.3a0.8 0.8 0 1 0 1.7 0a0.8 0.8 0 1 0 -1.7 0M559.2 76.5a0.8 0.8 0 1 0 1.6 0a0.8 0.8 0 1 0 -1.6 0M569.0 89.8a0.6 0.6 0 1 0 1.2 0a0.6 0.6 0 1 0 -1.2 0" fill="#64201b" opacity="0.85"/>
<path d="M579.3 46.7a0.7 0.7 0 1 0 1.4 0a0.7 0.7 0 1 0 -1.4 0M605.1 66.3a0.7 0.7 0 1 0 1.5 0a0.7 0.7 0 1 0 -1.5 0M618.6 39.8a0.6 0.6 0 1 0 1.2 0a0.6 0.6 0 1 0 -1.2 0M590.3 34.3a0.9 0.9 0 1 0 1.8 0a0.9 0.9 0 1 0 -1.8 0M569.2 56.4a0.7 0.7 0 1 0 1.3 0a0.7 0.7 0 1 0 -1.3 0M606.3 92.6a0.8 0.8 0 1 0 1.5 0a0.8 0.8 0 1 0 -1.5 0M556.1 49.9a0.8 0.8 0 1 0 1.6 0a0.8 0.8 0 1 0 -1.6 0M559.5 90.1a0.8 0.8 0 1 0 1.7 0a0.8 0.8 0 1 0 -1.7 0M560.5 50.6a0.6 0.6 0 1 0 1.2 0a0.6 0.6 0 1 0 -1.2 0M597.9 26.4a0.8 0.8 0 1 0 1.6 0a0.8 0.8 0 1 0 -1.6 0M547.9 87.0a0.7 0.7 0 1 0 1.4 0a0.7 0.7 0 1 0 -1.4 0M587.8 30.1a0.5 0.5 0 1 0 1.0 0a0.5 0.5 0 1 0 -1.0 0M570.0 97.9a0.7 0.7 0 1 0 1.5 0a0.7 0.7 0 1 0 -1.5 0M609.1 27.6a0.5 0.5 0 1 0 1.1 0a0.5 0.5 0 1 0 -1.1 0M544.8 76.0a0.6 0.6 0 1 0 1.1 0a0.6 0.6 0 1 0 -1.1 0M563.9 73.7a0.8 0.8 0 1 0 1.6 0a0.8 0.8 0 1 0 -1.6 0M567.8 58.5a0.6 0.6 0 1 0 1.2 0a0.6 0.6 0 1 0 -1.2 0M586.0 50.0a0.6 0.6 0 1 0 1.3 0a0.6 0.6 0 1 0 -1.3 0M562.2 45.1a0.6 0.6 0 1 0 1.2 0a0.6 0.6 0 1 0 -1.2 0M544.3 46.5a0.7 0.7 0 1 0 1.5 0a0.7 0.7 0 1 0 -1.5 0M563.5 31.4a0.8 0.8 0 1 0 1.7 0a0.8 0.8 0 1 0 -1.7 0M579.0 61.8a0.6 0.6 0 1 0 1.2 0a0.6 0.6 0 1 0 -1.2 0M610.8 80.3a0.7 0.7 0 1 0 1.5 0a0.7 0.7 0 1 0 -1.5 0M593.5 75.6a0.7 0.7 0 1 0 1.4 0a0.7 0.7 0 1 0 -1.4 0M574.7 52.6a0.7 0.7 0 1 0 1.4 0a0.7 0.7 0 1 0 -1.4 0M578.9 63.2a0.7 0.7 0 1 0 1.4 0a0.7 0.7 0 1 0 -1.4 0M603.5 90.9a0.6 0.6 0 1 0 1.2 0a0.6 0.6 0 1 0 -1.2 0M545.0 45.8a0.5 0.5 0 1 0 1.0 0a0.5 0.5 0 1 0 -1.0 0M604.0 70.1a0.6 0.6 0 1 0 1.2 0a0.6 0.6 0 1 0 -1.2 0M557.6 89.1a0.8 0.8 0 1 0 1.7 0a0.8 0.8 0 1 0 -1.7 0M595.2 75.6a0.8 0.8 0 1 0 1.6 0a0.8 0.8 0 1 0 -1.6 0M577.8 53.1a0.7 0.7 0 1 0 1.4 0a0.7 0.7 0 1 0 -1.4 0M610.2 98.4a0.9 0.9 0 1 0 1.7 0a0.9 0.9 0 1 0 -1.7 0M607.0 28.5a0.6 0.6 0 1 0 1.2 0a0.6 0.6 0 1 0 -1.2 0M617.3 64.3a0.7 0.7 0 1 0 1.4 0a0.7 0.7 0 1 0 -1.4 0M566.8 88.6a0.7 0.7 0 1 0 1.4 0a0.7 0.7 0 1 0 -1.4 0M618.6 28.6a0.9 0.9 0 1 0 1.8 0a0.9 0.9 0 1 0 -1.8 0M544.2 34.1a0.7 0.7 0 1 0 1.3 0a0.7 0.7 0 1 0 -1.3 0M591.9 31.2a0.7 0.7 0 1 0 1.4 0a0.7 0.7 0 1 0 -1.4 0M614.8 56.0a0.8 0.8 0 1 0 1.6 0a0.8 0.8 0 1 0 -1.6 0M588.5 67.2a0.6 0.6 0 1 0 1.1 0a0.6 0.6 0 1 0 -1.1 0M578.5 91.5a0.8 0.8 0 1 0 1.5 0a0.8 0.8 0 1 0 -1.5 0M559.6 56.9a0.7 0.7 0 1 0 1.4 0a0.7 0.7 0 1 0 -1.4 0M568.8 66.9a0.8 0.8 0 1 0 1.5 0a0.8 0.8 0 1 0 -1.5 0M544.4 39.6a0.8 0.8 0 1 0 1.5 0a0.8 0.8 0 1 0 -1.5 0M559.4 28.4a0.8 0.8 0 1 0 1.6 0a0.8 0.8 0 1 0 -1.6 0M568.6 95.9a0.7 0.7 0 1 0 1.4 0a0.7 0.7 0 1 0 -1.4 0M550.9 71.4a0.6 0.6 0 1 0 1.2 0a0.6 0.6 0 1 0 -1.2 0M605.2 78.1a0.8 0.8 0 1 0 1.6 0a0.8 0.8 0 1 0 -1.6 0M547.4 25.4a0.8 0.8 0 1 0 1.6 0a0.8 0.8 0 1 0 -1.6 0M554.0 38.2a0.5 0.5 0 1 0 1.0 0a0.5 0.5 0 1 0 -1.0 0M555.4 58.9a0.9 0.9 0 1 0 1.8 0a0.9 0.9 0 1 0 -1.8 0M567.5 42.6a0.8 0.8 0 1 0 1.7 0a0.8 0.8 0 1 0 -1.7 0M557.1 71.3a0.7 0.7 0 1 0 1.5 0a0.7 0.7 0 1 0 -1.5 0M614.5 26.1a0.7 0.7 0 1 0 1.5 0a0.7 0.7 0 1 0 -1.5 0M572.4 85.6a0.6 0.6 0 1 0 1.2 0a0.6 0.6 0 1 0 -1.2 0M597.7 36.9a0.7 0.7 0 1 0 1.4 0a0.7 0.7 0 1 0 -1.4 0M617.2 41.1a0.6 0.6 0 1 0 1.2 0a0.6 0.6 0 1 0 -1.2 0M613.4 74.3a0.5 0.5 0 1 0 1.1 0a0.5 0.5 0 1 0 -1.1 0M557.4 40.9a0.6 0.6 0 1 0 1.2 0a0.6 0.6 0 1 0 -1.2 0M607.4 76.2a0.9 0.9 0 1 0 1.8 0a0.9 0.9 0 1 0 -1.8 0M594.3 70.7a0.7 0.7 0 1 0 1.3 0a0.7 0.7 0 1 0 -1.3 0M598.1 60.5a0.5 0.5 0 1 0 1.0 0a0.5 0.5 0 1 0 -1.0 0M580.7 52.1a0.7 0.7 0 1 0 1.4 0a0.7 0.7 0 1 0 -1.4 0M546.6 24.9a0.9 0.9 0 1 0 1.8 0a0.9 0.9 0 1 0 -1.8 0M571.6 48.0a0.6 0.6 0 1 0 1.1 0a0.6 0.6 0 1 0 -1.1 0M588.5 92.6a0.6 0.6 0 1 0 1.1 0a0.6 0.6 0 1 0 -1.1 0M581.2 60.9a0.8 0.8 0 1 0 1.6 0a0.8 0.8 0 1 0 -1.6 0M586.4 41.0a0.6 0.6 0 1 0 1.2 0a0.6 0.6 0 1 0 -1.2 0M598.3 28.8a0.8 0.8 0 1 0 1.7 0a0.8 0.8 0 1 0 -1.7 0M545.7 37.3a0.7 0.7 0 1 0 1.4 0a0.7 0.7 0 1 0 -1.4 0M607.5 70.1a0.8 0.8 0 1 0 1.6 0a0.8 0.8 0 1 0 -1.6 0M601.4 77.9a0.5 0.5 0 1 0 1.0 0a0.5 0.5 0 1 0 -1.0 0M606.3 34.1a0.6 0.6 0 1 0 1.1 0a0.6 0.6 0 1 0 -1.1 0M545.8 25.0a0.9 0.9 0 1 0 1.7 0a0.9 0.9 0 1 0 -1.7 0M572.4 29.4a0.5 0.5 0 1 0 1.0 0a0.5 0.5 0 1 0 -1.0 0M607.6 68.7a0.9 0.9 0 1 0 1.7 0a0.9 0.9 0 1 0 -1.7 0M546.0 31.4a0.6 0.6 0 1 0 1.2 0a0.6 0.6 0 1 0 -1.2 0M557.8 31.4a0.6 0.6 0 1 0 1.2 0a0.6 0.6 0 1 0 -1.2 0M592.2 35.6a0.6 0.6 0 1 0 1.1 0a0.6 0.6 0 1 0 -1.1 0M584.2 51.5a0.6 0.6 0 1 0 1.1 0a0.6 0.6 0 1 0 -1.1 0M586.6 61.6a0.7 0.7 0 1 0 1.3 0a0.7 0.7 0 1 0 -1.3 0M579.3 25.8a0.7 0.7 0 1 0 1.5 0a0.7 0.7 0 1 0 -1.5 0M558.1 48.4a0.5 0.5 0 1 0 1.0 0a0.5 0.5 0 1 0 -1.0 0M611.0 67.6a0.7 0.7 0 1 0 1.3 0a0.7 0.7 0 1 0 -1.3 0M584.6 94.5a0.6 0.6 0 1 0 1.1 0a0.6 0.6 0 1 0 -1.1 0M572.4 76.8a0.6 0.6 0 1 0 1.3 0a0.6 0.6 0 1 0 -1.3 0M597.3 92.1a0.5 0.5 0 1 0 1.0 0a0.5 0.5 0 1 0 -1.0 0M564.7 45.1a0.8 0.8 0 1 0 1.6 0a0.8 0.8 0 1 0 -1.6 0M602.9 76.2a0.9 0.9 0 1 0 1.7 0a0.9 0.9 0 1 0 -1.7 0M557.1 52.8a0.8 0.8 0 1 0 1.7 0a0.8 0.8 0 1 0 -1.7 0M601.4 31.4a0.9 0.9 0 1 0 1.8 0a0.9 0.9 0 1 0 -1.8 0M599.7 88.9a0.6 0.6 0 1 0 1.3 0a0.6 0.6 0 1 0 -1.3 0M589.2 96.0a0.9 0.9 0 1 0 1.7 0a0.9 0.9 0 1 0 -1.7 0M587.0 90.7a0.9 0.9 0 1 0 1.8 0a0.9 0.9 0 1 0 -1.8 0M607.0 72.8a0.9 0.9 0 1 0 1.8 0a0.9 0.9 0 1 0 -1.8 0M554.1 53.6a0.7 0.7 0 1 0 1.5 0a0.7 0.7 0 1 0 -1.5 0M553.3 82.4a0.5 0.5 0 1 0 1.0 0a0.5 0.5 0 1 0 -1.0 0M591.2 44.1a0.6 0.6 0 1 0 1.3 0a0.6 0.6 0 1 0 -1.3 0M589.5 37.4a0.7 0.7 0 1 0 1.4 0a0.7 0.7 0 1 0 -1.4 0M608.7 98.1a0.6 0.6 0 1 0 1.2 0a0.6 0.6 0 1 0 -1.2 0M571.2 75.7a0.6 0.6 0 1 0 1.2 0a0.6 0.6 0 1 0 -1.2 0M608.0 38.0a0.7 0.7 0 1 0 1.4 0a0.7 0.7 0 1 0 -1.4 0M569.2 22.9a0.5 0.5 0 1 0 1.0 0a0.5 0.5 0 1 0 -1.0 0M543.3 47.8a0.6 0.6 0 1 0 1.2 0a0.6 0.6 0 1 0 -1.2 0M619.0 71.5a0.5 0.5 0 1 0 1.1 0a0.5 0.5 0 1 0 -1.1 0M597.8 40.5a0.7 0.7 0 1 0 1.4 0a0.7 0.7 0 1 0 -1.4 0M598.1 88.2a0.9 0.9 0 1 0 1.7 0a0.9 0.9 0 1 0 -1.7 0M575.3 47.0a0.7 0.7 0 1 0 1.3 0a0.7 0.7 0 1 0 -1.3 0M567.0 79.4a0.7 0.7 0 1 0 1.4 0a0.7 0.7 0 1 0 -1.4 0M595.4 34.4a0.8 0.8 0 1 0 1.6 0a0.8 0.8 0 1 0 -1.6 0M616.9 38.3a0.7 0.7 0 1 0 1.5 0a0.7 0.7 0 1 0 -1.5 0M555.5 25.5a0.7 0.7 0 1 0 1.3 0a0.7 0.7 0 1 0 -1.3 0M557.1 78.6a0.7 0.7 0 1 0 1.5 0a0.7 0.7 0 1 0 -1.5 0M594.8 96.7a0.5 0.5 0 1 0 1.0 0a0.5 0.5 0 1 0 -1.0 0M550.6 25.5a0.7 0.7 0 1 0 1.4 0a0.7 0.7 0 1 0 -1.4 0M606.1 75.0a0.7 0.7 0 1 0 1.4 0a0.7 0.7 0 1 0 -1.4 0M608.7 51.2a0.5 0.5 0 1 0 1.1 0a0.5 0.5 0 1 0 -1.1 0M592.2 24.8a0.6 0.6 0 1 0 1.2 0a0.6 0.6 0 1 0 -1.2 0M545.6 35.1a0.5 0.5 0 1 0 1.1 0a0.5 0.5 0 1 0 -1.1 0M583.7 32.6a0.7 0.7 0 1 0 1.5 0a0.7 0.7 0 1 0 -1.5 0M606.2 49.1a0.5 0.5 0 1 0 1.1 0a0.5 0.5 0 1 0 -1.1 0M594.2 78.4a0.9 0.9 0 1 0 1.7 0a0.9 0.9 0 1 0 -1.7 0M585.3 67.2a0.8 0.8 0 1 0 1.7 0a0.8 0.8 0 1 0 -1.7 0M594.9 97.2a0.6 0.6 0 1 0 1.2 0a0.6 0.6 0 1 0 -1.2 0M602.3 71.1a0.7 0.7 0 1 0 1.4 0a0.7 0.7 0 1 0 -1.4 0M544.0 59.2a0.6 0.6 0 1 0 1.2 0a0.6 0.6 0 1 0 -1.2 0M589.1 61.7a0.7 0.7 0 1 0 1.4 0a0.7 0.7 0 1 0 -1.4 0M547.5 32.8a0.7 0.7 0 1 0 1.5 0a0.7 0.7 0 1 0 -1.5 0M595.1 98.4a0.8 0.8 0 1 0 1.6 0a0.8 0.8 0 1 0 -1.6 0M565.3 57.6a0.7 0.7 0 1 0 1.4 0a0.7 0.7 0 1 0 -1.4 0M604.4 52.9a0.9 0.9 0 1 0 1.7 0a0.9 0.9 0 1 0 -1.7 0M580.1 53.2a0.7 0.7 0 1 0 1.4 0a0.7 0.7 0 1 0 -1.4 0M570.6 99.1a0.5 0.5 0 1 0 1.0 0a0.5 0.5 0 1 0 -1.0 0M573.6 28.9a0.8 0.8 0 1 0 1.5 0a0.8 0.8 0 1 0 -1.5 0M554.6 34.2a0.7 0.7 0 1 0 1.3 0a0.7 0.7 0 1 0 -1.3 0M589.1 81.1a0.7 0.7 0 1 0 1.4 0a0.7 0.7 0 1 0 -1.4 0M565.5 50.9a0.9 0.9 0 1 0 1.7 0a0.9 0.9 0 1 0 -1.7 0M559.2 23.7a0.9 0.9 0 1 0 1.7 0a0.9 0.9 0 1 0 -1.7 0M580.1 32.9a0.6 0.6 0 1 0 1.1 0a0.6 0.6 0 1 0 -1.1 0M611.3 80.0a0.5 0.5 0 1 0 1.1 0a0.5 0.5 0 1 0 -1.1 0M594.7 39.1a0.7 0.7 0 1 0 1.4 0a0.7 0.7 0 1 0 -1.4 0M589.2 26.7a0.9 0.9 0 1 0 1.7 0a0.9 0.9 0 1 0 -1.7 0M568.6 33.8a0.8 0.8 0 1 0 1.6 0a0.8 0.8 0 1 0 -1.6 0M551.4 25.6a0.8 0.8 0 1 0 1.5 0a0.8 0.8 0 1 0 -1.5 0M578.9 91.5a0.8 0.8 0 1 0 1.6 0a0.8 0.8 0 1 0 -1.6 0M558.8 26.2a0.7 0.7 0 1 0 1.5 0a0.7 0.7 0 1 0 -1.5 0M578.9 45.8a0.9 0.9 0 1 0 1.7 0a0.9 0.9 0 1 0 -1.7 0M559.2 71.9a0.5 0.5 0 1 0 1.1 0a0.5 0.5 0 1 0 -1.1 0M613.6 95.2a0.7 0.7 0 1 0 1.5 0a0.7 0.7 0 1 0 -1.5 0M567.4 78.0a0.9 0.9 0 1 0 1.7 0a0.9 0.9 0 1 0 -1.7 0M603.8 25.9a0.7 0.7 0 1 0 1.4 0a0.7 0.7 0 1 0 -1.4 0M553.6 64.5a0.9 0.9 0 1 0 1.8 0a0.9 0.9 0 1 0 -1.8 0M609.2 41.8a0.7 0.7 0 1 0 1.4 0a0.7 0.7 0 1 0 -1.4 0M567.3 35.7a0.8 0.8 0 1 0 1.6 0a0.8 0.8 0 1 0 -1.6 0M601.1 48.5a0.7 0.7 0 1 0 1.3 0a0.7 0.7 0 1 0 -1.3 0M596.3 78.3a0.7 0.7 0 1 0 1.4 0a0.7 0.7 0 1 0 -1.4 0M552.3 30.1a0.6 0.6 0 1 0 1.1 0a0.6 0.6 0 1 0 -1.1 0M606.2 60.7a0.8 0.8 0 1 0 1.5 0a0.8 0.8 0 1 0 -1.5 0M571.1 50.9a0.6 0.6 0 1 0 1.1 0a0.6 0.6 0 1 0 -1.1 0M617.7 69.0a0.6 0.6 0 1 0 1.1 0a0.6 0.6 0 1 0 -1.1 0M596.7 68.4a0.7 0.7 0 1 0 1.5 0a0.7 0.7 0 1 0 -1.5 0M601.8 69.2a0.9 0.9 0 1 0 1.7 0a0.9 0.9 0 1 0 -1.7 0M617.1 53.8a0.8 0.8 0 1 0 1.5 0a0.8 0.8 0 1 0 -1.5 0M571.8 54.1a0.6 0.6 0 1 0 1.3 0a0.6 0.6 0 1 0 -1.3 0M592.6 49.7a0.6 0.6 0 1 0 1.3 0a0.6 0.6 0 1 0 -1.3 0M607.7 83.8a0.8 0.8 0 1 0 1.5 0a0.8 0.8 0 1 0 -1.5 0M607.5 52.3a0.8 0.8 0 1 0 1.5 0a0.8 0.8 0 1 0 -1.5 0M562.5 46.9a0.5 0.5 0 1 0 1.1 0a0.5 0.5 0 1 0 -1.1 0M604.2 93.1a0.6 0.6 0 1 0 1.2 0a0.6 0.6 0 1 0 -1.2 0M572.1 31.7a0.6 0.6 0 1 0 1.1 0a0.6 0.6 0 1 0 -1.1 0M592.0 90.9a0.5 0.5 0 1 0 1.1 0a0.5 0.5 0 1 0 -1.1 0M562.7 80.7a0.6 0.6 0 1 0 1.2 0a0.6 0.6 0 1 0 -1.2 0M610.2 49.7a0.7 0.7 0 1 0 1.4 0a0.7 0.7 0 1 0 -1.4 0M558.5 45.0a0.7 0.7 0 1 0 1.3 0a0.7 0.7 0 1 0 -1.3 0M564.5 78.4a0.5 0.5 0 1 0 1.0 0a0.5 0.5 0 1 0 -1.0 0M592.0 84.0a0.6 0.6 0 1 0 1.3 0a0.6 0.6 0 1 0 -1.3 0M557.9 31.9a0.5 0.5 0 1 0 1.1 0a0.5 0.5 0 1 0 -1.1 0M603.8 68.8a0.5 0.5 0 1 0 1.0 0a0.5 0.5 0 1 0 -1.0 0M577.8 68.5a0.6 0.6 0 1 0 1.3 0a0.6 0.6 0 1 0 -1.3 0M545.8 54.9a0.6 0.6 0 1 0 1.3 0a0.6 0.6 0 1 0 -1.3 0M617.2 50.2a0.9 0.9 0 1 0 1.7 0a0.9 0.9 0 1 0 -1.7 0M609.6 66.6a0.6 0.6 0 1 0 1.1 0a0.6 0.6 0 1 0 -1.1 0M604.8 29.7a0.7 0.7 0 1 0 1.4 0a0.7 0.7 0 1 0 -1.4 0M550.6 29.9a0.7 0.7 0 1 0 1.3 0a0.7 0.7 0 1 0 -1.3 0M555.0 98.5a0.7 0.7 0 1 0 1.5 0a0.7 0.7 0 1 0 -1.5 0M611.5 95.8a0.8 0.8 0 1 0 1.6 0a0.8 0.8 0 1 0 -1.6 0M592.3 58.9a0.8 0.8 0 1 0 1.6 0a0.8 0.8 0 1 0 -1.6 0M594.2 34.9a0.7 0.7 0 1 0 1.4 0a0.7 0.7 0 1 0 -1.4 0M574.6 62.1a0.8 0.8 0 1 0 1.6 0a0.8 0.8 0 1 0 -1.6 0M595.6 66.3a0.8 0.8 0 1 0 1.6 0a0.8 0.8 0 1 0 -1.6 0M606.3 29.8a0.6 0.6 0 1 0 1.1 0a0.6 0.6 0 1 0 -1.1 0M546.5 35.0a0.9 0.9 0 1 0 1.8 0a0.9 0.9 0 1 0 -1.8 0M566.8 56.3a0.7 0.7 0 1 0 1.4 0a0.7 0.7 0 1 0 -1.4 0M586.1 44.1a0.8 0.8 0 1 0 1.6 0a0.8 0.8 0 1 0 -1.6 0M568.3 87.3a0.8 0.8 0 1 0 1.6 0a0.8 0.8 0 1 0 -1.6 0M543.4 64.6a0.5 0.5 0 1 0 1.1 0a0.5 0.5 0 1 0 -1.1 0M610.7 28.1a0.6 0.6 0 1 0 1.2 0a0.6 0.6 0 1 0 -1.2 0M601.8 67.9a0.8 0.8 0 1 0 1.5 0a0.8 0.8 0 1 0 -1.5 0M574.8 62.5a0.6 0.6 0 1 0 1.2 0a0.6 0.6 0 1 0 -1.2 0M578.4 42.4a0.8 0.8 0 1 0 1.5 0a0.8 0.8 0 1 0 -1.5 0M551.4 33.3a0.6 0.6 0 1 0 1.2 0a0.6 0.6 0 1 0 -1.2 0M584.0 67.2a0.5 0.5 0 1 0 1.0 0a0.5 0.5 0 1 0 -1.0 0M618.6 86.5a0.7 0.7 0 1 0 1.3 0a0.7 0.7 0 1 0 -1.3 0M555.0 85.8a0.9 0.9 0 1 0 1.8 0a0.9 0.9 0 1 0 -1.8 0M556.6 80.5a0.8 0.8 0 1 0 1.7 0a0.8 0.8 0 1 0 -1.7 0M614.9 38.7a0.5 0.5 0 1 0 1.1 0a0.5 0.5 0 1 0 -1.1 0M555.5 40.4a0.9 0.9 0 1 0 1.7 0a0.9 0.9 0 1 0 -1.7 0M612.8 58.9a0.6 0.6 0 1 0 1.1 0a0.6 0.6 0 1 0 -1.1 0M570.0 41.2a0.8 0.8 0 1 0 1.5 0a0.8 0.8 0 1 0 -1.5 0M598.1 82.0a0.7 0.7 0 1 0 1.3 0a0.7 0.7 0 1 0 -1.3 0M578.1 58.5a0.6 0.6 0 1 0 1.3 0a0.6 0.6 0 1 0 -1.3 0M577.8 75.1a0.8 0.8 0 1 0 1.6 0a0.8 0.8 0 1 0 -1.6 0M568.2 66.1a0.6 0.6 0 1 0 1.1 0a0.6 0.6 0 1 0 -1.1 0M546.6 52.3a0.6 0.6 0 1 0 1.3 0a0.6 0.6 0 1 0 -1.3 0M545.6 28.9a0.7 0.7 0 1 0 1.3 0a0.7 0.7 0 1 0 -1.3 0M615.3 86.7a0.5 0.5 0 1 0 1.0 0a0.5 0.5 0 1 0 -1.0 0M567.4 50.9a0.6 0.6 0 1 0 1.2 0a0.6 0.6 0 1 0 -1.2 0M553.4 67.8a0.8 0.8 0 1 0 1.7 0a0.8 0.8 0 1 0 -1.7 0M572.4 36.3a0.5 0.5 0 1 0 1.1 0a0.5 0.5 0 1 0 -1.1 0M544.4 81.2a0.6 0.6 0 1 0 1.2 0a0.6 0.6 0 1 0 -1.2 0M598.6 83.1a0.5 0.5 0 1 0 1.1 0a0.5 0.5 0 1 0 -1.1 0M557.4 46.9a0.8 0.8 0 1 0 1.6 0a0.8 0.8 0 1 0 -1.6 0M599.4 45.9a0.7 0.7 0 1 0 1.4 0a0.7 0.7 0 1 0 -1.4 0M570.1 58.8a0.8 0.8 0 1 0 1.6 0a0.8 0.8 0 1 0 -1.6 0M562.9 84.6a0.9 0.9 0 1 0 1.7 0a0.9 0.9 0 1 0 -1.7 0M588.8 96.0a0.9 0.9 0 1 0 1.8 0a0.9 0.9 0 1 0 -1.8 0M556.3 98.4a0.6 0.6 0 1 0 1.2 0a0.6 0.6 0 1 0 -1.2 0M604.7 32.0a0.6 0.6 0 1 0 1.2 0a0.6 0.6 0 1 0 -1.2 0M576.8 86.8a0.8 0.8 0 1 0 1.5 0a0.8 0.8 0 1 0 -1.5 0M558.5 91.3a0.8 0.8 0 1 0 1.7 0a0.8 0.8 0 1 0 -1.7 0M582.1 26.7a0.6 0.6 0 1 0 1.2 0a0.6 0.6 0 1 0 -1.2 0M565.3 54.8a0.9 0.9 0 1 0 1.8 0a0.9 0.9 0 1 0 -1.8 0M588.7 85.3a0.5 0.5 0 1 0 1.1 0a0.5 0.5 0 1 0 -1.1 0M561.9 78.6a0.6 0.6 0 1 0 1.3 0a0.6 0.6 0 1 0 -1.3 0M560.7 27.6a0.5 0.5 0 1 0 1.0 0a0.5 0.5 0 1 0 -1.0 0M574.6 64.5a0.7 0.7 0 1 0 1.3 0a0.7 0.7 0 1 0 -1.3 0M586.5 45.0a0.5 0.5 0 1 0 1.0 0a0.5 0.5 0 1 0 -1.0 0M594.6 48.4a0.7 0.7 0 1 0 1.4 0a0.7 0.7 0 1 0 -1.4 0M572.1 43.4a0.5 0.5 0 1 0 1.0 0a0.5 0.5 0 1 0 -1.0 0M565.9 45.5a0.5 0.5 0 1 0 1.1 0a0.5 0.5 0 1 0 -1.1 0M545.5 59.5a0.5 0.5 0 1 0 1.0 0a0.5 0.5 0 1 0 -1.0 0M610.3 50.3a0.7 0.7 0 1 0 1.4 0a0.7 0.7 0 1 0 -1.4 0M583.4 24.6a0.5 0.5 0 1 0 1.1 0a0.5 0.5 0 1 0 -1.1 0M603.1 65.3a0.7 0.7 0 1 0 1.4 0a0.7 0.7 0 1 0 -1.4 0M569.4 80.1a0.7 0.7 0 1 0 1.4 0a0.7 0.7 0 1 0 -1.4 0M603.5 86.6a0.9 0.9 0 1 0 1.7 0a0.9 0.9 0 1 0 -1.7 0M598.6 74.2a0.7 0.7 0 1 0 1.4 0a0.7 0.7 0 1 0 -1.4 0M583.8 67.0a0.7 0.7 0 1 0 1.4 0a0.7 0.7 0 1 0 -1.4 0M605.9 88.3a0.5 0.5 0 1 0 1.0 0a0.5 0.5 0 1 0 -1.0 0M600.5 69.8a0.7 0.7 0 1 0 1.5 0a0.7 0.7 0 1 0 -1.5 0M612.5 26.6a0.7 0.7 0 1 0 1.4 0a0.7 0.7 0 1 0 -1.4 0M571.9 95.2a0.6 0.6 0 1 0 1.1 0a0.6 0.6 0 1 0 -1.1 0M586.0 33.8a0.8 0.8 0 1 0 1.6 0a0.8 0.8 0 1 0 -1.6 0M580.5 78.9a0.6 0.6 0 1 0 1.2 0a0.6 0.6 0 1 0 -1.2 0M610.7 23.3a0.6 0.6 0 1 0 1.2 0a0.6 0.6 0 1 0 -1.2 0M599.0 89.9a0.8 0.8 0 1 0 1.6 0a0.8 0.8 0 1 0 -1.6 0M564.0 29.0a0.8 0.8 0 1 0 1.6 0a0.8 0.8 0 1 0 -1.6 0M598.8 27.4a0.9 0.9 0 1 0 1.7 0a0.9 0.9 0 1 0 -1.7 0M583.4 25.4a0.7 0.7 0 1 0 1.4 0a0.7 0.7 0 1 0 -1.4 0M568.8 30.8a0.9 0.9 0 1 0 1.7 0a0.9 0.9 0 1 0 -1.7 0M614.5 32.3a0.7 0.7 0 1 0 1.4 0a0.7 0.7 0 1 0 -1.4 0M564.1 74.1a0.5 0.5 0 1 0 1.1 0a0.5 0.5 0 1 0 -1.1 0M568.6 54.1a0.7 0.7 0 1 0 1.4 0a0.7 0.7 0 1 0 -1.4 0M576.2 68.3a0.9 0.9 0 1 0 1.8 0a0.9 0.9 0 1 0 -1.8 0M614.1 92.0a0.8 0.8 0 1 0 1.7 0a0.8 0.8 0 1 0 -1.7 0M560.6 41.5a0.7 0.7 0 1 0 1.4 0a0.7 0.7 0 1 0 -1.4 0M592.3 69.1a0.6 0.6 0 1 0 1.3 0a0.6 0.6 0 1 0 -1.3 0M619.1 46.6a0.5 0.5 0 1 0 1.0 0a0.5 0.5 0 1 0 -1.0 0M549.9 38.8a0.8 0.8 0 1 0 1.6 0a0.8 0.8 0 1 0 -1.6 0M607.4 26.0a0.6 0.6 0 1 0 1.2 0a0.6 0.6 0 1 0 -1.2 0M561.5 82.8a0.9 0.9 0 1 0 1.7 0a0.9 0.9 0 1 0 -1.7 0" fill="#8a2b25" opacity="0.85"/>
<path d="M563.0 30.7a0.9 0.9 0 1 0 1.9 0a0.9 0.9 0 1 0 -1.9 0M617.3 77.5a0.7 0.7 0 1 0 1.4 0a0.7 0.7 0 1 0 -1.4 0M600.1 81.3a0.7 0.7 0 1 0 1.5 0a0.7 0.7 0 1 0 -1.5 0M563.8 62.9a0.8 0.8 0 1 0 1.6 0a0.8 0.8 0 1 0 -1.6 0M568.0 71.6a0.6 0.6 0 1 0 1.1 0a0.6 0.6 0 1 0 -1.1 0M617.3 39.0a0.6 0.6 0 1 0 1.2 0a0.6 0.6 0 1 0 -1.2 0M616.2 95.2a0.9 0.9 0 1 0 1.8 0a0.9 0.9 0 1 0 -1.8 0M607.2 87.5a0.9 0.9 0 1 0 1.7 0a0.9 0.9 0 1 0 -1.7 0M586.3 28.5a0.8 0.8 0 1 0 1.7 0a0.8 0.8 0 1 0 -1.7 0M607.1 86.7a0.5 0.5 0 1 0 1.0 0a0.5 0.5 0 1 0 -1.0 0M547.8 78.5a0.7 0.7 0 1 0 1.4 0a0.7 0.7 0 1 0 -1.4 0M611.3 98.3a0.7 0.7 0 1 0 1.4 0a0.7 0.7 0 1 0 -1.4 0M594.6 73.5a0.8 0.8 0 1 0 1.6 0a0.8 0.8 0 1 0 -1.6 0M571.4 71.6a0.5 0.5 0 1 0 1.1 0a0.5 0.5 0 1 0 -1.1 0M611.7 78.0a0.9 0.9 0 1 0 1.7 0a0.9 0.9 0 1 0 -1.7 0M578.4 38.5a0.7 0.7 0 1 0 1.4 0a0.7 0.7 0 1 0 -1.4 0M595.2 64.6a0.5 0.5 0 1 0 1.1 0a0.5 0.5 0 1 0 -1.1 0M543.5 53.2a0.6 0.6 0 1 0 1.2 0a0.6 0.6 0 1 0 -1.2 0M560.5 39.7a0.7 0.7 0 1 0 1.4 0a0.7 0.7 0 1 0 -1.4 0M596.1 92.4a0.8 0.8 0 1 0 1.6 0a0.8 0.8 0 1 0 -1.6 0M544.7 89.0a0.8 0.8 0 1 0 1.5 0a0.8 0.8 0 1 0 -1.5 0M599.0 69.6a0.7 0.7 0 1 0 1.3 0a0.7 0.7 0 1 0 -1.3 0M568.9 28.3a0.8 0.8 0 1 0 1.6 0a0.8 0.8 0 1 0 -1.6 0M547.1 74.7a0.9 0.9 0 1 0 1.8 0a0.9 0.9 0 1 0 -1.8 0M593.9 69.0a0.9 0.9 0 1 0 1.7 0a0.9 0.9 0 1 0 -1.7 0M616.1 84.8a0.9 0.9 0 1 0 1.9 0a0.9 0.9 0 1 0 -1.9 0M578.1 24.0a0.8 0.8 0 1 0 1.6 0a0.8 0.8 0 1 0 -1.6 0M591.8 88.6a0.8 0.8 0 1 0 1.6 0a0.8 0.8 0 1 0 -1.6 0M570.7 23.2a0.9 0.9 0 1 0 1.7 0a0.9 0.9 0 1 0 -1.7 0M590.7 97.9a0.8 0.8 0 1 0 1.5 0a0.8 0.8 0 1 0 -1.5 0" fill="#b8302a" opacity="0.9"/>
</g>
<rect x="622.00" y="22.00" width="65.60" height="65.60" fill="#6b6b6d" />
<clipPath id="ci622"><rect x="622" y="22" width="65.60000000000002" height="65.6"/></clipPath>
<g clip-path="url(#ci622)"><g filter="url(#b6)">
<circle cx="630.1" cy="24.7" r="2.2" fill="#dc3f48" opacity="0.8"/>
<circle cx="638.0" cy="25.1" r="2.0" fill="#dc3f48" opacity="0.8"/>
<circle cx="647.6" cy="24.7" r="1.8" fill="#dc3f48" opacity="0.8"/>
<circle cx="655.0" cy="24.7" r="1.5" fill="#dc3f48" opacity="0.8"/>
<circle cx="669.0" cy="23.6" r="1.5" fill="#dc3f48" opacity="0.8"/>
<circle cx="626.1" cy="29.8" r="1.8" fill="#dc3f48" opacity="0.8"/>
<circle cx="642.4" cy="32.4" r="2.2" fill="#dc3f48" opacity="0.8"/>
<circle cx="653.5" cy="30.1" r="1.8" fill="#dc3f48" opacity="0.8"/>
<circle cx="661.7" cy="29.1" r="1.8" fill="#dc3f48" opacity="0.8"/>
<circle cx="655.0" cy="35.8" r="3.0" fill="#dc3f48" opacity="0.8"/>
<circle cx="666.8" cy="38.7" r="1.8" fill="#dc3f48" opacity="0.8"/>
<circle cx="676.5" cy="35.8" r="1.5" fill="#dc3f48" opacity="0.8"/>
<circle cx="685.3" cy="32.8" r="1.3" fill="#dc3f48" opacity="0.8"/>
<circle cx="626.1" cy="43.2" r="3.0" fill="#dc3f48" opacity="0.8"/>
<circle cx="628.4" cy="39.5" r="1.5" fill="#dc3f48" opacity="0.8"/>
<circle cx="644.3" cy="45.4" r="1.5" fill="#dc3f48" opacity="0.8"/>
<circle cx="659.9" cy="44.6" r="1.8" fill="#dc3f48" opacity="0.8"/>
<circle cx="666.1" cy="47.6" r="2.4" fill="#dc3f48" opacity="0.8"/>
<circle cx="671.6" cy="46.1" r="2.8" fill="#dc3f48" opacity="0.8"/>
<circle cx="682.4" cy="48.6" r="1.6" fill="#dc3f48" opacity="0.8"/>
<circle cx="638.7" cy="50.1" r="2.4" fill="#dc3f48" opacity="0.8"/>
<circle cx="643.9" cy="54.0" r="1.8" fill="#dc3f48" opacity="0.8"/>
<circle cx="633.5" cy="56.8" r="2.4" fill="#dc3f48" opacity="0.8"/>
<circle cx="632.8" cy="52.8" r="1.3" fill="#dc3f48" opacity="0.8"/>
<circle cx="655.0" cy="52.8" r="2.0" fill="#dc3f48" opacity="0.8"/>
<circle cx="657.2" cy="58.7" r="2.6" fill="#dc3f48" opacity="0.8"/>
<circle cx="656.8" cy="63.9" r="2.6" fill="#dc3f48" opacity="0.8"/>
<circle cx="655.0" cy="68.3" r="2.0" fill="#dc3f48" opacity="0.8"/>
<circle cx="685.3" cy="55.0" r="2.4" fill="#dc3f48" opacity="0.8"/>
<circle cx="672.8" cy="59.1" r="1.5" fill="#dc3f48" opacity="0.8"/>
<circle cx="675.0" cy="64.6" r="2.2" fill="#dc3f48" opacity="0.8"/>
<circle cx="684.6" cy="62.4" r="2.4" fill="#dc3f48" opacity="0.8"/>
<circle cx="684.6" cy="66.8" r="2.4" fill="#dc3f48" opacity="0.8"/>
<circle cx="645.4" cy="68.6" r="2.4" fill="#dc3f48" opacity="0.8"/>
<circle cx="648.3" cy="73.9" r="1.8" fill="#dc3f48" opacity="0.8"/>
<circle cx="631.3" cy="76.8" r="3.0" fill="#dc3f48" opacity="0.8"/>
<circle cx="641.7" cy="76.8" r="2.4" fill="#dc3f48" opacity="0.8"/>
<circle cx="657.2" cy="79.0" r="2.8" fill="#dc3f48" opacity="0.8"/>
<circle cx="649.1" cy="83.1" r="3.6" fill="#dc3f48" opacity="0.8"/>
<circle cx="638.7" cy="84.2" r="2.0" fill="#dc3f48" opacity="0.8"/>
<circle cx="675.0" cy="85.3" r="2.8" fill="#dc3f48" opacity="0.8"/>
<circle cx="685.3" cy="84.6" r="2.2" fill="#dc3f48" opacity="0.8"/>
<circle cx="623.2" cy="73.5" r="1.3" fill="#dc3f48" opacity="0.8"/>
<circle cx="646.1" cy="51.3" r="1.7" fill="#86d24a" opacity="0.95"/>
</g></g>
<rect x="622.00" y="22.00" width="65.60" height="65.60" fill="none" stroke="#262424" stroke-width="1.1" />
<rect x="574.40" y="52.70" width="20.70" height="20.40" fill="none" stroke="#d4d4d4" stroke-width="1.4" />
<line x1="595.10" y1="55.40" x2="622.00" y2="34.00" stroke="#d4d4d4" stroke-width="1.4" />
<line x1="595.10" y1="63.60" x2="622.00" y2="63.60" stroke="#d4d4d4" stroke-width="1.4" />
<rect x="673.90" y="79.10" width="11.00" height="2.50" fill="#fff" />
<rect x="385.10" y="126.20" width="77.90" height="77.70" fill="#120a09" />
<g filter="url(#b3)">
<path d="M450.0 185.7a0.9 0.9 0 1 0 1.8 0a0.9 0.9 0 1 0 -1.8 0M420.5 195.2a0.7 0.7 0 1 0 1.3 0a0.7 0.7 0 1 0 -1.3 0M386.2 151.8a0.6 0.6 0 1 0 1.3 0a0.6 0.6 0 1 0 -1.3 0M460.9 157.1a0.6 0.6 0 1 0 1.2 0a0.6 0.6 0 1 0 -1.2 0M437.9 134.5a0.6 0.6 0 1 0 1.2 0a0.6 0.6 0 1 0 -1.2 0M415.3 136.5a0.7 0.7 0 1 0 1.5 0a0.7 0.7 0 1 0 -1.5 0M417.6 188.0a0.6 0.6 0 1 0 1.3 0a0.6 0.6 0 1 0 -1.3 0M459.7 141.9a0.7 0.7 0 1 0 1.4 0a0.7 0.7 0 1 0 -1.4 0M402.6 128.2a0.6 0.6 0 1 0 1.2 0a0.6 0.6 0 1 0 -1.2 0M453.5 149.2a0.7 0.7 0 1 0 1.4 0a0.7 0.7 0 1 0 -1.4 0M425.2 147.3a0.7 0.7 0 1 0 1.4 0a0.7 0.7 0 1 0 -1.4 0M390.4 153.6a0.6 0.6 0 1 0 1.2 0a0.6 0.6 0 1 0 -1.2 0M447.3 185.5a0.8 0.8 0 1 0 1.6 0a0.8 0.8 0 1 0 -1.6 0M430.5 192.9a0.8 0.8 0 1 0 1.6 0a0.8 0.8 0 1 0 -1.6 0M389.4 137.0a0.8 0.8 0 1 0 1.6 0a0.8 0.8 0 1 0 -1.6 0M449.1 202.2a0.8 0.8 0 1 0 1.6 0a0.8 0.8 0 1 0 -1.6 0M397.3 170.1a0.7 0.7 0 1 0 1.5 0a0.7 0.7 0 1 0 -1.5 0M431.1 137.3a0.9 0.9 0 1 0 1.8 0a0.9 0.9 0 1 0 -1.8 0M423.9 147.5a0.9 0.9 0 1 0 1.8 0a0.9 0.9 0 1 0 -1.8 0M414.5 132.4a0.8 0.8 0 1 0 1.5 0a0.8 0.8 0 1 0 -1.5 0M405.1 143.7a0.6 0.6 0 1 0 1.2 0a0.6 0.6 0 1 0 -1.2 0M431.4 151.4a0.8 0.8 0 1 0 1.5 0a0.8 0.8 0 1 0 -1.5 0M454.0 202.3a0.9 0.9 0 1 0 1.7 0a0.9 0.9 0 1 0 -1.7 0M455.3 146.3a0.8 0.8 0 1 0 1.7 0a0.8 0.8 0 1 0 -1.7 0M392.3 171.3a0.5 0.5 0 1 0 1.1 0a0.5 0.5 0 1 0 -1.1 0M393.0 199.1a0.6 0.6 0 1 0 1.1 0a0.6 0.6 0 1 0 -1.1 0M440.1 167.1a0.5 0.5 0 1 0 1.0 0a0.5 0.5 0 1 0 -1.0 0M445.5 131.7a0.9 0.9 0 1 0 1.7 0a0.9 0.9 0 1 0 -1.7 0M447.6 164.8a0.7 0.7 0 1 0 1.4 0a0.7 0.7 0 1 0 -1.4 0M387.6 180.2a0.5 0.5 0 1 0 1.0 0a0.5 0.5 0 1 0 -1.0 0M425.3 197.3a0.8 0.8 0 1 0 1.5 0a0.8 0.8 0 1 0 -1.5 0M394.1 181.8a0.8 0.8 0 1 0 1.6 0a0.8 0.8 0 1 0 -1.6 0M410.3 185.7a0.7 0.7 0 1 0 1.5 0a0.7 0.7 0 1 0 -1.5 0M416.9 167.0a0.6 0.6 0 1 0 1.2 0a0.6 0.6 0 1 0 -1.2 0M407.2 194.6a0.6 0.6 0 1 0 1.3 0a0.6 0.6 0 1 0 -1.3 0M444.1 154.9a0.6 0.6 0 1 0 1.2 0a0.6 0.6 0 1 0 -1.2 0M385.3 200.2a0.8 0.8 0 1 0 1.6 0a0.8 0.8 0 1 0 -1.6 0M460.2 171.8a0.5 0.5 0 1 0 1.0 0a0.5 0.5 0 1 0 -1.0 0M397.7 130.8a0.7 0.7 0 1 0 1.5 0a0.7 0.7 0 1 0 -1.5 0M432.7 199.6a0.6 0.6 0 1 0 1.2 0a0.6 0.6 0 1 0 -1.2 0M403.2 143.9a0.6 0.6 0 1 0 1.1 0a0.6 0.6 0 1 0 -1.1 0M387.5 164.6a0.7 0.7 0 1 0 1.3 0a0.7 0.7 0 1 0 -1.3 0M413.4 199.3a0.6 0.6 0 1 0 1.3 0a0.6 0.6 0 1 0 -1.3 0M448.4 167.5a0.5 0.5 0 1 0 1.1 0a0.5 0.5 0 1 0 -1.1 0M387.4 173.3a0.8 0.8 0 1 0 1.7 0a0.8 0.8 0 1 0 -1.7 0M389.2 180.4a0.6 0.6 0 1 0 1.2 0a0.6 0.6 0 1 0 -1.2 0M437.5 190.3a0.8 0.8 0 1 0 1.6 0a0.8 0.8 0 1 0 -1.6 0M403.7 138.9a0.9 0.9 0 1 0 1.8 0a0.9 0.9 0 1 0 -1.8 0M455.0 197.2a0.7 0.7 0 1 0 1.4 0a0.7 0.7 0 1 0 -1.4 0M389.0 155.1a0.9 0.9 0 1 0 1.7 0a0.9 0.9 0 1 0 -1.7 0M390.6 149.5a0.5 0.5 0 1 0 1.0 0a0.5 0.5 0 1 0 -1.0 0M452.5 153.9a0.5 0.5 0 1 0 1.1 0a0.5 0.5 0 1 0 -1.1 0M412.4 142.6a0.7 0.7 0 1 0 1.3 0a0.7 0.7 0 1 0 -1.3 0M432.3 177.0a0.5 0.5 0 1 0 1.1 0a0.5 0.5 0 1 0 -1.1 0M426.0 131.4a0.7 0.7 0 1 0 1.4 0a0.7 0.7 0 1 0 -1.4 0M446.7 147.0a0.8 0.8 0 1 0 1.7 0a0.8 0.8 0 1 0 -1.7 0M403.8 156.9a0.8 0.8 0 1 0 1.6 0a0.8 0.8 0 1 0 -1.6 0M385.6 169.2a0.7 0.7 0 1 0 1.4 0a0.7 0.7 0 1 0 -1.4 0M439.6 199.0a0.8 0.8 0 1 0 1.6 0a0.8 0.8 0 1 0 -1.6 0M402.3 142.2a0.7 0.7 0 1 0 1.4 0a0.7 0.7 0 1 0 -1.4 0M406.9 169.1a0.5 0.5 0 1 0 1.1 0a0.5 0.5 0 1 0 -1.1 0M438.3 158.7a0.5 0.5 0 1 0 1.0 0a0.5 0.5 0 1 0 -1.0 0M394.3 198.1a0.8 0.8 0 1 0 1.7 0a0.8 0.8 0 1 0 -1.7 0M452.2 156.7a0.9 0.9 0 1 0 1.8 0a0.9 0.9 0 1 0 -1.8 0M398.1 182.2a0.9 0.9 0 1 0 1.8 0a0.9 0.9 0 1 0 -1.8 0M401.3 127.4a0.6 0.6 0 1 0 1.1 0a0.6 0.6 0 1 0 -1.1 0M391.6 188.1a0.7 0.7 0 1 0 1.5 0a0.7 0.7 0 1 0 -1.5 0M421.5 135.8a0.8 0.8 0 1 0 1.5 0a0.8 0.8 0 1 0 -1.5 0M395.7 137.2a0.7 0.7 0 1 0 1.5 0a0.7 0.7 0 1 0 -1.5 0M434.1 187.9a0.8 0.8 0 1 0 1.7 0a0.8 0.8 0 1 0 -1.7 0M395.9 150.2a0.6 0.6 0 1 0 1.1 0a0.6 0.6 0 1 0 -1.1 0M422.5 129.3a0.8 0.8 0 1 0 1.7 0a0.8 0.8 0 1 0 -1.7 0M437.2 188.5a0.7 0.7 0 1 0 1.4 0a0.7 0.7 0 1 0 -1.4 0M454.6 190.5a0.8 0.8 0 1 0 1.7 0a0.8 0.8 0 1 0 -1.7 0M446.7 143.5a0.6 0.6 0 1 0 1.3 0a0.6 0.6 0 1 0 -1.3 0M389.6 185.1a0.7 0.7 0 1 0 1.4 0a0.7 0.7 0 1 0 -1.4 0M460.4 149.1a0.7 0.7 0 1 0 1.3 0a0.7 0.7 0 1 0 -1.3 0M451.1 200.6a0.8 0.8 0 1 0 1.6 0a0.8 0.8 0 1 0 -1.6 0M452.6 197.2a0.6 0.6 0 1 0 1.2 0a0.6 0.6 0 1 0 -1.2 0M432.2 131.9a0.8 0.8 0 1 0 1.5 0a0.8 0.8 0 1 0 -1.5 0M457.9 165.5a0.6 0.6 0 1 0 1.1 0a0.6 0.6 0 1 0 -1.1 0M428.6 132.1a0.7 0.7 0 1 0 1.4 0a0.7 0.7 0 1 0 -1.4 0M391.3 158.8a0.8 0.8 0 1 0 1.7 0a0.8 0.8 0 1 0 -1.7 0M441.6 191.9a0.7 0.7 0 1 0 1.4 0a0.7 0.7 0 1 0 -1.4 0M418.8 131.3a0.8 0.8 0 1 0 1.6 0a0.8 0.8 0 1 0 -1.6 0M428.8 158.1a0.6 0.6 0 1 0 1.1 0a0.6 0.6 0 1 0 -1.1 0M420.3 131.9a0.5 0.5 0 1 0 1.1 0a0.5 0.5 0 1 0 -1.1 0M391.5 159.4a0.6 0.6 0 1 0 1.1 0a0.6 0.6 0 1 0 -1.1 0M448.1 173.4a0.8 0.8 0 1 0 1.7 0a0.8 0.8 0 1 0 -1.7 0M427.5 139.2a0.6 0.6 0 1 0 1.2 0a0.6 0.6 0 1 0 -1.2 0M449.1 171.5a0.8 0.8 0 1 0 1.5 0a0.8 0.8 0 1 0 -1.5 0M433.6 130.7a0.6 0.6 0 1 0 1.2 0a0.6 0.6 0 1 0 -1.2 0M418.0 191.2a0.9 0.9 0 1 0 1.8 0a0.9 0.9 0 1 0 -1.8 0M430.5 146.8a0.5 0.5 0 1 0 1.0 0a0.5 0.5 0 1 0 -1.0 0M427.7 158.2a0.9 0.9 0 1 0 1.7 0a0.9 0.9 0 1 0 -1.7 0M401.2 142.6a0.5 0.5 0 1 0 1.0 0a0.5 0.5 0 1 0 -1.0 0M387.3 188.4a0.8 0.8 0 1 0 1.7 0a0.8 0.8 0 1 0 -1.7 0M397.0 128.3a0.7 0.7 0 1 0 1.5 0a0.7 0.7 0 1 0 -1.5 0M403.9 173.7a0.9 0.9 0 1 0 1.7 0a0.9 0.9 0 1 0 -1.7 0M442.1 148.3a0.7 0.7 0 1 0 1.5 0a0.7 0.7 0 1 0 -1.5 0M407.4 184.8a0.6 0.6 0 1 0 1.2 0a0.6 0.6 0 1 0 -1.2 0M451.3 178.6a0.9 0.9 0 1 0 1.7 0a0.9 0.9 0 1 0 -1.7 0M411.6 199.5a0.7 0.7 0 1 0 1.5 0a0.7 0.7 0 1 0 -1.5 0M405.0 176.2a0.6 0.6 0 1 0 1.2 0a0.6 0.6 0 1 0 -1.2 0M393.9 130.1a0.7 0.7 0 1 0 1.5 0a0.7 0.7 0 1 0 -1.5 0M403.6 134.7a0.8 0.8 0 1 0 1.6 0a0.8 0.8 0 1 0 -1.6 0M396.2 184.4a0.6 0.6 0 1 0 1.2 0a0.6 0.6 0 1 0 -1.2 0M412.8 197.9a0.8 0.8 0 1 0 1.7 0a0.8 0.8 0 1 0 -1.7 0M448.8 201.5a0.7 0.7 0 1 0 1.5 0a0.7 0.7 0 1 0 -1.5 0M456.4 174.3a0.7 0.7 0 1 0 1.5 0a0.7 0.7 0 1 0 -1.5 0M409.9 155.9a0.7 0.7 0 1 0 1.5 0a0.7 0.7 0 1 0 -1.5 0M404.0 175.8a0.8 0.8 0 1 0 1.7 0a0.8 0.8 0 1 0 -1.7 0M440.3 144.2a0.5 0.5 0 1 0 1.0 0a0.5 0.5 0 1 0 -1.0 0M413.1 160.0a0.8 0.8 0 1 0 1.7 0a0.8 0.8 0 1 0 -1.7 0M426.9 166.4a0.7 0.7 0 1 0 1.5 0a0.7 0.7 0 1 0 -1.5 0M427.4 178.6a0.7 0.7 0 1 0 1.4 0a0.7 0.7 0 1 0 -1.4 0M427.5 145.0a0.5 0.5 0 1 0 1.1 0a0.5 0.5 0 1 0 -1.1 0M418.6 194.4a0.9 0.9 0 1 0 1.8 0a0.9 0.9 0 1 0 -1.8 0M407.6 170.7a0.7 0.7 0 1 0 1.4 0a0.7 0.7 0 1 0 -1.4 0M419.7 140.6a0.8 0.8 0 1 0 1.6 0a0.8 0.8 0 1 0 -1.6 0M391.9 144.4a0.6 0.6 0 1 0 1.2 0a0.6 0.6 0 1 0 -1.2 0M400.9 141.8a0.5 0.5 0 1 0 1.1 0a0.5 0.5 0 1 0 -1.1 0M425.1 140.2a0.8 0.8 0 1 0 1.5 0a0.8 0.8 0 1 0 -1.5 0M431.0 174.5a0.7 0.7 0 1 0 1.4 0a0.7 0.7 0 1 0 -1.4 0M431.9 149.5a0.7 0.7 0 1 0 1.4 0a0.7 0.7 0 1 0 -1.4 0M437.6 143.4a0.8 0.8 0 1 0 1.6 0a0.8 0.8 0 1 0 -1.6 0M429.8 201.1a0.7 0.7 0 1 0 1.5 0a0.7 0.7 0 1 0 -1.5 0M427.2 185.4a0.6 0.6 0 1 0 1.2 0a0.6 0.6 0 1 0 -1.2 0M413.6 159.9a0.8 0.8 0 1 0 1.6 0a0.8 0.8 0 1 0 -1.6 0M439.9 141.2a0.9 0.9 0 1 0 1.8 0a0.9 0.9 0 1 0 -1.8 0M459.8 164.7a0.9 0.9 0 1 0 1.8 0a0.9 0.9 0 1 0 -1.8 0M432.7 156.3a0.5 0.5 0 1 0 1.1 0a0.5 0.5 0 1 0 -1.1 0M386.5 172.0a0.8 0.8 0 1 0 1.6 0a0.8 0.8 0 1 0 -1.6 0M432.2 186.5a0.7 0.7 0 1 0 1.3 0a0.7 0.7 0 1 0 -1.3 0M441.7 172.9a0.8 0.8 0 1 0 1.5 0a0.8 0.8 0 1 0 -1.5 0M427.0 177.7a0.7 0.7 0 1 0 1.4 0a0.7 0.7 0 1 0 -1.4 0M392.1 178.3a0.8 0.8 0 1 0 1.6 0a0.8 0.8 0 1 0 -1.6 0M417.9 200.7a0.7 0.7 0 1 0 1.4 0a0.7 0.7 0 1 0 -1.4 0M398.0 165.9a0.6 0.6 0 1 0 1.3 0a0.6 0.6 0 1 0 -1.3 0M398.0 194.5a0.6 0.6 0 1 0 1.1 0a0.6 0.6 0 1 0 -1.1 0M439.5 140.0a0.7 0.7 0 1 0 1.4 0a0.7 0.7 0 1 0 -1.4 0M461.0 133.8a0.8 0.8 0 1 0 1.7 0a0.8 0.8 0 1 0 -1.7 0M385.6 201.3a0.9 0.9 0 1 0 1.7 0a0.9 0.9 0 1 0 -1.7 0M419.4 175.5a0.7 0.7 0 1 0 1.4 0a0.7 0.7 0 1 0 -1.4 0M397.8 154.1a0.7 0.7 0 1 0 1.4 0a0.7 0.7 0 1 0 -1.4 0M451.5 135.8a0.7 0.7 0 1 0 1.4 0a0.7 0.7 0 1 0 -1.4 0M421.1 169.1a0.8 0.8 0 1 0 1.6 0a0.8 0.8 0 1 0 -1.6 0M430.7 151.6a0.9 0.9 0 1 0 1.8 0a0.9 0.9 0 1 0 -1.8 0M430.9 147.7a0.7 0.7 0 1 0 1.4 0a0.7 0.7 0 1 0 -1.4 0M451.2 130.6a0.8 0.8 0 1 0 1.5 0a0.8 0.8 0 1 0 -1.5 0M422.5 149.0a0.6 0.6 0 1 0 1.1 0a0.6 0.6 0 1 0 -1.1 0M403.0 160.3a0.7 0.7 0 1 0 1.3 0a0.7 0.7 0 1 0 -1.3 0M431.0 147.6a0.7 0.7 0 1 0 1.5 0a0.7 0.7 0 1 0 -1.5 0M421.2 187.5a0.8 0.8 0 1 0 1.6 0a0.8 0.8 0 1 0 -1.6 0M403.3 201.2a0.7 0.7 0 1 0 1.4 0a0.7 0.7 0 1 0 -1.4 0M410.7 146.4a0.8 0.8 0 1 0 1.6 0a0.8 0.8 0 1 0 -1.6 0M418.6 179.0a0.6 0.6 0 1 0 1.2 0a0.6 0.6 0 1 0 -1.2 0M450.6 147.2a0.8 0.8 0 1 0 1.7 0a0.8 0.8 0 1 0 -1.7 0M418.6 157.5a0.7 0.7 0 1 0 1.5 0a0.7 0.7 0 1 0 -1.5 0M425.1 168.7a0.7 0.7 0 1 0 1.4 0a0.7 0.7 0 1 0 -1.4 0M457.8 183.5a0.5 0.5 0 1 0 1.1 0a0.5 0.5 0 1 0 -1.1 0M460.7 128.3a0.5 0.5 0 1 0 1.0 0a0.5 0.5 0 1 0 -1.0 0M447.8 148.0a0.5 0.5 0 1 0 1.0 0a0.5 0.5 0 1 0 -1.0 0M398.6 164.7a0.8 0.8 0 1 0 1.7 0a0.8 0.8 0 1 0 -1.7 0M387.0 139.6a0.5 0.5 0 1 0 1.0 0a0.5 0.5 0 1 0 -1.0 0M389.4 151.0a0.7 0.7 0 1 0 1.4 0a0.7 0.7 0 1 0 -1.4 0M458.9 176.3a0.8 0.8 0 1 0 1.7 0a0.8 0.8 0 1 0 -1.7 0M430.2 196.2a0.8 0.8 0 1 0 1.5 0a0.8 0.8 0 1 0 -1.5 0M403.6 155.4a0.7 0.7 0 1 0 1.4 0a0.7 0.7 0 1 0 -1.4 0M393.7 197.2a0.7 0.7 0 1 0 1.4 0a0.7 0.7 0 1 0 -1.4 0M400.4 164.4a0.8 0.8 0 1 0 1.6 0a0.8 0.8 0 1 0 -1.6 0M406.3 171.7a0.5 0.5 0 1 0 1.1 0a0.5 0.5 0 1 0 -1.1 0M403.7 141.3a0.7 0.7 0 1 0 1.4 0a0.7 0.7 0 1 0 -1.4 0M437.6 144.4a0.8 0.8 0 1 0 1.6 0a0.8 0.8 0 1 0 -1.6 0M429.7 184.1a0.9 0.9 0 1 0 1.8 0a0.9 0.9 0 1 0 -1.8 0M410.7 202.7a0.7 0.7 0 1 0 1.4 0a0.7 0.7 0 1 0 -1.4 0M424.3 140.6a0.5 0.5 0 1 0 1.1 0a0.5 0.5 0 1 0 -1.1 0M434.6 134.9a0.5 0.5 0 1 0 1.0 0a0.5 0.5 0 1 0 -1.0 0M391.8 168.3a0.6 0.6 0 1 0 1.2 0a0.6 0.6 0 1 0 -1.2 0M405.4 185.3a0.7 0.7 0 1 0 1.4 0a0.7 0.7 0 1 0 -1.4 0M396.3 178.7a0.9 0.9 0 1 0 1.8 0a0.9 0.9 0 1 0 -1.8 0M432.6 160.9a0.7 0.7 0 1 0 1.4 0a0.7 0.7 0 1 0 -1.4 0M438.7 190.7a0.8 0.8 0 1 0 1.6 0a0.8 0.8 0 1 0 -1.6 0M404.3 186.3a0.5 0.5 0 1 0 1.1 0a0.5 0.5 0 1 0 -1.1 0M395.2 165.6a0.6 0.6 0 1 0 1.1 0a0.6 0.6 0 1 0 -1.1 0M427.8 148.7a0.9 0.9 0 1 0 1.8 0a0.9 0.9 0 1 0 -1.8 0M418.1 189.0a0.9 0.9 0 1 0 1.8 0a0.9 0.9 0 1 0 -1.8 0M419.7 185.4a0.7 0.7 0 1 0 1.4 0a0.7 0.7 0 1 0 -1.4 0M415.6 136.5a0.8 0.8 0 1 0 1.5 0a0.8 0.8 0 1 0 -1.5 0M455.5 179.3a0.6 0.6 0 1 0 1.3 0a0.6 0.6 0 1 0 -1.3 0M425.3 154.2a0.7 0.7 0 1 0 1.3 0a0.7 0.7 0 1 0 -1.3 0M444.1 127.6a0.7 0.7 0 1 0 1.4 0a0.7 0.7 0 1 0 -1.4 0M424.2 138.3a0.8 0.8 0 1 0 1.6 0a0.8 0.8 0 1 0 -1.6 0M404.7 157.7a0.6 0.6 0 1 0 1.2 0a0.6 0.6 0 1 0 -1.2 0M430.7 159.8a0.8 0.8 0 1 0 1.5 0a0.8 0.8 0 1 0 -1.5 0M417.6 186.6a0.7 0.7 0 1 0 1.4 0a0.7 0.7 0 1 0 -1.4 0M393.4 164.4a0.6 0.6 0 1 0 1.2 0a0.6 0.6 0 1 0 -1.2 0M408.0 199.1a0.7 0.7 0 1 0 1.4 0a0.7 0.7 0 1 0 -1.4 0M441.5 138.9a0.8 0.8 0 1 0 1.5 0a0.8 0.8 0 1 0 -1.5 0M394.4 143.9a0.6 0.6 0 1 0 1.1 0a0.6 0.6 0 1 0 -1.1 0M387.0 196.0a0.9 0.9 0 1 0 1.8 0a0.9 0.9 0 1 0 -1.8 0M413.2 128.1a0.8 0.8 0 1 0 1.6 0a0.8 0.8 0 1 0 -1.6 0M435.6 130.6a0.8 0.8 0 1 0 1.6 0a0.8 0.8 0 1 0 -1.6 0M390.3 144.8a0.8 0.8 0 1 0 1.6 0a0.8 0.8 0 1 0 -1.6 0M443.7 144.9a0.7 0.7 0 1 0 1.4 0a0.7 0.7 0 1 0 -1.4 0M446.2 172.9a0.7 0.7 0 1 0 1.4 0a0.7 0.7 0 1 0 -1.4 0M399.5 132.3a0.6 0.6 0 1 0 1.2 0a0.6 0.6 0 1 0 -1.2 0M425.2 172.3a0.7 0.7 0 1 0 1.4 0a0.7 0.7 0 1 0 -1.4 0M433.6 169.9a0.8 0.8 0 1 0 1.5 0a0.8 0.8 0 1 0 -1.5 0M416.6 191.0a0.7 0.7 0 1 0 1.4 0a0.7 0.7 0 1 0 -1.4 0M452.2 201.9a0.8 0.8 0 1 0 1.7 0a0.8 0.8 0 1 0 -1.7 0M444.0 179.5a0.7 0.7 0 1 0 1.4 0a0.7 0.7 0 1 0 -1.4 0M404.1 134.9a0.8 0.8 0 1 0 1.5 0a0.8 0.8 0 1 0 -1.5 0M404.2 173.6a0.7 0.7 0 1 0 1.4 0a0.7 0.7 0 1 0 -1.4 0M431.6 159.7a0.6 0.6 0 1 0 1.2 0a0.6 0.6 0 1 0 -1.2 0M408.3 180.0a0.9 0.9 0 1 0 1.7 0a0.9 0.9 0 1 0 -1.7 0M409.6 150.9a0.7 0.7 0 1 0 1.4 0a0.7 0.7 0 1 0 -1.4 0M417.9 175.1a0.8 0.8 0 1 0 1.6 0a0.8 0.8 0 1 0 -1.6 0M443.6 188.5a0.8 0.8 0 1 0 1.6 0a0.8 0.8 0 1 0 -1.6 0M459.3 161.2a0.7 0.7 0 1 0 1.4 0a0.7 0.7 0 1 0 -1.4 0M434.7 150.9a0.8 0.8 0 1 0 1.7 0a0.8 0.8 0 1 0 -1.7 0M417.1 169.4a0.7 0.7 0 1 0 1.4 0a0.7 0.7 0 1 0 -1.4 0M413.1 127.9a0.6 0.6 0 1 0 1.2 0a0.6 0.6 0 1 0 -1.2 0M421.7 199.3a0.6 0.6 0 1 0 1.1 0a0.6 0.6 0 1 0 -1.1 0M453.9 200.9a0.8 0.8 0 1 0 1.6 0a0.8 0.8 0 1 0 -1.6 0M406.4 128.6a0.9 0.9 0 1 0 1.7 0a0.9 0.9 0 1 0 -1.7 0M390.3 149.7a0.9 0.9 0 1 0 1.8 0a0.9 0.9 0 1 0 -1.8 0M436.4 189.6a0.8 0.8 0 1 0 1.7 0a0.8 0.8 0 1 0 -1.7 0M399.0 165.4a0.5 0.5 0 1 0 1.1 0a0.5 0.5 0 1 0 -1.1 0M414.0 164.7a0.8 0.8 0 1 0 1.7 0a0.8 0.8 0 1 0 -1.7 0M407.5 177.7a0.6 0.6 0 1 0 1.1 0a0.6 0.6 0 1 0 -1.1 0M404.8 131.5a0.7 0.7 0 1 0 1.5 0a0.7 0.7 0 1 0 -1.5 0M429.9 181.2a0.7 0.7 0 1 0 1.3 0a0.7 0.7 0 1 0 -1.3 0M456.6 181.9a0.7 0.7 0 1 0 1.5 0a0.7 0.7 0 1 0 -1.5 0M451.9 140.7a0.6 0.6 0 1 0 1.2 0a0.6 0.6 0 1 0 -1.2 0M427.1 172.6a0.9 0.9 0 1 0 1.8 0a0.9 0.9 0 1 0 -1.8 0M436.8 130.6a0.9 0.9 0 1 0 1.8 0a0.9 0.9 0 1 0 -1.8 0M420.8 142.7a0.8 0.8 0 1 0 1.6 0a0.8 0.8 0 1 0 -1.6 0M433.1 192.0a0.7 0.7 0 1 0 1.4 0a0.7 0.7 0 1 0 -1.4 0M404.8 162.8a0.7 0.7 0 1 0 1.4 0a0.7 0.7 0 1 0 -1.4 0M412.2 171.2a0.6 0.6 0 1 0 1.1 0a0.6 0.6 0 1 0 -1.1 0M404.7 136.1a0.5 0.5 0 1 0 1.0 0a0.5 0.5 0 1 0 -1.0 0M425.3 183.1a0.7 0.7 0 1 0 1.3 0a0.7 0.7 0 1 0 -1.3 0M453.9 173.3a0.8 0.8 0 1 0 1.5 0a0.8 0.8 0 1 0 -1.5 0M407.1 195.3a0.6 0.6 0 1 0 1.3 0a0.6 0.6 0 1 0 -1.3 0M449.4 145.6a0.9 0.9 0 1 0 1.8 0a0.9 0.9 0 1 0 -1.8 0M437.2 140.6a0.8 0.8 0 1 0 1.6 0a0.8 0.8 0 1 0 -1.6 0M397.2 156.4a0.7 0.7 0 1 0 1.3 0a0.7 0.7 0 1 0 -1.3 0M410.9 154.6a0.6 0.6 0 1 0 1.1 0a0.6 0.6 0 1 0 -1.1 0M415.6 134.2a0.8 0.8 0 1 0 1.6 0a0.8 0.8 0 1 0 -1.6 0M412.3 181.2a0.7 0.7 0 1 0 1.3 0a0.7 0.7 0 1 0 -1.3 0M459.4 193.9a0.8 0.8 0 1 0 1.6 0a0.8 0.8 0 1 0 -1.6 0M449.1 196.4a0.9 0.9 0 1 0 1.7 0a0.9 0.9 0 1 0 -1.7 0M416.9 172.1a0.5 0.5 0 1 0 1.1 0a0.5 0.5 0 1 0 -1.1 0M413.0 152.0a0.7 0.7 0 1 0 1.5 0a0.7 0.7 0 1 0 -1.5 0M386.0 184.3a0.5 0.5 0 1 0 1.1 0a0.5 0.5 0 1 0 -1.1 0M417.3 163.9a0.8 0.8 0 1 0 1.7 0a0.8 0.8 0 1 0 -1.7 0M433.4 138.3a0.8 0.8 0 1 0 1.5 0a0.8 0.8 0 1 0 -1.5 0M403.2 173.9a0.7 0.7 0 1 0 1.3 0a0.7 0.7 0 1 0 -1.3 0M458.1 161.2a0.6 0.6 0 1 0 1.2 0a0.6 0.6 0 1 0 -1.2 0M409.0 199.8a0.6 0.6 0 1 0 1.3 0a0.6 0.6 0 1 0 -1.3 0M403.7 167.7a0.8 0.8 0 1 0 1.5 0a0.8 0.8 0 1 0 -1.5 0M456.9 133.2a0.6 0.6 0 1 0 1.3 0a0.6 0.6 0 1 0 -1.3 0M440.2 164.7a0.8 0.8 0 1 0 1.6 0a0.8 0.8 0 1 0 -1.6 0M436.8 134.1a0.5 0.5 0 1 0 1.0 0a0.5 0.5 0 1 0 -1.0 0M398.9 150.2a0.6 0.6 0 1 0 1.1 0a0.6 0.6 0 1 0 -1.1 0M407.3 135.8a0.5 0.5 0 1 0 1.0 0a0.5 0.5 0 1 0 -1.0 0M425.3 184.6a0.6 0.6 0 1 0 1.1 0a0.6 0.6 0 1 0 -1.1 0M392.6 182.4a0.5 0.5 0 1 0 1.1 0a0.5 0.5 0 1 0 -1.1 0M396.0 164.3a0.6 0.6 0 1 0 1.2 0a0.6 0.6 0 1 0 -1.2 0M445.0 165.5a0.7 0.7 0 1 0 1.4 0a0.7 0.7 0 1 0 -1.4 0M413.6 129.2a0.8 0.8 0 1 0 1.7 0a0.8 0.8 0 1 0 -1.7 0M415.1 189.9a0.5 0.5 0 1 0 1.1 0a0.5 0.5 0 1 0 -1.1 0M418.3 168.1a0.6 0.6 0 1 0 1.1 0a0.6 0.6 0 1 0 -1.1 0M390.8 198.1a0.9 0.9 0 1 0 1.8 0a0.9 0.9 0 1 0 -1.8 0M461.3 168.4a0.8 0.8 0 1 0 1.6 0a0.8 0.8 0 1 0 -1.6 0M431.2 163.3a0.6 0.6 0 1 0 1.1 0a0.6 0.6 0 1 0 -1.1 0M434.1 160.7a0.8 0.8 0 1 0 1.5 0a0.8 0.8 0 1 0 -1.5 0M388.7 149.4a0.5 0.5 0 1 0 1.1 0a0.5 0.5 0 1 0 -1.1 0M443.4 163.5a0.6 0.6 0 1 0 1.2 0a0.6 0.6 0 1 0 -1.2 0M444.9 166.6a0.6 0.6 0 1 0 1.2 0a0.6 0.6 0 1 0 -1.2 0M415.3 127.2a0.5 0.5 0 1 0 1.0 0a0.5 0.5 0 1 0 -1.0 0M387.9 200.1a0.9 0.9 0 1 0 1.7 0a0.9 0.9 0 1 0 -1.7 0M426.7 198.5a0.7 0.7 0 1 0 1.4 0a0.7 0.7 0 1 0 -1.4 0M437.2 135.0a0.7 0.7 0 1 0 1.3 0a0.7 0.7 0 1 0 -1.3 0M431.7 158.1a0.8 0.8 0 1 0 1.5 0a0.8 0.8 0 1 0 -1.5 0M411.5 176.8a0.6 0.6 0 1 0 1.2 0a0.6 0.6 0 1 0 -1.2 0M422.5 159.6a0.7 0.7 0 1 0 1.4 0a0.7 0.7 0 1 0 -1.4 0M389.4 145.5a0.8 0.8 0 1 0 1.6 0a0.8 0.8 0 1 0 -1.6 0M397.7 163.3a0.9 0.9 0 1 0 1.8 0a0.9 0.9 0 1 0 -1.8 0M431.6 182.8a0.8 0.8 0 1 0 1.6 0a0.8 0.8 0 1 0 -1.6 0M459.0 156.5a0.7 0.7 0 1 0 1.3 0a0.7 0.7 0 1 0 -1.3 0M442.8 129.0a0.7 0.7 0 1 0 1.4 0a0.7 0.7 0 1 0 -1.4 0M405.9 169.4a0.8 0.8 0 1 0 1.6 0a0.8 0.8 0 1 0 -1.6 0M450.8 165.6a0.8 0.8 0 1 0 1.6 0a0.8 0.8 0 1 0 -1.6 0M391.2 177.2a0.9 0.9 0 1 0 1.7 0a0.9 0.9 0 1 0 -1.7 0M432.1 164.3a0.7 0.7 0 1 0 1.4 0a0.7 0.7 0 1 0 -1.4 0M416.8 140.7a0.6 0.6 0 1 0 1.2 0a0.6 0.6 0 1 0 -1.2 0M446.0 166.2a0.5 0.5 0 1 0 1.0 0a0.5 0.5 0 1 0 -1.0 0M432.0 190.1a0.8 0.8 0 1 0 1.5 0a0.8 0.8 0 1 0 -1.5 0M399.1 199.3a0.6 0.6 0 1 0 1.1 0a0.6 0.6 0 1 0 -1.1 0M424.1 162.0a0.6 0.6 0 1 0 1.1 0a0.6 0.6 0 1 0 -1.1 0M405.7 141.2a0.6 0.6 0 1 0 1.1 0a0.6 0.6 0 1 0 -1.1 0M388.4 176.1a0.8 0.8 0 1 0 1.5 0a0.8 0.8 0 1 0 -1.5 0M404.5 199.3a0.7 0.7 0 1 0 1.3 0a0.7 0.7 0 1 0 -1.3 0M420.0 197.5a0.8 0.8 0 1 0 1.5 0a0.8 0.8 0 1 0 -1.5 0M420.7 183.8a0.8 0.8 0 1 0 1.6 0a0.8 0.8 0 1 0 -1.6 0M408.7 132.4a0.8 0.8 0 1 0 1.6 0a0.8 0.8 0 1 0 -1.6 0M442.4 172.7a0.5 0.5 0 1 0 1.1 0a0.5 0.5 0 1 0 -1.1 0M441.8 140.4a0.8 0.8 0 1 0 1.6 0a0.8 0.8 0 1 0 -1.6 0M432.8 175.4a0.5 0.5 0 1 0 1.1 0a0.5 0.5 0 1 0 -1.1 0M413.2 182.7a0.5 0.5 0 1 0 1.1 0a0.5 0.5 0 1 0 -1.1 0M388.1 158.5a0.8 0.8 0 1 0 1.7 0a0.8 0.8 0 1 0 -1.7 0M433.4 144.6a0.5 0.5 0 1 0 1.1 0a0.5 0.5 0 1 0 -1.1 0M448.9 191.1a0.8 0.8 0 1 0 1.6 0a0.8 0.8 0 1 0 -1.6 0M401.2 184.1a0.5 0.5 0 1 0 1.0 0a0.5 0.5 0 1 0 -1.0 0M398.2 151.4a0.9 0.9 0 1 0 1.8 0a0.9 0.9 0 1 0 -1.8 0M387.9 139.3a0.8 0.8 0 1 0 1.6 0a0.8 0.8 0 1 0 -1.6 0M443.5 147.4a0.5 0.5 0 1 0 1.1 0a0.5 0.5 0 1 0 -1.1 0M450.1 200.7a0.9 0.9 0 1 0 1.7 0a0.9 0.9 0 1 0 -1.7 0M428.3 133.6a0.8 0.8 0 1 0 1.6 0a0.8 0.8 0 1 0 -1.6 0M434.6 190.2a0.8 0.8 0 1 0 1.6 0a0.8 0.8 0 1 0 -1.6 0M423.6 201.2a0.7 0.7 0 1 0 1.4 0a0.7 0.7 0 1 0 -1.4 0M419.1 175.5a0.8 0.8 0 1 0 1.6 0a0.8 0.8 0 1 0 -1.6 0M430.1 198.5a0.6 0.6 0 1 0 1.2 0a0.6 0.6 0 1 0 -1.2 0M453.6 193.8a0.6 0.6 0 1 0 1.3 0a0.6 0.6 0 1 0 -1.3 0M387.4 172.7a0.7 0.7 0 1 0 1.5 0a0.7 0.7 0 1 0 -1.5 0M458.2 169.5a0.8 0.8 0 1 0 1.6 0a0.8 0.8 0 1 0 -1.6 0M443.0 139.9a0.8 0.8 0 1 0 1.5 0a0.8 0.8 0 1 0 -1.5 0M418.8 143.5a0.6 0.6 0 1 0 1.2 0a0.6 0.6 0 1 0 -1.2 0M412.9 182.9a0.7 0.7 0 1 0 1.4 0a0.7 0.7 0 1 0 -1.4 0M409.6 131.3a0.8 0.8 0 1 0 1.6 0a0.8 0.8 0 1 0 -1.6 0M442.6 190.6a0.8 0.8 0 1 0 1.6 0a0.8 0.8 0 1 0 -1.6 0M390.1 148.4a0.7 0.7 0 1 0 1.4 0a0.7 0.7 0 1 0 -1.4 0M408.0 189.6a0.6 0.6 0 1 0 1.2 0a0.6 0.6 0 1 0 -1.2 0M386.6 161.3a0.5 0.5 0 1 0 1.0 0a0.5 0.5 0 1 0 -1.0 0" fill="#64201b" opacity="0.85"/>
<path d="M387.4 173.1a0.7 0.7 0 1 0 1.5 0a0.7 0.7 0 1 0 -1.5 0M426.5 132.4a0.7 0.7 0 1 0 1.4 0a0.7 0.7 0 1 0 -1.4 0M425.2 150.2a0.6 0.6 0 1 0 1.2 0a0.6 0.6 0 1 0 -1.2 0M397.2 163.8a0.6 0.6 0 1 0 1.3 0a0.6 0.6 0 1 0 -1.3 0M429.9 178.3a0.6 0.6 0 1 0 1.2 0a0.6 0.6 0 1 0 -1.2 0M431.4 146.7a0.8 0.8 0 1 0 1.6 0a0.8 0.8 0 1 0 -1.6 0M400.7 172.2a0.8 0.8 0 1 0 1.6 0a0.8 0.8 0 1 0 -1.6 0M446.0 167.4a0.9 0.9 0 1 0 1.7 0a0.9 0.9 0 1 0 -1.7 0M460.4 187.2a0.6 0.6 0 1 0 1.3 0a0.6 0.6 0 1 0 -1.3 0M405.7 174.6a0.6 0.6 0 1 0 1.1 0a0.6 0.6 0 1 0 -1.1 0M398.7 134.3a0.8 0.8 0 1 0 1.5 0a0.8 0.8 0 1 0 -1.5 0M414.6 197.0a0.8 0.8 0 1 0 1.6 0a0.8 0.8 0 1 0 -1.6 0M425.8 152.9a0.6 0.6 0 1 0 1.3 0a0.6 0.6 0 1 0 -1.3 0M389.1 135.5a0.8 0.8 0 1 0 1.7 0a0.8 0.8 0 1 0 -1.7 0M407.8 127.7a0.9 0.9 0 1 0 1.8 0a0.9 0.9 0 1 0 -1.8 0M414.3 185.9a0.7 0.7 0 1 0 1.4 0a0.7 0.7 0 1 0 -1.4 0M459.0 133.2a0.7 0.7 0 1 0 1.4 0a0.7 0.7 0 1 0 -1.4 0M434.4 129.0a0.9 0.9 0 1 0 1.7 0a0.9 0.9 0 1 0 -1.7 0M411.2 178.6a0.5 0.5 0 1 0 1.1 0a0.5 0.5 0 1 0 -1.1 0M391.2 133.7a0.8 0.8 0 1 0 1.6 0a0.8 0.8 0 1 0 -1.6 0M457.0 196.6a0.7 0.7 0 1 0 1.4 0a0.7 0.7 0 1 0 -1.4 0M392.2 186.1a0.7 0.7 0 1 0 1.4 0a0.7 0.7 0 1 0 -1.4 0M444.8 175.2a0.7 0.7 0 1 0 1.5 0a0.7 0.7 0 1 0 -1.5 0M398.5 137.9a0.5 0.5 0 1 0 1.1 0a0.5 0.5 0 1 0 -1.1 0M418.0 149.0a0.9 0.9 0 1 0 1.8 0a0.9 0.9 0 1 0 -1.8 0M389.2 184.7a0.5 0.5 0 1 0 1.1 0a0.5 0.5 0 1 0 -1.1 0M393.3 197.1a0.6 0.6 0 1 0 1.2 0a0.6 0.6 0 1 0 -1.2 0M430.6 171.5a0.7 0.7 0 1 0 1.3 0a0.7 0.7 0 1 0 -1.3 0M411.9 137.8a0.8 0.8 0 1 0 1.6 0a0.8 0.8 0 1 0 -1.6 0M413.5 172.7a0.8 0.8 0 1 0 1.7 0a0.8 0.8 0 1 0 -1.7 0M391.1 159.2a0.6 0.6 0 1 0 1.3 0a0.6 0.6 0 1 0 -1.3 0M456.4 174.2a0.6 0.6 0 1 0 1.2 0a0.6 0.6 0 1 0 -1.2 0M420.2 128.2a0.7 0.7 0 1 0 1.4 0a0.7 0.7 0 1 0 -1.4 0M390.6 137.6a0.7 0.7 0 1 0 1.4 0a0.7 0.7 0 1 0 -1.4 0M426.2 143.3a0.7 0.7 0 1 0 1.5 0a0.7 0.7 0 1 0 -1.5 0M409.2 180.4a0.5 0.5 0 1 0 1.0 0a0.5 0.5 0 1 0 -1.0 0M449.5 161.2a0.6 0.6 0 1 0 1.1 0a0.6 0.6 0 1 0 -1.1 0M407.6 174.8a0.5 0.5 0 1 0 1.1 0a0.5 0.5 0 1 0 -1.1 0M454.8 143.9a0.7 0.7 0 1 0 1.3 0a0.7 0.7 0 1 0 -1.3 0M390.6 161.7a0.9 0.9 0 1 0 1.8 0a0.9 0.9 0 1 0 -1.8 0M399.5 140.6a0.7 0.7 0 1 0 1.4 0a0.7 0.7 0 1 0 -1.4 0M434.1 138.0a0.6 0.6 0 1 0 1.2 0a0.6 0.6 0 1 0 -1.2 0M431.5 145.3a0.5 0.5 0 1 0 1.0 0a0.5 0.5 0 1 0 -1.0 0M438.0 193.0a0.8 0.8 0 1 0 1.6 0a0.8 0.8 0 1 0 -1.6 0M450.5 143.2a0.6 0.6 0 1 0 1.2 0a0.6 0.6 0 1 0 -1.2 0M430.9 173.8a0.8 0.8 0 1 0 1.5 0a0.8 0.8 0 1 0 -1.5 0M427.5 144.8a0.6 0.6 0 1 0 1.2 0a0.6 0.6 0 1 0 -1.2 0M391.7 131.5a0.7 0.7 0 1 0 1.5 0a0.7 0.7 0 1 0 -1.5 0M391.7 193.6a0.9 0.9 0 1 0 1.8 0a0.9 0.9 0 1 0 -1.8 0M396.4 200.4a0.7 0.7 0 1 0 1.5 0a0.7 0.7 0 1 0 -1.5 0M385.8 156.2a0.6 0.6 0 1 0 1.3 0a0.6 0.6 0 1 0 -1.3 0M408.9 132.2a0.6 0.6 0 1 0 1.2 0a0.6 0.6 0 1 0 -1.2 0M386.6 161.1a0.7 0.7 0 1 0 1.4 0a0.7 0.7 0 1 0 -1.4 0M402.8 197.3a0.9 0.9 0 1 0 1.7 0a0.9 0.9 0 1 0 -1.7 0M423.4 187.9a0.6 0.6 0 1 0 1.3 0a0.6 0.6 0 1 0 -1.3 0M442.6 186.1a0.6 0.6 0 1 0 1.3 0a0.6 0.6 0 1 0 -1.3 0M441.8 153.8a0.6 0.6 0 1 0 1.1 0a0.6 0.6 0 1 0 -1.1 0M417.1 135.7a0.8 0.8 0 1 0 1.6 0a0.8 0.8 0 1 0 -1.6 0M404.3 164.9a0.8 0.8 0 1 0 1.6 0a0.8 0.8 0 1 0 -1.6 0M430.7 196.1a0.8 0.8 0 1 0 1.6 0a0.8 0.8 0 1 0 -1.6 0M437.9 183.3a0.8 0.8 0 1 0 1.6 0a0.8 0.8 0 1 0 -1.6 0M455.2 172.2a0.8 0.8 0 1 0 1.5 0a0.8 0.8 0 1 0 -1.5 0M427.0 167.6a0.9 0.9 0 1 0 1.8 0a0.9 0.9 0 1 0 -1.8 0M408.1 141.5a0.7 0.7 0 1 0 1.4 0a0.7 0.7 0 1 0 -1.4 0M409.0 181.3a0.8 0.8 0 1 0 1.5 0a0.8 0.8 0 1 0 -1.5 0M385.4 143.0a0.7 0.7 0 1 0 1.5 0a0.7 0.7 0 1 0 -1.5 0M415.5 178.7a0.7 0.7 0 1 0 1.4 0a0.7 0.7 0 1 0 -1.4 0M393.6 179.4a0.9 0.9 0 1 0 1.8 0a0.9 0.9 0 1 0 -1.8 0M392.2 173.9a0.7 0.7 0 1 0 1.5 0a0.7 0.7 0 1 0 -1.5 0M431.9 165.5a0.7 0.7 0 1 0 1.4 0a0.7 0.7 0 1 0 -1.4 0M460.6 193.3a0.7 0.7 0 1 0 1.3 0a0.7 0.7 0 1 0 -1.3 0M447.1 177.8a0.8 0.8 0 1 0 1.6 0a0.8 0.8 0 1 0 -1.6 0M461.4 132.5a0.6 0.6 0 1 0 1.2 0a0.6 0.6 0 1 0 -1.2 0M402.8 189.2a0.9 0.9 0 1 0 1.7 0a0.9 0.9 0 1 0 -1.7 0M402.4 163.9a0.9 0.9 0 1 0 1.7 0a0.9 0.9 0 1 0 -1.7 0M440.1 171.6a0.9 0.9 0 1 0 1.7 0a0.9 0.9 0 1 0 -1.7 0M455.4 134.0a0.9 0.9 0 1 0 1.8 0a0.9 0.9 0 1 0 -1.8 0M407.4 173.7a0.8 0.8 0 1 0 1.6 0a0.8 0.8 0 1 0 -1.6 0M407.5 150.4a0.9 0.9 0 1 0 1.7 0a0.9 0.9 0 1 0 -1.7 0M445.7 201.2a0.5 0.5 0 1 0 1.1 0a0.5 0.5 0 1 0 -1.1 0M432.8 183.2a0.9 0.9 0 1 0 1.8 0a0.9 0.9 0 1 0 -1.8 0M440.7 148.4a0.5 0.5 0 1 0 1.1 0a0.5 0.5 0 1 0 -1.1 0M398.4 146.8a0.7 0.7 0 1 0 1.5 0a0.7 0.7 0 1 0 -1.5 0M410.0 138.4a0.5 0.5 0 1 0 1.1 0a0.5 0.5 0 1 0 -1.1 0M437.6 188.9a0.5 0.5 0 1 0 1.1 0a0.5 0.5 0 1 0 -1.1 0M424.4 201.5a0.6 0.6 0 1 0 1.3 0a0.6 0.6 0 1 0 -1.3 0M426.2 188.6a0.5 0.5 0 1 0 1.0 0a0.5 0.5 0 1 0 -1.0 0M451.6 185.9a0.8 0.8 0 1 0 1.6 0a0.8 0.8 0 1 0 -1.6 0M411.2 164.4a0.9 0.9 0 1 0 1.8 0a0.9 0.9 0 1 0 -1.8 0M389.9 133.3a0.8 0.8 0 1 0 1.5 0a0.8 0.8 0 1 0 -1.5 0M457.9 138.4a0.6 0.6 0 1 0 1.2 0a0.6 0.6 0 1 0 -1.2 0M420.3 187.0a0.7 0.7 0 1 0 1.5 0a0.7 0.7 0 1 0 -1.5 0M435.6 131.0a0.6 0.6 0 1 0 1.2 0a0.6 0.6 0 1 0 -1.2 0M430.0 182.1a0.5 0.5 0 1 0 1.1 0a0.5 0.5 0 1 0 -1.1 0M392.2 151.0a0.7 0.7 0 1 0 1.3 0a0.7 0.7 0 1 0 -1.3 0M410.8 140.0a0.5 0.5 0 1 0 1.1 0a0.5 0.5 0 1 0 -1.1 0M434.4 199.5a0.8 0.8 0 1 0 1.5 0a0.8 0.8 0 1 0 -1.5 0M455.2 136.7a0.7 0.7 0 1 0 1.5 0a0.7 0.7 0 1 0 -1.5 0M413.0 191.4a0.7 0.7 0 1 0 1.5 0a0.7 0.7 0 1 0 -1.5 0M431.8 196.5a0.9 0.9 0 1 0 1.8 0a0.9 0.9 0 1 0 -1.8 0M395.9 160.3a0.5 0.5 0 1 0 1.1 0a0.5 0.5 0 1 0 -1.1 0M427.9 144.1a0.8 0.8 0 1 0 1.6 0a0.8 0.8 0 1 0 -1.6 0M412.2 127.7a0.9 0.9 0 1 0 1.7 0a0.9 0.9 0 1 0 -1.7 0M394.9 147.5a0.7 0.7 0 1 0 1.4 0a0.7 0.7 0 1 0 -1.4 0M389.6 185.7a0.8 0.8 0 1 0 1.6 0a0.8 0.8 0 1 0 -1.6 0M394.4 174.2a0.6 0.6 0 1 0 1.1 0a0.6 0.6 0 1 0 -1.1 0M425.8 134.2a0.6 0.6 0 1 0 1.2 0a0.6 0.6 0 1 0 -1.2 0M419.5 168.4a0.8 0.8 0 1 0 1.5 0a0.8 0.8 0 1 0 -1.5 0M455.9 152.5a0.6 0.6 0 1 0 1.3 0a0.6 0.6 0 1 0 -1.3 0M401.3 183.1a0.6 0.6 0 1 0 1.3 0a0.6 0.6 0 1 0 -1.3 0M401.5 141.7a0.7 0.7 0 1 0 1.3 0a0.7 0.7 0 1 0 -1.3 0M448.8 160.3a0.8 0.8 0 1 0 1.7 0a0.8 0.8 0 1 0 -1.7 0M421.3 171.2a0.6 0.6 0 1 0 1.2 0a0.6 0.6 0 1 0 -1.2 0M416.6 182.1a0.5 0.5 0 1 0 1.1 0a0.5 0.5 0 1 0 -1.1 0M419.9 146.3a0.6 0.6 0 1 0 1.2 0a0.6 0.6 0 1 0 -1.2 0M411.0 142.1a0.7 0.7 0 1 0 1.5 0a0.7 0.7 0 1 0 -1.5 0M388.5 145.2a0.6 0.6 0 1 0 1.2 0a0.6 0.6 0 1 0 -1.2 0M399.0 190.4a0.8 0.8 0 1 0 1.5 0a0.8 0.8 0 1 0 -1.5 0M453.0 137.2a0.6 0.6 0 1 0 1.2 0a0.6 0.6 0 1 0 -1.2 0M409.0 165.7a0.8 0.8 0 1 0 1.7 0a0.8 0.8 0 1 0 -1.7 0M449.0 192.4a0.5 0.5 0 1 0 1.0 0a0.5 0.5 0 1 0 -1.0 0M387.4 152.7a0.7 0.7 0 1 0 1.3 0a0.7 0.7 0 1 0 -1.3 0M385.9 153.7a0.6 0.6 0 1 0 1.1 0a0.6 0.6 0 1 0 -1.1 0M451.9 143.1a0.6 0.6 0 1 0 1.3 0a0.6 0.6 0 1 0 -1.3 0M398.8 191.5a0.5 0.5 0 1 0 1.1 0a0.5 0.5 0 1 0 -1.1 0M418.9 143.8a0.6 0.6 0 1 0 1.2 0a0.6 0.6 0 1 0 -1.2 0M460.9 181.3a0.8 0.8 0 1 0 1.6 0a0.8 0.8 0 1 0 -1.6 0M412.1 201.3a0.9 0.9 0 1 0 1.8 0a0.9 0.9 0 1 0 -1.8 0M433.8 144.3a0.5 0.5 0 1 0 1.0 0a0.5 0.5 0 1 0 -1.0 0M426.6 164.0a0.8 0.8 0 1 0 1.7 0a0.8 0.8 0 1 0 -1.7 0M461.4 189.1a0.6 0.6 0 1 0 1.2 0a0.6 0.6 0 1 0 -1.2 0M460.4 173.6a0.5 0.5 0 1 0 1.0 0a0.5 0.5 0 1 0 -1.0 0M401.0 199.9a0.8 0.8 0 1 0 1.6 0a0.8 0.8 0 1 0 -1.6 0M441.8 177.3a0.5 0.5 0 1 0 1.0 0a0.5 0.5 0 1 0 -1.0 0M456.5 149.7a0.8 0.8 0 1 0 1.6 0a0.8 0.8 0 1 0 -1.6 0M426.3 164.2a0.7 0.7 0 1 0 1.4 0a0.7 0.7 0 1 0 -1.4 0M455.2 190.5a0.7 0.7 0 1 0 1.3 0a0.7 0.7 0 1 0 -1.3 0M450.2 140.4a0.6 0.6 0 1 0 1.3 0a0.6 0.6 0 1 0 -1.3 0M409.8 130.7a0.7 0.7 0 1 0 1.3 0a0.7 0.7 0 1 0 -1.3 0M385.3 200.6a0.8 0.8 0 1 0 1.7 0a0.8 0.8 0 1 0 -1.7 0M421.9 131.8a0.6 0.6 0 1 0 1.2 0a0.6 0.6 0 1 0 -1.2 0M444.3 149.4a0.5 0.5 0 1 0 1.1 0a0.5 0.5 0 1 0 -1.1 0M418.0 171.0a0.6 0.6 0 1 0 1.1 0a0.6 0.6 0 1 0 -1.1 0M413.9 169.3a0.8 0.8 0 1 0 1.6 0a0.8 0.8 0 1 0 -1.6 0M416.4 202.3a0.6 0.6 0 1 0 1.2 0a0.6 0.6 0 1 0 -1.2 0M442.2 133.1a0.9 0.9 0 1 0 1.7 0a0.9 0.9 0 1 0 -1.7 0M426.6 140.2a0.8 0.8 0 1 0 1.7 0a0.8 0.8 0 1 0 -1.7 0M452.4 137.0a0.9 0.9 0 1 0 1.7 0a0.9 0.9 0 1 0 -1.7 0M458.2 154.1a0.8 0.8 0 1 0 1.6 0a0.8 0.8 0 1 0 -1.6 0M440.2 170.1a0.7 0.7 0 1 0 1.3 0a0.7 0.7 0 1 0 -1.3 0M409.0 189.0a0.8 0.8 0 1 0 1.6 0a0.8 0.8 0 1 0 -1.6 0M457.2 132.3a0.7 0.7 0 1 0 1.5 0a0.7 0.7 0 1 0 -1.5 0M439.2 143.6a0.5 0.5 0 1 0 1.0 0a0.5 0.5 0 1 0 -1.0 0M453.2 186.4a0.8 0.8 0 1 0 1.6 0a0.8 0.8 0 1 0 -1.6 0M410.5 160.4a0.8 0.8 0 1 0 1.7 0a0.8 0.8 0 1 0 -1.7 0M392.3 182.0a0.8 0.8 0 1 0 1.6 0a0.8 0.8 0 1 0 -1.6 0M420.5 199.4a0.8 0.8 0 1 0 1.5 0a0.8 0.8 0 1 0 -1.5 0M452.6 141.8a0.7 0.7 0 1 0 1.3 0a0.7 0.7 0 1 0 -1.3 0M407.4 164.9a0.8 0.8 0 1 0 1.6 0a0.8 0.8 0 1 0 -1.6 0M460.6 196.2a0.8 0.8 0 1 0 1.7 0a0.8 0.8 0 1 0 -1.7 0M459.4 182.8a0.8 0.8 0 1 0 1.6 0a0.8 0.8 0 1 0 -1.6 0M392.2 158.0a0.7 0.7 0 1 0 1.4 0a0.7 0.7 0 1 0 -1.4 0M393.4 195.5a0.6 0.6 0 1 0 1.3 0a0.6 0.6 0 1 0 -1.3 0M403.8 133.3a0.7 0.7 0 1 0 1.4 0a0.7 0.7 0 1 0 -1.4 0M410.9 199.1a0.8 0.8 0 1 0 1.5 0a0.8 0.8 0 1 0 -1.5 0M418.2 139.1a0.5 0.5 0 1 0 1.0 0a0.5 0.5 0 1 0 -1.0 0M437.7 173.6a0.7 0.7 0 1 0 1.4 0a0.7 0.7 0 1 0 -1.4 0M423.7 158.3a0.9 0.9 0 1 0 1.7 0a0.9 0.9 0 1 0 -1.7 0M389.4 144.7a0.8 0.8 0 1 0 1.6 0a0.8 0.8 0 1 0 -1.6 0M409.3 152.3a0.7 0.7 0 1 0 1.3 0a0.7 0.7 0 1 0 -1.3 0M408.0 184.7a0.5 0.5 0 1 0 1.1 0a0.5 0.5 0 1 0 -1.1 0M427.6 181.3a0.6 0.6 0 1 0 1.3 0a0.6 0.6 0 1 0 -1.3 0M440.8 154.0a0.7 0.7 0 1 0 1.5 0a0.7 0.7 0 1 0 -1.5 0M393.1 151.2a0.7 0.7 0 1 0 1.4 0a0.7 0.7 0 1 0 -1.4 0M432.0 162.3a0.5 0.5 0 1 0 1.0 0a0.5 0.5 0 1 0 -1.0 0M426.4 192.8a0.6 0.6 0 1 0 1.2 0a0.6 0.6 0 1 0 -1.2 0M401.3 174.2a0.6 0.6 0 1 0 1.2 0a0.6 0.6 0 1 0 -1.2 0M393.0 132.7a0.7 0.7 0 1 0 1.5 0a0.7 0.7 0 1 0 -1.5 0M452.4 185.7a0.7 0.7 0 1 0 1.5 0a0.7 0.7 0 1 0 -1.5 0M452.0 191.5a0.6 0.6 0 1 0 1.2 0a0.6 0.6 0 1 0 -1.2 0M414.1 201.0a0.9 0.9 0 1 0 1.8 0a0.9 0.9 0 1 0 -1.8 0M434.1 174.9a0.6 0.6 0 1 0 1.3 0a0.6 0.6 0 1 0 -1.3 0M392.3 152.1a0.6 0.6 0 1 0 1.2 0a0.6 0.6 0 1 0 -1.2 0M433.3 176.8a0.8 0.8 0 1 0 1.5 0a0.8 0.8 0 1 0 -1.5 0M454.8 127.2a0.6 0.6 0 1 0 1.2 0a0.6 0.6 0 1 0 -1.2 0M392.7 155.2a0.9 0.9 0 1 0 1.7 0a0.9 0.9 0 1 0 -1.7 0M421.0 187.8a0.6 0.6 0 1 0 1.1 0a0.6 0.6 0 1 0 -1.1 0M412.4 187.7a0.6 0.6 0 1 0 1.2 0a0.6 0.6 0 1 0 -1.2 0M440.8 172.6a0.8 0.8 0 1 0 1.5 0a0.8 0.8 0 1 0 -1.5 0M387.3 154.4a0.9 0.9 0 1 0 1.8 0a0.9 0.9 0 1 0 -1.8 0M413.7 148.2a0.9 0.9 0 1 0 1.8 0a0.9 0.9 0 1 0 -1.8 0M430.2 179.9a0.7 0.7 0 1 0 1.4 0a0.7 0.7 0 1 0 -1.4 0M432.8 156.7a0.6 0.6 0 1 0 1.2 0a0.6 0.6 0 1 0 -1.2 0M407.4 144.4a0.8 0.8 0 1 0 1.6 0a0.8 0.8 0 1 0 -1.6 0M392.0 136.0a0.7 0.7 0 1 0 1.4 0a0.7 0.7 0 1 0 -1.4 0M460.6 186.4a0.8 0.8 0 1 0 1.5 0a0.8 0.8 0 1 0 -1.5 0M441.7 142.8a0.7 0.7 0 1 0 1.4 0a0.7 0.7 0 1 0 -1.4 0M386.8 166.6a0.5 0.5 0 1 0 1.0 0a0.5 0.5 0 1 0 -1.0 0M394.2 136.3a0.6 0.6 0 1 0 1.3 0a0.6 0.6 0 1 0 -1.3 0M421.6 143.7a0.5 0.5 0 1 0 1.1 0a0.5 0.5 0 1 0 -1.1 0M394.4 199.2a0.9 0.9 0 1 0 1.8 0a0.9 0.9 0 1 0 -1.8 0M455.0 137.5a0.6 0.6 0 1 0 1.2 0a0.6 0.6 0 1 0 -1.2 0M452.3 128.3a0.6 0.6 0 1 0 1.1 0a0.6 0.6 0 1 0 -1.1 0M434.5 200.3a0.9 0.9 0 1 0 1.7 0a0.9 0.9 0 1 0 -1.7 0M449.5 151.2a0.8 0.8 0 1 0 1.6 0a0.8 0.8 0 1 0 -1.6 0M456.4 195.4a0.9 0.9 0 1 0 1.8 0a0.9 0.9 0 1 0 -1.8 0M443.2 186.8a0.8 0.8 0 1 0 1.6 0a0.8 0.8 0 1 0 -1.6 0M417.3 170.6a0.9 0.9 0 1 0 1.7 0a0.9 0.9 0 1 0 -1.7 0M428.8 129.0a0.7 0.7 0 1 0 1.4 0a0.7 0.7 0 1 0 -1.4 0M451.6 180.9a0.7 0.7 0 1 0 1.4 0a0.7 0.7 0 1 0 -1.4 0M456.5 184.5a0.6 0.6 0 1 0 1.2 0a0.6 0.6 0 1 0 -1.2 0M438.9 193.1a0.5 0.5 0 1 0 1.0 0a0.5 0.5 0 1 0 -1.0 0M456.5 159.9a0.8 0.8 0 1 0 1.7 0a0.8 0.8 0 1 0 -1.7 0M386.3 151.4a0.6 0.6 0 1 0 1.2 0a0.6 0.6 0 1 0 -1.2 0M401.7 177.0a0.8 0.8 0 1 0 1.6 0a0.8 0.8 0 1 0 -1.6 0M434.9 196.2a0.5 0.5 0 1 0 1.1 0a0.5 0.5 0 1 0 -1.1 0M407.0 157.6a0.8 0.8 0 1 0 1.6 0a0.8 0.8 0 1 0 -1.6 0M441.3 202.3a0.8 0.8 0 1 0 1.7 0a0.8 0.8 0 1 0 -1.7 0M425.5 183.2a0.8 0.8 0 1 0 1.7 0a0.8 0.8 0 1 0 -1.7 0M424.8 178.7a0.8 0.8 0 1 0 1.7 0a0.8 0.8 0 1 0 -1.7 0M448.8 139.0a0.5 0.5 0 1 0 1.0 0a0.5 0.5 0 1 0 -1.0 0M439.2 189.0a0.6 0.6 0 1 0 1.2 0a0.6 0.6 0 1 0 -1.2 0M450.2 184.5a0.6 0.6 0 1 0 1.1 0a0.6 0.6 0 1 0 -1.1 0M397.0 177.0a0.7 0.7 0 1 0 1.5 0a0.7 0.7 0 1 0 -1.5 0" fill="#8a2b25" opacity="0.85"/>
<path d="M397.6 196.0a0.6 0.6 0 1 0 1.2 0a0.6 0.6 0 1 0 -1.2 0M448.8 198.8a0.6 0.6 0 1 0 1.1 0a0.6 0.6 0 1 0 -1.1 0M438.4 168.8a0.9 0.9 0 1 0 1.8 0a0.9 0.9 0 1 0 -1.8 0M419.2 158.4a0.6 0.6 0 1 0 1.2 0a0.6 0.6 0 1 0 -1.2 0M449.5 151.4a0.9 0.9 0 1 0 1.8 0a0.9 0.9 0 1 0 -1.8 0M388.2 194.5a0.5 0.5 0 1 0 1.0 0a0.5 0.5 0 1 0 -1.0 0M440.4 199.1a0.6 0.6 0 1 0 1.3 0a0.6 0.6 0 1 0 -1.3 0M430.4 158.5a0.5 0.5 0 1 0 1.1 0a0.5 0.5 0 1 0 -1.1 0M449.0 164.6a0.9 0.9 0 1 0 1.7 0a0.9 0.9 0 1 0 -1.7 0M388.2 139.5a0.6 0.6 0 1 0 1.2 0a0.6 0.6 0 1 0 -1.2 0M447.6 128.9a0.5 0.5 0 1 0 1.0 0a0.5 0.5 0 1 0 -1.0 0M413.9 156.5a0.9 0.9 0 1 0 1.8 0a0.9 0.9 0 1 0 -1.8 0M450.5 145.3a0.8 0.8 0 1 0 1.7 0a0.8 0.8 0 1 0 -1.7 0M412.4 185.2a0.8 0.8 0 1 0 1.6 0a0.8 0.8 0 1 0 -1.6 0M390.7 162.8a0.7 0.7 0 1 0 1.4 0a0.7 0.7 0 1 0 -1.4 0M420.2 169.2a0.8 0.8 0 1 0 1.6 0a0.8 0.8 0 1 0 -1.6 0M415.7 166.5a0.9 0.9 0 1 0 1.7 0a0.9 0.9 0 1 0 -1.7 0M437.2 141.8a0.6 0.6 0 1 0 1.1 0a0.6 0.6 0 1 0 -1.1 0M406.0 199.3a0.7 0.7 0 1 0 1.3 0a0.7 0.7 0 1 0 -1.3 0M452.1 200.3a0.8 0.8 0 1 0 1.6 0a0.8 0.8 0 1 0 -1.6 0M413.4 183.6a0.7 0.7 0 1 0 1.5 0a0.7 0.7 0 1 0 -1.5 0M457.7 165.2a0.8 0.8 0 1 0 1.6 0a0.8 0.8 0 1 0 -1.6 0M437.5 174.9a0.6 0.6 0 1 0 1.2 0a0.6 0.6 0 1 0 -1.2 0M428.4 159.6a0.8 0.8 0 1 0 1.6 0a0.8 0.8 0 1 0 -1.6 0M444.2 142.8a0.7 0.7 0 1 0 1.3 0a0.7 0.7 0 1 0 -1.3 0M404.8 200.0a0.7 0.7 0 1 0 1.4 0a0.7 0.7 0 1 0 -1.4 0M419.4 200.3a0.9 0.9 0 1 0 1.7 0a0.9 0.9 0 1 0 -1.7 0M450.8 165.3a0.6 0.6 0 1 0 1.1 0a0.6 0.6 0 1 0 -1.1 0M413.7 133.5a0.7 0.7 0 1 0 1.4 0a0.7 0.7 0 1 0 -1.4 0M419.4 163.5a0.9 0.9 0 1 0 1.9 0a0.9 0.9 0 1 0 -1.9 0M426.0 139.7a0.6 0.6 0 1 0 1.2 0a0.6 0.6 0 1 0 -1.2 0M437.0 166.3a0.7 0.7 0 1 0 1.4 0a0.7 0.7 0 1 0 -1.4 0M422.8 158.2a0.8 0.8 0 1 0 1.6 0a0.8 0.8 0 1 0 -1.6 0M430.4 130.8a0.7 0.7 0 1 0 1.4 0a0.7 0.7 0 1 0 -1.4 0M404.3 171.3a0.7 0.7 0 1 0 1.4 0a0.7 0.7 0 1 0 -1.4 0M443.0 200.3a0.8 0.8 0 1 0 1.7 0a0.8 0.8 0 1 0 -1.7 0M432.5 165.6a0.6 0.6 0 1 0 1.1 0a0.6 0.6 0 1 0 -1.1 0M440.9 142.1a0.7 0.7 0 1 0 1.3 0a0.7 0.7 0 1 0 -1.3 0M429.5 147.2a0.9 0.9 0 1 0 1.8 0a0.9 0.9 0 1 0 -1.8 0M427.1 200.9a0.5 0.5 0 1 0 1.0 0a0.5 0.5 0 1 0 -1.0 0M420.6 151.6a0.8 0.8 0 1 0 1.5 0a0.8 0.8 0 1 0 -1.5 0M434.4 171.9a0.9 0.9 0 1 0 1.8 0a0.9 0.9 0 1 0 -1.8 0M418.7 155.2a0.8 0.8 0 1 0 1.7 0a0.8 0.8 0 1 0 -1.7 0M427.3 147.5a0.9 0.9 0 1 0 1.8 0a0.9 0.9 0 1 0 -1.8 0M402.5 132.8a0.7 0.7 0 1 0 1.5 0a0.7 0.7 0 1 0 -1.5 0M454.4 191.9a0.9 0.9 0 1 0 1.7 0a0.9 0.9 0 1 0 -1.7 0M431.8 165.9a0.6 0.6 0 1 0 1.3 0a0.6 0.6 0 1 0 -1.3 0M397.7 160.7a0.9 0.9 0 1 0 1.7 0a0.9 0.9 0 1 0 -1.7 0M427.3 201.5a0.9 0.9 0 1 0 1.7 0a0.9 0.9 0 1 0 -1.7 0M426.7 172.0a0.7 0.7 0 1 0 1.4 0a0.7 0.7 0 1 0 -1.4 0M454.4 190.3a0.6 0.6 0 1 0 1.2 0a0.6 0.6 0 1 0 -1.2 0M453.9 178.5a0.7 0.7 0 1 0 1.3 0a0.7 0.7 0 1 0 -1.3 0M441.8 159.1a0.8 0.8 0 1 0 1.6 0a0.8 0.8 0 1 0 -1.6 0M423.5 175.0a0.9 0.9 0 1 0 1.8 0a0.9 0.9 0 1 0 -1.8 0M453.1 163.6a0.7 0.7 0 1 0 1.3 0a0.7 0.7 0 1 0 -1.3 0M439.8 177.7a0.5 0.5 0 1 0 1.1 0a0.5 0.5 0 1 0 -1.1 0M424.0 148.3a0.8 0.8 0 1 0 1.6 0a0.8 0.8 0 1 0 -1.6 0M398.1 149.7a0.6 0.6 0 1 0 1.2 0a0.6 0.6 0 1 0 -1.2 0M406.5 170.0a0.9 0.9 0 1 0 1.8 0a0.9 0.9 0 1 0 -1.8 0M433.9 176.2a0.8 0.8 0 1 0 1.7 0a0.8 0.8 0 1 0 -1.7 0" fill="#b8302a" opacity="0.9"/>
<path d="M415.0 159.6a0.7 0.7 0 1 0 1.4 0a0.7 0.7 0 1 0 -1.4 0M400.9 184.3a0.8 0.8 0 1 0 1.5 0a0.8 0.8 0 1 0 -1.5 0M452.3 132.0a0.8 0.8 0 1 0 1.5 0a0.8 0.8 0 1 0 -1.5 0M402.3 136.9a0.7 0.7 0 1 0 1.3 0a0.7 0.7 0 1 0 -1.3 0M411.7 140.6a0.7 0.7 0 1 0 1.3 0a0.7 0.7 0 1 0 -1.3 0M426.2 167.8a0.6 0.6 0 1 0 1.3 0a0.6 0.6 0 1 0 -1.3 0M432.3 186.2a0.7 0.7 0 1 0 1.4 0a0.7 0.7 0 1 0 -1.4 0M439.1 190.0a0.6 0.6 0 1 0 1.2 0a0.6 0.6 0 1 0 -1.2 0M434.2 135.6a0.5 0.5 0 1 0 1.0 0a0.5 0.5 0 1 0 -1.0 0M419.9 178.8a0.5 0.5 0 1 0 1.1 0a0.5 0.5 0 1 0 -1.1 0M458.5 149.0a0.6 0.6 0 1 0 1.2 0a0.6 0.6 0 1 0 -1.2 0M421.2 200.9a0.5 0.5 0 1 0 1.0 0a0.5 0.5 0 1 0 -1.0 0M404.5 175.3a0.6 0.6 0 1 0 1.2 0a0.6 0.6 0 1 0 -1.2 0M411.3 137.0a0.8 0.8 0 1 0 1.5 0a0.8 0.8 0 1 0 -1.5 0M419.1 171.0a0.5 0.5 0 1 0 1.1 0a0.5 0.5 0 1 0 -1.1 0M456.6 135.1a0.7 0.7 0 1 0 1.4 0a0.7 0.7 0 1 0 -1.4 0M390.3 167.4a0.6 0.6 0 1 0 1.1 0a0.6 0.6 0 1 0 -1.1 0M457.7 160.4a0.7 0.7 0 1 0 1.5 0a0.7 0.7 0 1 0 -1.5 0M387.3 145.0a0.8 0.8 0 1 0 1.6 0a0.8 0.8 0 1 0 -1.6 0M413.6 129.9a0.5 0.5 0 1 0 1.1 0a0.5 0.5 0 1 0 -1.1 0M413.0 167.1a0.6 0.6 0 1 0 1.2 0a0.6 0.6 0 1 0 -1.2 0M408.5 163.1a0.6 0.6 0 1 0 1.2 0a0.6 0.6 0 1 0 -1.2 0M399.2 166.4a0.7 0.7 0 1 0 1.3 0a0.7 0.7 0 1 0 -1.3 0M429.1 183.3a0.6 0.6 0 1 0 1.2 0a0.6 0.6 0 1 0 -1.2 0M401.7 198.8a0.5 0.5 0 1 0 1.0 0a0.5 0.5 0 1 0 -1.0 0M408.5 158.7a0.6 0.6 0 1 0 1.2 0a0.6 0.6 0 1 0 -1.2 0M401.4 192.5a0.6 0.6 0 1 0 1.1 0a0.6 0.6 0 1 0 -1.1 0M427.1 173.4a0.5 0.5 0 1 0 1.0 0a0.5 0.5 0 1 0 -1.0 0M418.2 137.1a0.6 0.6 0 1 0 1.3 0a0.6 0.6 0 1 0 -1.3 0M440.8 192.0a0.8 0.8 0 1 0 1.6 0a0.8 0.8 0 1 0 -1.6 0M393.9 161.9a0.7 0.7 0 1 0 1.4 0a0.7 0.7 0 1 0 -1.4 0M413.8 198.9a0.6 0.6 0 1 0 1.2 0a0.6 0.6 0 1 0 -1.2 0M451.7 132.1a0.6 0.6 0 1 0 1.2 0a0.6 0.6 0 1 0 -1.2 0M438.4 190.7a0.6 0.6 0 1 0 1.2 0a0.6 0.6 0 1 0 -1.2 0M450.8 184.8a0.6 0.6 0 1 0 1.2 0a0.6 0.6 0 1 0 -1.2 0M439.5 166.3a0.5 0.5 0 1 0 1.0 0a0.5 0.5 0 1 0 -1.0 0M453.8 191.3a0.8 0.8 0 1 0 1.5 0a0.8 0.8 0 1 0 -1.5 0M403.4 186.1a0.5 0.5 0 1 0 0.9 0a0.5 0.5 0 1 0 -0.9 0M423.4 150.0a0.6 0.6 0 1 0 1.3 0a0.6 0.6 0 1 0 -1.3 0M414.5 168.9a0.6 0.6 0 1 0 1.2 0a0.6 0.6 0 1 0 -1.2 0M443.3 177.1a0.5 0.5 0 1 0 1.1 0a0.5 0.5 0 1 0 -1.1 0M400.5 145.1a0.6 0.6 0 1 0 1.1 0a0.6 0.6 0 1 0 -1.1 0M417.6 165.4a0.7 0.7 0 1 0 1.4 0a0.7 0.7 0 1 0 -1.4 0M460.3 146.9a0.6 0.6 0 1 0 1.1 0a0.6 0.6 0 1 0 -1.1 0M424.8 127.5a0.7 0.7 0 1 0 1.3 0a0.7 0.7 0 1 0 -1.3 0M388.1 172.2a0.7 0.7 0 1 0 1.3 0a0.7 0.7 0 1 0 -1.3 0M414.6 202.4a0.6 0.6 0 1 0 1.1 0a0.6 0.6 0 1 0 -1.1 0M386.7 135.1a0.5 0.5 0 1 0 1.1 0a0.5 0.5 0 1 0 -1.1 0M441.6 183.3a0.6 0.6 0 1 0 1.1 0a0.6 0.6 0 1 0 -1.1 0M452.8 139.4a0.5 0.5 0 1 0 1.1 0a0.5 0.5 0 1 0 -1.1 0M428.8 167.5a0.7 0.7 0 1 0 1.5 0a0.7 0.7 0 1 0 -1.5 0M408.8 195.6a0.7 0.7 0 1 0 1.3 0a0.7 0.7 0 1 0 -1.3 0M438.0 170.7a0.5 0.5 0 1 0 1.0 0a0.5 0.5 0 1 0 -1.0 0M428.4 198.8a0.5 0.5 0 1 0 0.9 0a0.5 0.5 0 1 0 -0.9 0M410.6 150.5a0.5 0.5 0 1 0 1.1 0a0.5 0.5 0 1 0 -1.1 0" fill="#5e8a2e" opacity="0.9"/>
</g>
<rect x="464.00" y="126.00" width="65.90" height="65.60" fill="#626264" />
<clipPath id="ci464"><rect x="464" y="126" width="65.89999999999998" height="65.6"/></clipPath>
<g clip-path="url(#ci464)"><g filter="url(#b6)">
<circle cx="470.7" cy="132.1" r="1.7" fill="#d8404a" opacity="0.8"/>
<circle cx="480.7" cy="133.1" r="1.7" fill="#d8404a" opacity="0.8"/>
<circle cx="484.4" cy="135.3" r="1.7" fill="#d8404a" opacity="0.8"/>
<circle cx="496.0" cy="132.7" r="1.7" fill="#d8404a" opacity="0.8"/>
<circle cx="520.7" cy="138.6" r="2.8" fill="#d8404a" opacity="0.8"/>
<circle cx="490.8" cy="139.0" r="1.7" fill="#d8404a" opacity="0.8"/>
<circle cx="494.8" cy="141.2" r="1.7" fill="#d8404a" opacity="0.8"/>
<circle cx="469.2" cy="144.5" r="2.2" fill="#d8404a" opacity="0.8"/>
<circle cx="476.3" cy="146.4" r="1.7" fill="#d8404a" opacity="0.8"/>
<circle cx="480.7" cy="144.9" r="1.7" fill="#d8404a" opacity="0.8"/>
<circle cx="499.7" cy="149.4" r="2.2" fill="#d8404a" opacity="0.8"/>
<circle cx="514.0" cy="147.5" r="2.2" fill="#d8404a" opacity="0.8"/>
<circle cx="519.2" cy="150.1" r="1.7" fill="#d8404a" opacity="0.8"/>
<circle cx="484.4" cy="156.3" r="2.0" fill="#d8404a" opacity="0.8"/>
<circle cx="495.8" cy="157.5" r="1.7" fill="#d8404a" opacity="0.8"/>
<circle cx="474.1" cy="153.8" r="1.7" fill="#d8404a" opacity="0.8"/>
<circle cx="522.2" cy="157.1" r="1.7" fill="#d8404a" opacity="0.8"/>
<circle cx="493.3" cy="160.8" r="1.7" fill="#d8404a" opacity="0.8"/>
<circle cx="513.3" cy="163.4" r="2.4" fill="#d8404a" opacity="0.8"/>
<circle cx="519.2" cy="164.2" r="1.7" fill="#d8404a" opacity="0.8"/>
<circle cx="494.3" cy="165.2" r="1.7" fill="#d8404a" opacity="0.8"/>
<circle cx="500.0" cy="167.1" r="1.7" fill="#d8404a" opacity="0.8"/>
<circle cx="507.7" cy="167.1" r="1.7" fill="#d8404a" opacity="0.8"/>
<circle cx="469.6" cy="169.7" r="1.7" fill="#d8404a" opacity="0.8"/>
<circle cx="510.3" cy="176.5" r="2.4" fill="#d8404a" opacity="0.8"/>
<circle cx="515.5" cy="173.1" r="1.7" fill="#d8404a" opacity="0.8"/>
<circle cx="526.3" cy="176.8" r="2.2" fill="#d8404a" opacity="0.8"/>
<circle cx="505.9" cy="179.7" r="2.8" fill="#d8404a" opacity="0.8"/>
<circle cx="495.5" cy="179.0" r="1.7" fill="#d8404a" opacity="0.8"/>
<circle cx="475.1" cy="181.9" r="1.7" fill="#d8404a" opacity="0.8"/>
<circle cx="476.6" cy="187.1" r="2.8" fill="#d8404a" opacity="0.8"/>
<circle cx="500.0" cy="183.4" r="1.7" fill="#d8404a" opacity="0.8"/>
<circle cx="491.1" cy="181.9" r="1.7" fill="#d8404a" opacity="0.8"/>
<circle cx="525.1" cy="182.7" r="1.7" fill="#d8404a" opacity="0.8"/>
<circle cx="508.1" cy="190.1" r="2.2" fill="#d8404a" opacity="0.8"/>
<circle cx="516.2" cy="190.8" r="1.7" fill="#d8404a" opacity="0.8"/>
<circle cx="482.2" cy="188.3" r="1.7" fill="#d8404a" opacity="0.8"/>
<circle cx="499.2" cy="127.2" r="1.7" fill="#d8404a" opacity="0.8"/>
<circle cx="523.6" cy="128.7" r="1.7" fill="#d8404a" opacity="0.8"/>
<circle cx="477.8" cy="127.9" r="1.7" fill="#d8404a" opacity="0.8"/>
<circle cx="528.1" cy="139.0" r="1.7" fill="#d8404a" opacity="0.8"/>
<circle cx="465.9" cy="130.1" r="1.7" fill="#d8404a" opacity="0.8"/>
<circle cx="470.5" cy="161.0" r="2.0" fill="#d8404a" opacity="0.8"/>
<circle cx="505.0" cy="140.5" r="1.6" fill="#d8404a" opacity="0.8"/>
<circle cx="507.1" cy="139.8" r="1.7" fill="#86d24a" opacity="0.95"/>
<circle cx="473.0" cy="160.8" r="1.9" fill="#86d24a" opacity="0.95"/>
<circle cx="492.9" cy="152.3" r="2.2" fill="#86d24a" opacity="0.95"/>
<circle cx="482.2" cy="174.1" r="1.6" fill="#86d24a" opacity="0.95"/>
<circle cx="490.3" cy="184.2" r="1.5" fill="#86d24a" opacity="0.95"/>
<circle cx="523.6" cy="161.7" r="1.2" fill="#86d24a" opacity="0.95"/>
<circle cx="504.0" cy="167.6" r="1.1" fill="#86d24a" opacity="0.95"/>
<circle cx="515.1" cy="164.2" r="1.0" fill="#86d24a" opacity="0.95"/>
</g></g>
<rect x="464.00" y="126.00" width="65.90" height="65.60" fill="none" stroke="#262424" stroke-width="1.1" />
<rect x="421.50" y="157.60" width="20.60" height="20.10" fill="none" stroke="#d4d4d4" stroke-width="1.4" />
<line x1="442.10" y1="160.70" x2="462.60" y2="142.50" stroke="#d4d4d4" stroke-width="1.4" />
<line x1="442.10" y1="170.00" x2="462.00" y2="170.00" stroke="#9c9c9c" stroke-width="1.5" />
<rect x="501.10" y="134.30" width="11.70" height="10.20" fill="none" stroke="#f6f6f6" stroke-width="1.5" />
<rect x="467.00" y="156.30" width="11.90" height="9.80" fill="none" stroke="#f6f6f6" stroke-width="1.5" />
<rect x="511.80" y="182.20" width="11.10" height="2.60" fill="#fff" />
<path d="M505 134 V118.9 H647.8" stroke="#1a1a1a" stroke-width="1.6" stroke-dasharray="4.2 2.8" fill="none"/>
<line x1="647.40" y1="118.90" x2="649.40" y2="121.60" stroke="#1a1a1a" stroke-width="1.5" />
<path d="M472 166.4 V209.8 H574.9 V204" stroke="#1a1a1a" stroke-width="1.6" stroke-dasharray="4.2 2.8" fill="none"/>
<clipPath id="cA"><rect x="538.4" y="126.2" width="77.39999999999998" height="76.60000000000001"/></clipPath>
<g clip-path="url(#cA)">
<rect x="538.40" y="126.20" width="77.40" height="76.60" fill="#b9b8b8" />
<g filter="url(#b6)">
<path d="M538 126 H552 C548 140 552 150 546 160 C542 176 552 190 556 203 H538 Z" fill="#a6a5a5"/>
<ellipse cx="545" cy="193" rx="8" ry="10" fill="#a09f9f" stroke="#8e8d8d" stroke-width="0.6"/>
<path d="M552 128 C570 124 600 124 612 134 C610 146 600 152 590 154 C582 158 574 158 568 152 C558 150 550 142 552 128 Z" fill="#bebcbc" stroke="#999797" stroke-width="0.8"/>
<ellipse cx="583" cy="137" rx="12" ry="9" fill="#c8bebe" stroke="#939191" stroke-width="0.7"/>
<ellipse cx="562" cy="142" rx="9" ry="8" fill="#b3b1b1" stroke="#939191" stroke-width="0.6"/>
<ellipse cx="546" cy="129.5" rx="7" ry="3.6" fill="#c6acae"/>
<ellipse cx="604" cy="129" rx="8" ry="3" fill="#c4b0b0"/>
<path d="M600 150 C606 144 612 140 616 138 V180 C613 170 609 158 600 150 Z" fill="#bdbcbc"/>
<ellipse cx="586" cy="190.6" rx="16" ry="14.8" fill="#c9acad" stroke="#939090" stroke-width="0.9"/>
<ellipse cx="595" cy="162.5" rx="15.4" ry="12.4" fill="#a4a4a1" stroke="#737371" stroke-width="1.0"/>
<ellipse cx="594.6" cy="162.3" rx="13.2" ry="10.6" fill="#c4c8c0"/>
<path d="M583.5 156 C581 160 581 165 583.5 169 C585 165 585 160 583.5 156 Z" fill="#e4645c"/>
<ellipse cx="594.6" cy="162.2" rx="11.6" ry="9.6" fill="#a4dca2"/>
<ellipse cx="577.6" cy="162" rx="2.6" ry="4.6" fill="#a5a2a2" stroke="#8a8888" stroke-width="0.5"/>
</g>
<g filter="url(#b12)">
<path d="M582 157.5 C576 155 570 154.6 565.7 155.2 C560 157 556 159.6 553.3 162.2 C550.6 165 549 168 549 171 C550 173.4 551.6 174.6 553.3 174.5 C556 174.6 558 173.6 560.4 172.8 C561.4 176.4 562.6 180.2 564.8 183.3 C567.4 181.2 569.6 178.8 571.8 176.3 C574.6 174.8 577 173.2 579.7 171.9 C582 171.9 584.6 172 586.8 171.9 C583 168 581 162 582 157.5 Z" fill="#ee6476" opacity="0.9"/>
<ellipse cx="586" cy="192" rx="10.5" ry="9" fill="#e88a92" opacity="0.85"/>
</g>
<g filter="url(#b6)">
<ellipse cx="595" cy="162.5" rx="15.4" ry="12.4" fill="#a4a4a1" stroke="#737371" stroke-width="1.0"/>
<ellipse cx="594.6" cy="162.3" rx="13.2" ry="10.6" fill="#c4c8c0"/>
<path d="M583.5 156 C581 160 581 165 583.5 169 C585 165 585 160 583.5 156 Z" fill="#e4645c"/>
<ellipse cx="594.6" cy="162.2" rx="11.6" ry="9.6" fill="#a4dca2"/>
</g>
<rect x="538.40" y="126.20" width="77.40" height="76.60" fill="#000" filter="url(#noise)" opacity="0.13"/>
</g>
<rect x="538.40" y="126.20" width="77.40" height="76.60" fill="none" stroke="#2a2424" stroke-width="1.2" />
<rect x="592.90" y="193.00" width="16.70" height="2.60" fill="#c8222c" />
<clipPath id="cB"><rect x="617.3" y="125.4" width="77.5" height="77.4"/></clipPath>
<g clip-path="url(#cB)">
<rect x="617.30" y="125.40" width="77.50" height="77.40" fill="#b9b8b8" />
<g filter="url(#b6)">
<ellipse cx="657.7" cy="164" rx="32" ry="23" fill="#b8b7b7" stroke="#a3a2a2" stroke-width="0.8"/>
<ellipse cx="631.7" cy="133.2" rx="8" ry="8.4" fill="#c3b8b8" stroke="#737171" stroke-width="1.1"/>
<ellipse cx="650" cy="131.5" rx="6.6" ry="6.8" fill="#e8909a"/>
<ellipse cx="660.5" cy="129.5" rx="6.5" ry="6.5" fill="#cdabad" stroke="#8c8a8a" stroke-width="0.8"/>
<ellipse cx="668.6" cy="136" rx="8" ry="8.2" fill="#c6b2b3" stroke="#7a7878" stroke-width="1.1"/>
<ellipse cx="690" cy="127.5" rx="6" ry="3" fill="#d3a9ab"/>
<path d="M639.6 170 C641.4 166.4 646 165 651 165.6 C655.6 166 658.8 169.2 659 174 C659.4 178.8 656.6 182.6 652 183.8 C646.4 185 641 183 639.4 178.2 C638.6 175.6 638.6 172.6 639.6 170 Z" fill="#d2d1cd" stroke="#6a6967" stroke-width="1.1"/>
<ellipse cx="648.9" cy="174.5" rx="6.7" ry="6.5" fill="#9cdc98"/>
<path d="M646.4 184 L649 187 L652 184 Z" fill="#e2d2d2"/>
<ellipse cx="650" cy="194.4" rx="10.2" ry="9.4" fill="#c3aeae" stroke="#817f7f" stroke-width="1.0"/>
<ellipse cx="631.4" cy="196" rx="8.6" ry="8" fill="#bab7b7" stroke="#737171" stroke-width="1.1"/>
<path d="M664 203 C670 194 682 188 695 186" fill="none" stroke="#929090" stroke-width="0.9"/>
<ellipse cx="680" cy="201" rx="10" ry="4" fill="#c2c0c0"/>
<ellipse cx="620.8" cy="174.5" rx="2.8" ry="3.6" fill="#e68d96"/>
<ellipse cx="625.6" cy="182.4" rx="3.6" ry="2.6" fill="#3f3d3d"/>
<ellipse cx="623.4" cy="178.6" rx="2.6" ry="1.6" fill="#5f5d5d"/>
</g>
<g filter="url(#b12)">
<path d="M640 165 C642 159 647 154.6 652 153.4 C658 152.4 663 155 666 159 C668.4 162.6 668.6 166.6 667.6 170 C664 169.4 660 168 657 165.6 C652 164.2 645 164.4 640 165 Z" fill="#ee6476" opacity="0.88"/>
<ellipse cx="650" cy="194.8" rx="5.5" ry="4.6" fill="#e0989c" opacity="0.7"/>
</g>
<g filter="url(#b6)">
<path d="M639.6 170 C641.4 166.4 646 165 651 165.6 C655.6 166 658.8 169.2 659 174 C659.4 178.8 656.6 182.6 652 183.8 C646.4 185 641 183 639.4 178.2 C638.6 175.6 638.6 172.6 639.6 170 Z" fill="#d2d1cd" stroke="#6a6967" stroke-width="1.1"/>
<ellipse cx="648.9" cy="174.5" rx="6.7" ry="6.5" fill="#9cdc98"/>
</g>
<rect x="617.30" y="125.40" width="77.50" height="77.40" fill="#000" filter="url(#noise2)" opacity="0.13"/>
</g>
<rect x="617.30" y="125.40" width="77.50" height="77.40" fill="none" stroke="#2a2424" stroke-width="1.2" />
<rect x="671.80" y="191.80" width="16.70" height="2.90" fill="#c8222c" />
<text transform="translate(460.30 237.30) scale(1.16 1)" font-size="11.4" text-anchor="start" font-weight="bold" fill="#111" stroke="#111" stroke-width="0.3">G</text>
<rect x="495.70" y="244.60" width="36.57" height="16.70" fill="#a8afbc" />
<rect x="532.27" y="244.60" width="36.58" height="16.70" fill="#de9a80" />
<rect x="568.85" y="244.60" width="36.57" height="16.70" fill="#de897c" />
<rect x="605.42" y="244.60" width="36.58" height="16.70" fill="#a9afbd" />
<rect x="495.70" y="261.30" width="36.57" height="16.90" fill="#a8afbc" />
<rect x="532.27" y="261.30" width="36.58" height="16.90" fill="#de8f7c" />
<rect x="568.85" y="261.30" width="36.57" height="16.90" fill="#de8a7b" />
<rect x="605.42" y="261.30" width="36.58" height="16.90" fill="#a9afbd" />
<rect x="495.70" y="278.20" width="36.57" height="16.90" fill="#a8aebc" />
<rect x="532.27" y="278.20" width="36.58" height="16.90" fill="#de8e7c" />
<rect x="568.85" y="278.20" width="36.57" height="16.90" fill="#de897b" />
<rect x="605.42" y="278.20" width="36.58" height="16.90" fill="#a7abc0" />
<rect x="495.70" y="295.10" width="36.57" height="16.90" fill="#a8aebc" />
<rect x="532.27" y="295.10" width="36.58" height="16.90" fill="#de8e7c" />
<rect x="568.85" y="295.10" width="36.57" height="16.90" fill="#dd867b" />
<rect x="605.42" y="295.10" width="36.58" height="16.90" fill="#a9aebd" />
<rect x="495.70" y="312.00" width="36.57" height="16.70" fill="#92a9d3" />
<rect x="532.27" y="312.00" width="36.58" height="16.70" fill="#dba883" />
<rect x="568.85" y="312.00" width="36.57" height="16.70" fill="#dba883" />
<rect x="605.42" y="312.00" width="36.58" height="16.70" fill="#dd7679" />
<line x1="532.27" y1="244.60" x2="532.27" y2="328.70" stroke="#f7ece6" stroke-width="0.7" />
<line x1="568.85" y1="244.60" x2="568.85" y2="328.70" stroke="#f7ece6" stroke-width="0.7" />
<line x1="605.42" y1="244.60" x2="605.42" y2="328.70" stroke="#f7ece6" stroke-width="0.7" />
<line x1="495.70" y1="261.30" x2="642.00" y2="261.30" stroke="#f1eef0" stroke-width="0.7" />
<line x1="495.70" y1="278.20" x2="642.00" y2="278.20" stroke="#f1eef0" stroke-width="0.7" />
<line x1="495.70" y1="295.10" x2="642.00" y2="295.10" stroke="#f1eef0" stroke-width="0.7" />
<line x1="495.70" y1="312.00" x2="642.00" y2="312.00" stroke="#f1eef0" stroke-width="0.7" />
<rect x="495.70" y="244.60" width="146.30" height="84.10" fill="none" stroke="#2b2b2b" stroke-width="1.2" />
<text transform="translate(474.30 256.05) scale(1.16 1)" font-size="8.2" text-anchor="middle" font-weight="bold" fill="#111" stroke="#111" stroke-width="0.3">IL-1β</text>
<text transform="translate(474.30 272.85) scale(1.16 1)" font-size="8.2" text-anchor="middle" font-weight="bold" fill="#111" stroke="#111" stroke-width="0.3">TNF-α</text>
<text transform="translate(474.30 289.75) scale(1.16 1)" font-size="8.2" text-anchor="middle" font-weight="bold" fill="#111" stroke="#111" stroke-width="0.3">IL-12</text>
<text transform="translate(474.30 306.65) scale(1.16 1)" font-size="8.2" text-anchor="middle" font-weight="bold" fill="#111" stroke="#111" stroke-width="0.3">IL-6</text>
<text transform="translate(474.30 323.45) scale(1.16 1)" font-size="8.2" text-anchor="middle" font-weight="bold" fill="#111" stroke="#111" stroke-width="0.3">IL-4</text>
<rect x="495.70" y="339.00" width="36.50" height="17.20" fill="#a7adbc" />
<rect x="532.20" y="339.00" width="36.50" height="17.20" fill="#dd817a" />
<rect x="568.70" y="339.00" width="36.50" height="17.20" fill="#df8a7c" />
<rect x="605.20" y="339.00" width="36.50" height="17.20" fill="#a7adbe" />
<rect x="495.70" y="356.20" width="36.50" height="17.10" fill="#a2aec6" />
<rect x="532.20" y="356.20" width="36.50" height="17.10" fill="#dd7d79" />
<rect x="568.70" y="356.20" width="36.50" height="17.10" fill="#dd7d79" />
<rect x="605.20" y="356.20" width="36.50" height="17.10" fill="#a2afc8" />
<rect x="495.70" y="373.30" width="36.50" height="16.90" fill="#93a9d2" />
<rect x="532.20" y="373.30" width="36.50" height="16.90" fill="#dc9680" />
<rect x="568.70" y="373.30" width="36.50" height="16.90" fill="#dc7c78" />
<rect x="605.20" y="373.30" width="36.50" height="16.90" fill="#a4adc5" />
<rect x="495.70" y="390.20" width="36.50" height="16.90" fill="#a7adbe" />
<rect x="532.20" y="390.20" width="36.50" height="16.90" fill="#dd807a" />
<rect x="568.70" y="390.20" width="36.50" height="16.90" fill="#de877b" />
<rect x="605.20" y="390.20" width="36.50" height="16.90" fill="#a6adc2" />
<rect x="495.70" y="407.10" width="36.50" height="16.70" fill="#dc767a" />
<rect x="532.20" y="407.10" width="36.50" height="16.70" fill="#9eadc9" />
<rect x="568.70" y="407.10" width="36.50" height="16.70" fill="#b3adaa" />
<rect x="605.20" y="407.10" width="36.50" height="16.70" fill="#dd877b" />
<line x1="532.20" y1="339.00" x2="532.20" y2="423.80" stroke="#f7ece6" stroke-width="0.7" />
<line x1="568.70" y1="339.00" x2="568.70" y2="423.80" stroke="#f7ece6" stroke-width="0.7" />
<line x1="605.20" y1="339.00" x2="605.20" y2="423.80" stroke="#f7ece6" stroke-width="0.7" />
<line x1="495.70" y1="356.20" x2="641.70" y2="356.20" stroke="#f1eef0" stroke-width="0.7" />
<line x1="495.70" y1="373.30" x2="641.70" y2="373.30" stroke="#f1eef0" stroke-width="0.7" />
<line x1="495.70" y1="390.20" x2="641.70" y2="390.20" stroke="#f1eef0" stroke-width="0.7" />
<line x1="495.70" y1="407.10" x2="641.70" y2="407.10" stroke="#f1eef0" stroke-width="0.7" />
<rect x="495.70" y="339.00" width="146.00" height="84.80" fill="none" stroke="#2b2b2b" stroke-width="1.2" />
<text transform="translate(477.30 350.70) scale(1.16 1)" font-size="8.2" text-anchor="middle" font-weight="bold" fill="#111" stroke="#111" stroke-width="0.3">IL-1β</text>
<text transform="translate(477.30 367.85) scale(1.16 1)" font-size="8.2" text-anchor="middle" font-weight="bold" fill="#111" stroke="#111" stroke-width="0.3">TNF-α</text>
<text transform="translate(477.30 384.85) scale(1.16 1)" font-size="8.2" text-anchor="middle" font-weight="bold" fill="#111" stroke="#111" stroke-width="0.3">IL-12</text>
<text transform="translate(477.30 401.75) scale(1.16 1)" font-size="8.2" text-anchor="middle" font-weight="bold" fill="#111" stroke="#111" stroke-width="0.3">IL-6</text>
<text transform="translate(477.30 418.55) scale(1.16 1)" font-size="8.2" text-anchor="middle" font-weight="bold" fill="#111" stroke="#111" stroke-width="0.3">IL-4</text>
<line x1="654.30" y1="246.00" x2="654.30" y2="325.70" stroke="#111" stroke-width="1.4" />
<text transform="translate(662.50 291.90) scale(1.16 1)" font-size="8.2" text-anchor="start" font-weight="bold" fill="#111" stroke="#111" stroke-width="0.3">M0</text>
<line x1="654.30" y1="344.30" x2="654.30" y2="424.60" stroke="#111" stroke-width="1.4" />
<text transform="translate(659.60 384.00) scale(1.16 1)" font-size="8.2" text-anchor="start" font-weight="bold" fill="#111" stroke="#111" stroke-width="0.3">M2</text>
<text transform="translate(520.40 434.40) scale(1.16 1) rotate(-45)" font-size="8.2" text-anchor="end" font-weight="bold" fill="#111" stroke="#111" stroke-width="0.3">PBS</text>
<text transform="translate(558.20 435.60) scale(1.16 1) rotate(-45)" font-size="8.2" text-anchor="end" font-weight="bold" fill="#111" stroke="#111" stroke-width="0.3">OMVs</text>
<text transform="translate(595.40 432.80) scale(1.16 1) rotate(-45)" font-size="8.2" text-anchor="end" font-weight="bold" fill="#111" stroke="#111" stroke-width="0.3">OMV-CD47nb</text>
<text transform="translate(631.20 433.40) scale(1.16 1) rotate(-45)" font-size="8.2" text-anchor="end" font-weight="bold" fill="#111" stroke="#111" stroke-width="0.3">Anti-CD47</text>
<defs><linearGradient id="cb" x1="0" x2="1" y1="0" y2="0"><stop offset="0" stop-color="#8fa9dc"/><stop offset="0.25" stop-color="#b1b0b6"/><stop offset="0.45" stop-color="#dcae86"/><stop offset="0.7" stop-color="#e08f7d"/><stop offset="1" stop-color="#e0707c"/></linearGradient></defs>
<rect x="540.30" y="475.40" width="111.90" height="10.90" fill="url(#cb)" stroke="#2b2b2b" stroke-width="1.0" />
<line x1="550.20" y1="475.40" x2="550.20" y2="478.00" stroke="#222" stroke-width="0.8" />
<line x1="569.70" y1="475.40" x2="569.70" y2="478.00" stroke="#222" stroke-width="0.8" />
<line x1="589.10" y1="475.40" x2="589.10" y2="478.00" stroke="#222" stroke-width="0.8" />
<line x1="608.50" y1="475.40" x2="608.50" y2="478.00" stroke="#222" stroke-width="0.8" />
<line x1="627.90" y1="475.40" x2="627.90" y2="478.00" stroke="#222" stroke-width="0.8" />
<line x1="647.40" y1="475.40" x2="647.40" y2="478.00" stroke="#222" stroke-width="0.8" />
<text transform="translate(500.90 494.80) scale(1.16 1)" font-size="8.2" text-anchor="start" font-weight="bold" fill="#111" stroke="#111" stroke-width="0.3">Z-score</text>
<text transform="translate(551.30 495.80) scale(1.16 1)" font-size="8.2" text-anchor="middle" font-weight="bold" fill="#111" stroke="#111" stroke-width="0.3">-1.0</text>
<text transform="translate(569.40 495.80) scale(1.16 1)" font-size="8.2" text-anchor="middle" font-weight="bold" fill="#111" stroke="#111" stroke-width="0.3">-0.5</text>
<text transform="translate(589.50 495.80) scale(1.16 1)" font-size="8.2" text-anchor="middle" font-weight="bold" fill="#111" stroke="#111" stroke-width="0.3">0</text>
<text transform="translate(609.60 495.80) scale(1.16 1)" font-size="8.2" text-anchor="middle" font-weight="bold" fill="#111" stroke="#111" stroke-width="0.3">0.5</text>
<text transform="translate(629.00 495.80) scale(1.16 1)" font-size="8.2" text-anchor="middle" font-weight="bold" fill="#111" stroke="#111" stroke-width="0.3">1.0</text>
<text transform="translate(648.40 495.80) scale(1.16 1)" font-size="8.2" text-anchor="middle" font-weight="bold" fill="#111" stroke="#111" stroke-width="0.3">1.5</text>
</svg>
</body></html>
